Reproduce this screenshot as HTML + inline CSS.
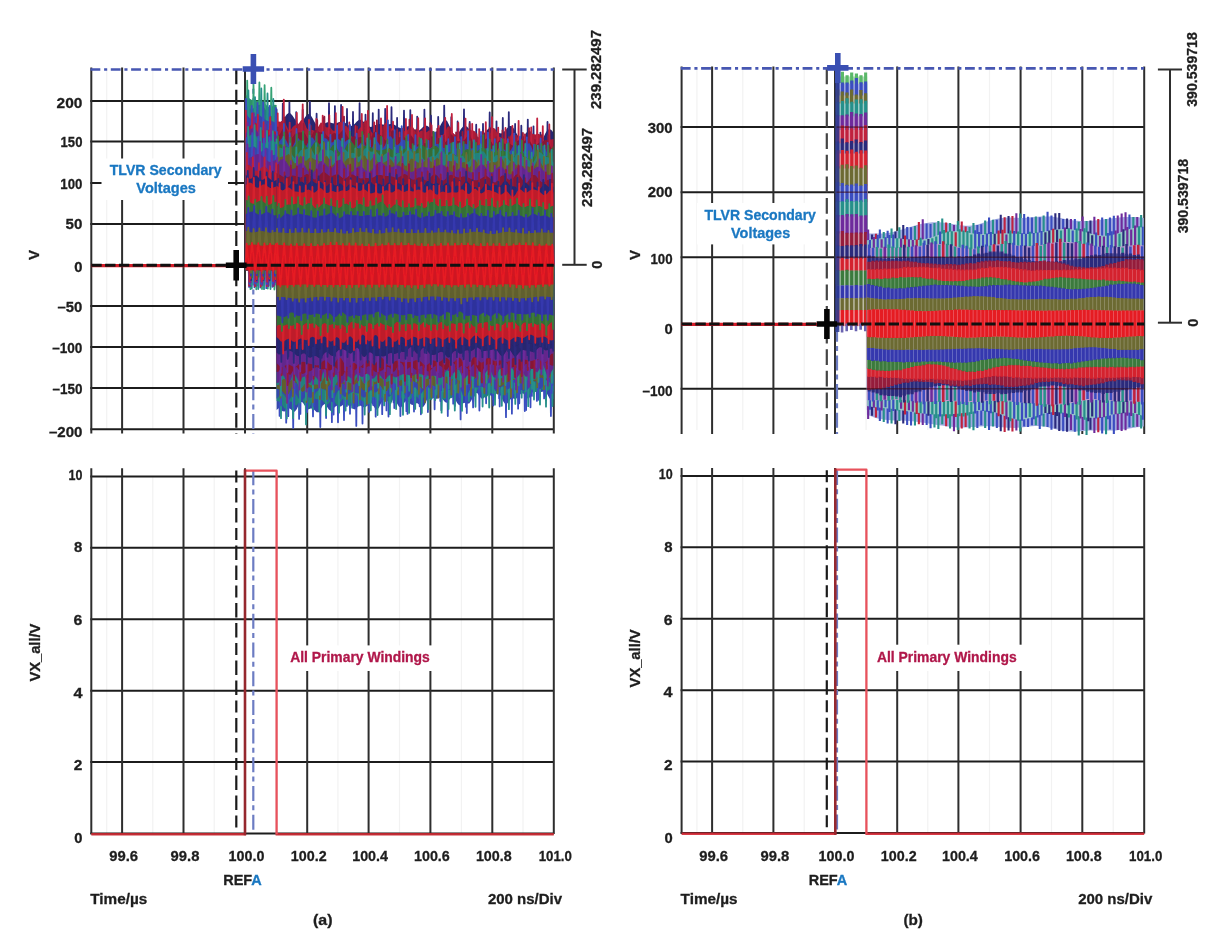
<!DOCTYPE html><html><head><meta charset="utf-8"><title>TLVR</title><style>html,body{margin:0;padding:0;background:#fff;overflow:hidden}svg{display:block;will-change:transform}</style></head><body>
<svg width="1227" height="940" viewBox="0 0 1227 940" font-family="'Liberation Sans', sans-serif">
<defs><filter id="bl" x="-2%" y="-2%" width="104%" height="104%"><feGaussianBlur stdDeviation="0.7"/></filter><clipPath id="cua"><rect x="0" y="0" width="1227" height="265.3"/></clipPath><clipPath id="cda"><rect x="0" y="265.3" width="1227" height="700"/></clipPath></defs>
<rect width="1227" height="940" fill="#fff"/>
<line x1="106.7" y1="69.5" x2="106.7" y2="429.5" stroke="#f2f2f2" stroke-width="1.2" />
<line x1="106.7" y1="476.3" x2="106.7" y2="833.5" stroke="#f2f2f2" stroke-width="1.2" />
<line x1="152.8" y1="69.5" x2="152.8" y2="429.5" stroke="#f2f2f2" stroke-width="1.2" />
<line x1="152.8" y1="476.3" x2="152.8" y2="833.5" stroke="#f2f2f2" stroke-width="1.2" />
<line x1="214.2" y1="69.5" x2="214.2" y2="429.5" stroke="#f2f2f2" stroke-width="1.2" />
<line x1="214.2" y1="476.3" x2="214.2" y2="833.5" stroke="#f2f2f2" stroke-width="1.2" />
<line x1="276.1" y1="69.5" x2="276.1" y2="429.5" stroke="#f2f2f2" stroke-width="1.2" />
<line x1="276.1" y1="476.3" x2="276.1" y2="833.5" stroke="#f2f2f2" stroke-width="1.2" />
<line x1="337.9" y1="69.5" x2="337.9" y2="429.5" stroke="#f2f2f2" stroke-width="1.2" />
<line x1="337.9" y1="476.3" x2="337.9" y2="833.5" stroke="#f2f2f2" stroke-width="1.2" />
<line x1="399.5" y1="69.5" x2="399.5" y2="429.5" stroke="#f2f2f2" stroke-width="1.2" />
<line x1="399.5" y1="476.3" x2="399.5" y2="833.5" stroke="#f2f2f2" stroke-width="1.2" />
<line x1="461.4" y1="69.5" x2="461.4" y2="429.5" stroke="#f2f2f2" stroke-width="1.2" />
<line x1="461.4" y1="476.3" x2="461.4" y2="833.5" stroke="#f2f2f2" stroke-width="1.2" />
<line x1="523" y1="69.5" x2="523" y2="429.5" stroke="#f2f2f2" stroke-width="1.2" />
<line x1="523" y1="476.3" x2="523" y2="833.5" stroke="#f2f2f2" stroke-width="1.2" />
<line x1="90.3" y1="101.1" x2="553.8" y2="101.1" stroke="#1c1c1c" stroke-width="2" />
<line x1="90.3" y1="141.5" x2="553.8" y2="141.5" stroke="#1c1c1c" stroke-width="2" />
<line x1="90.3" y1="183" x2="553.8" y2="183" stroke="#1c1c1c" stroke-width="2" />
<line x1="90.3" y1="224" x2="553.8" y2="224" stroke="#1c1c1c" stroke-width="2" />
<line x1="90.3" y1="306" x2="553.8" y2="306" stroke="#1c1c1c" stroke-width="2" />
<line x1="90.3" y1="347" x2="553.8" y2="347" stroke="#1c1c1c" stroke-width="2" />
<line x1="90.3" y1="388" x2="553.8" y2="388" stroke="#1c1c1c" stroke-width="2" />
<line x1="90.3" y1="429.2" x2="553.8" y2="429.2" stroke="#1c1c1c" stroke-width="2" />
<line x1="91.3" y1="67.5" x2="91.3" y2="433.5" stroke="#2e2e2e" stroke-width="2" />
<line x1="122.1" y1="67.5" x2="122.1" y2="433.5" stroke="#2e2e2e" stroke-width="2" />
<line x1="183.5" y1="67.5" x2="183.5" y2="433.5" stroke="#2e2e2e" stroke-width="2" />
<line x1="245" y1="67.5" x2="245" y2="433.5" stroke="#2e2e2e" stroke-width="2" />
<line x1="307.2" y1="67.5" x2="307.2" y2="433.5" stroke="#2e2e2e" stroke-width="2" />
<line x1="368.6" y1="67.5" x2="368.6" y2="433.5" stroke="#2e2e2e" stroke-width="2" />
<line x1="430.4" y1="67.5" x2="430.4" y2="433.5" stroke="#2e2e2e" stroke-width="2" />
<line x1="492.3" y1="67.5" x2="492.3" y2="433.5" stroke="#2e2e2e" stroke-width="2" />
<line x1="553.8" y1="67.5" x2="553.8" y2="433.5" stroke="#2e2e2e" stroke-width="2" />
<line x1="253.3" y1="69.5" x2="253.3" y2="433.5" stroke="#6c7cc2" stroke-width="2.2" stroke-dasharray="15 4.2 5 4.5"/>
<line x1="90.3" y1="476.4" x2="553.8" y2="476.4" stroke="#1c1c1c" stroke-width="2" />
<line x1="90.3" y1="547.8" x2="553.8" y2="547.8" stroke="#1c1c1c" stroke-width="2" />
<line x1="90.3" y1="619.2" x2="553.8" y2="619.2" stroke="#1c1c1c" stroke-width="2" />
<line x1="90.3" y1="690.7" x2="553.8" y2="690.7" stroke="#1c1c1c" stroke-width="2" />
<line x1="90.3" y1="762.1" x2="553.8" y2="762.1" stroke="#1c1c1c" stroke-width="2" />
<line x1="90.3" y1="833.5" x2="553.8" y2="833.5" stroke="#1c1c1c" stroke-width="2" />
<line x1="91.3" y1="468.3" x2="91.3" y2="834" stroke="#2e2e2e" stroke-width="2" />
<line x1="122.1" y1="468.3" x2="122.1" y2="834" stroke="#2e2e2e" stroke-width="2" />
<line x1="183.5" y1="468.3" x2="183.5" y2="834" stroke="#2e2e2e" stroke-width="2" />
<line x1="245" y1="468.3" x2="245" y2="834" stroke="#2e2e2e" stroke-width="2" />
<line x1="307.2" y1="468.3" x2="307.2" y2="834" stroke="#2e2e2e" stroke-width="2" />
<line x1="368.6" y1="468.3" x2="368.6" y2="834" stroke="#2e2e2e" stroke-width="2" />
<line x1="430.4" y1="468.3" x2="430.4" y2="834" stroke="#2e2e2e" stroke-width="2" />
<line x1="492.3" y1="468.3" x2="492.3" y2="834" stroke="#2e2e2e" stroke-width="2" />
<line x1="553.8" y1="468.3" x2="553.8" y2="834" stroke="#2e2e2e" stroke-width="2" />
<line x1="696.9" y1="68.4" x2="696.9" y2="430" stroke="#f2f2f2" stroke-width="1.2" />
<line x1="696.9" y1="476" x2="696.9" y2="833" stroke="#f2f2f2" stroke-width="1.2" />
<line x1="742.8" y1="68.4" x2="742.8" y2="430" stroke="#f2f2f2" stroke-width="1.2" />
<line x1="742.8" y1="476" x2="742.8" y2="833" stroke="#f2f2f2" stroke-width="1.2" />
<line x1="804.2" y1="68.4" x2="804.2" y2="430" stroke="#f2f2f2" stroke-width="1.2" />
<line x1="804.2" y1="476" x2="804.2" y2="833" stroke="#f2f2f2" stroke-width="1.2" />
<line x1="866.1" y1="68.4" x2="866.1" y2="430" stroke="#f2f2f2" stroke-width="1.2" />
<line x1="866.1" y1="476" x2="866.1" y2="833" stroke="#f2f2f2" stroke-width="1.2" />
<line x1="927.8" y1="68.4" x2="927.8" y2="430" stroke="#f2f2f2" stroke-width="1.2" />
<line x1="927.8" y1="476" x2="927.8" y2="833" stroke="#f2f2f2" stroke-width="1.2" />
<line x1="989.5" y1="68.4" x2="989.5" y2="430" stroke="#f2f2f2" stroke-width="1.2" />
<line x1="989.5" y1="476" x2="989.5" y2="833" stroke="#f2f2f2" stroke-width="1.2" />
<line x1="1051.5" y1="68.4" x2="1051.5" y2="430" stroke="#f2f2f2" stroke-width="1.2" />
<line x1="1051.5" y1="476" x2="1051.5" y2="833" stroke="#f2f2f2" stroke-width="1.2" />
<line x1="1113.2" y1="68.4" x2="1113.2" y2="430" stroke="#f2f2f2" stroke-width="1.2" />
<line x1="1113.2" y1="476" x2="1113.2" y2="833" stroke="#f2f2f2" stroke-width="1.2" />
<line x1="680.6" y1="127.1" x2="1144.2" y2="127.1" stroke="#1c1c1c" stroke-width="2" />
<line x1="680.6" y1="192.2" x2="1144.2" y2="192.2" stroke="#1c1c1c" stroke-width="2" />
<line x1="680.6" y1="257.2" x2="1144.2" y2="257.2" stroke="#1c1c1c" stroke-width="2" />
<line x1="680.6" y1="388.7" x2="1144.2" y2="388.7" stroke="#1c1c1c" stroke-width="2" />
<line x1="681.6" y1="66.4" x2="681.6" y2="434" stroke="#2e2e2e" stroke-width="2" />
<line x1="712.1" y1="66.4" x2="712.1" y2="434" stroke="#2e2e2e" stroke-width="2" />
<line x1="773.4" y1="66.4" x2="773.4" y2="434" stroke="#2e2e2e" stroke-width="2" />
<line x1="835" y1="66.4" x2="835" y2="434" stroke="#2e2e2e" stroke-width="2" />
<line x1="897.2" y1="66.4" x2="897.2" y2="434" stroke="#2e2e2e" stroke-width="2" />
<line x1="958.4" y1="66.4" x2="958.4" y2="434" stroke="#2e2e2e" stroke-width="2" />
<line x1="1020.6" y1="66.4" x2="1020.6" y2="434" stroke="#2e2e2e" stroke-width="2" />
<line x1="1082.3" y1="66.4" x2="1082.3" y2="434" stroke="#2e2e2e" stroke-width="2" />
<line x1="1144.2" y1="66.4" x2="1144.2" y2="434" stroke="#2e2e2e" stroke-width="2" />
<line x1="837" y1="68.4" x2="837" y2="434" stroke="#6c7cc2" stroke-width="2.2" stroke-dasharray="15 4.2 5 4.5"/>
<line x1="680.6" y1="475.9" x2="1144.2" y2="475.9" stroke="#1c1c1c" stroke-width="2" />
<line x1="680.6" y1="547.3" x2="1144.2" y2="547.3" stroke="#1c1c1c" stroke-width="2" />
<line x1="680.6" y1="618.7" x2="1144.2" y2="618.7" stroke="#1c1c1c" stroke-width="2" />
<line x1="680.6" y1="690.2" x2="1144.2" y2="690.2" stroke="#1c1c1c" stroke-width="2" />
<line x1="680.6" y1="761.6" x2="1144.2" y2="761.6" stroke="#1c1c1c" stroke-width="2" />
<line x1="680.6" y1="833" x2="1144.2" y2="833" stroke="#1c1c1c" stroke-width="2" />
<line x1="681.6" y1="468" x2="681.6" y2="833.5" stroke="#2e2e2e" stroke-width="2" />
<line x1="712.1" y1="468" x2="712.1" y2="833.5" stroke="#2e2e2e" stroke-width="2" />
<line x1="773.4" y1="468" x2="773.4" y2="833.5" stroke="#2e2e2e" stroke-width="2" />
<line x1="835" y1="468" x2="835" y2="833.5" stroke="#2e2e2e" stroke-width="2" />
<line x1="897.2" y1="468" x2="897.2" y2="833.5" stroke="#2e2e2e" stroke-width="2" />
<line x1="958.4" y1="468" x2="958.4" y2="833.5" stroke="#2e2e2e" stroke-width="2" />
<line x1="1020.6" y1="468" x2="1020.6" y2="833.5" stroke="#2e2e2e" stroke-width="2" />
<line x1="1082.3" y1="468" x2="1082.3" y2="833.5" stroke="#2e2e2e" stroke-width="2" />
<line x1="1144.2" y1="468" x2="1144.2" y2="833.5" stroke="#2e2e2e" stroke-width="2" />
<g filter="url(#bl)">
<path d="M245.8 94.6L247.9 96.9 249.9 98.8 252 99.9 254 100.3 256.1 100.4 258.1 100.5 260.2 100.6 262.2 101.2 264.3 102.6 266.3 104.9 268.4 106.8 270.4 107.4 272.5 106.3 274.5 104.8 276.6 105.1 276.6 270.3 274.5 270.3 272.5 270.3 270.4 270.3 268.4 270.3 266.3 270.3 264.3 270.3 262.2 270.3 260.2 270.3 258.1 270.3 256.1 270.3 254 270.3 252 270.3 249.9 270.3 247.9 270.3 245.8 270.3Z" fill="#2e9168" stroke="none"/>
<path d="M245.8 265.3L247.2 80.6 250.5 289.2 253.5 84.8 256.3 289.3 259.4 82.5 262 289 264.6 85.1 267.8 288.5 271.3 87.7 274.4 289.5 276.6 265.3" fill="none" stroke="#34a274" stroke-width="1.8" stroke-linejoin="round" stroke-opacity="1.0"/>
<path d="M276.6 123.2L278.6 123.3 280.6 122.4 282.6 120.3 284.6 117.4 286.6 114.6 288.6 113.1 290.6 113.4 292.6 115.7 294.7 119 296.7 122.2 298.7 123.9 300.7 123.5 302.7 121 304.7 117.7 306.7 114.9 308.7 113.9 310.7 115.2 312.7 118.4 314.7 122.3 316.7 125.5 318.7 127.1 320.7 126.9 322.7 125.4 324.7 123.6 326.7 122.4 328.8 122.1 330.8 122.7 332.8 123.3 334.8 123.5 336.8 123 338.8 122.2 340.8 121.5 342.8 121.5 344.8 122.5 346.8 124 348.8 125.5 350.8 126.1 352.8 125.4 354.8 123.7 356.8 121.6 358.8 120.1 360.8 119.8 362.8 121 364.9 123 366.9 125.1 368.9 126.5 370.9 126.9 372.9 126.3 374.9 125.3 376.9 124.4 378.9 124 380.9 124.2 382.9 124.6 384.9 124.8 386.9 124.6 388.9 124.2 390.9 123.9 392.9 124.2 394.9 125.1 396.9 126.4 399 127.6 401 128.2 403 128 405 127.2 407 126.4 409 126.1 411 126.8 413 128.2 415 129.8 417 130.7 419 130.4 421 128.9 423 127.1 425 125.7 427 125.7 429 127.1 431 129.5 433.1 131.7 435.1 132.5 437.1 131.1 439.1 127.9 441.1 123.9 443.1 120.7 445.1 119.6 447.1 121.1 449.1 124.9 451.1 129.4 453.1 133.2 455.1 135 457.1 134.3 459.1 131.9 461.1 128.8 463.1 126.4 465.1 125.7 467.2 126.8 469.2 129.3 471.2 132.4 473.2 135.2 475.2 137 477.2 137.6 479.2 137.1 481.2 135.8 483.2 133.9 485.2 131.8 487.2 129.8 489.2 128.3 491.2 127.6 493.2 128.1 495.2 129.5 497.2 131.4 499.2 132.9 501.2 133.5 503.3 132.6 505.3 130.4 507.3 127.9 509.3 126.1 511.3 126 513.3 127.8 515.3 131.2 517.3 134.8 519.3 137.4 521.3 138 523.3 136.5 525.3 133.9 527.3 131.4 529.3 130.5 531.3 131.9 533.3 135.1 535.3 139 537.4 142 539.4 142.9 541.4 141.2 543.4 137.5 545.4 133.3 547.4 130.1 549.4 128.9 551.4 129.9 553.4 132.5 553.4 265.3 551.4 265.3 549.4 265.3 547.4 265.3 545.4 265.3 543.4 265.3 541.4 265.3 539.4 265.3 537.4 265.3 535.3 265.3 533.3 265.3 531.3 265.3 529.3 265.3 527.3 265.3 525.3 265.3 523.3 265.3 521.3 265.3 519.3 265.3 517.3 265.3 515.3 265.3 513.3 265.3 511.3 265.3 509.3 265.3 507.3 265.3 505.3 265.3 503.3 265.3 501.2 265.3 499.2 265.3 497.2 265.3 495.2 265.3 493.2 265.3 491.2 265.3 489.2 265.3 487.2 265.3 485.2 265.3 483.2 265.3 481.2 265.3 479.2 265.3 477.2 265.3 475.2 265.3 473.2 265.3 471.2 265.3 469.2 265.3 467.2 265.3 465.1 265.3 463.1 265.3 461.1 265.3 459.1 265.3 457.1 265.3 455.1 265.3 453.1 265.3 451.1 265.3 449.1 265.3 447.1 265.3 445.1 265.3 443.1 265.3 441.1 265.3 439.1 265.3 437.1 265.3 435.1 265.3 433.1 265.3 431 265.3 429 265.3 427 265.3 425 265.3 423 265.3 421 265.3 419 265.3 417 265.3 415 265.3 413 265.3 411 265.3 409 265.3 407 265.3 405 265.3 403 265.3 401 265.3 399 265.3 396.9 265.3 394.9 265.3 392.9 265.3 390.9 265.3 388.9 265.3 386.9 265.3 384.9 265.3 382.9 265.3 380.9 265.3 378.9 265.3 376.9 265.3 374.9 265.3 372.9 265.3 370.9 265.3 368.9 265.3 366.9 265.3 364.9 265.3 362.8 265.3 360.8 265.3 358.8 265.3 356.8 265.3 354.8 265.3 352.8 265.3 350.8 265.3 348.8 265.3 346.8 265.3 344.8 265.3 342.8 265.3 340.8 265.3 338.8 265.3 336.8 265.3 334.8 265.3 332.8 265.3 330.8 265.3 328.8 265.3 326.7 265.3 324.7 265.3 322.7 265.3 320.7 265.3 318.7 265.3 316.7 265.3 314.7 265.3 312.7 265.3 310.7 265.3 308.7 265.3 306.7 265.3 304.7 265.3 302.7 265.3 300.7 265.3 298.7 265.3 296.7 265.3 294.7 265.3 292.6 265.3 290.6 265.3 288.6 265.3 286.6 265.3 284.6 265.3 282.6 265.3 280.6 265.3 278.6 265.3 276.6 265.3Z" fill="#27256f" stroke="none"/>
<path d="M276.6 265.3L278.6 265.3 280.6 265.3 282.6 265.3 284.6 265.3 286.6 265.3 288.6 265.3 290.6 265.3 292.6 265.3 294.7 265.3 296.7 265.3 298.7 265.3 300.7 265.3 302.7 265.3 304.7 265.3 306.7 265.3 308.7 265.3 310.7 265.3 312.7 265.3 314.7 265.3 316.7 265.3 318.7 265.3 320.7 265.3 322.7 265.3 324.7 265.3 326.7 265.3 328.8 265.3 330.8 265.3 332.8 265.3 334.8 265.3 336.8 265.3 338.8 265.3 340.8 265.3 342.8 265.3 344.8 265.3 346.8 265.3 348.8 265.3 350.8 265.3 352.8 265.3 354.8 265.3 356.8 265.3 358.8 265.3 360.8 265.3 362.8 265.3 364.9 265.3 366.9 265.3 368.9 265.3 370.9 265.3 372.9 265.3 374.9 265.3 376.9 265.3 378.9 265.3 380.9 265.3 382.9 265.3 384.9 265.3 386.9 265.3 388.9 265.3 390.9 265.3 392.9 265.3 394.9 265.3 396.9 265.3 399 265.3 401 265.3 403 265.3 405 265.3 407 265.3 409 265.3 411 265.3 413 265.3 415 265.3 417 265.3 419 265.3 421 265.3 423 265.3 425 265.3 427 265.3 429 265.3 431 265.3 433.1 265.3 435.1 265.3 437.1 265.3 439.1 265.3 441.1 265.3 443.1 265.3 445.1 265.3 447.1 265.3 449.1 265.3 451.1 265.3 453.1 265.3 455.1 265.3 457.1 265.3 459.1 265.3 461.1 265.3 463.1 265.3 465.1 265.3 467.2 265.3 469.2 265.3 471.2 265.3 473.2 265.3 475.2 265.3 477.2 265.3 479.2 265.3 481.2 265.3 483.2 265.3 485.2 265.3 487.2 265.3 489.2 265.3 491.2 265.3 493.2 265.3 495.2 265.3 497.2 265.3 499.2 265.3 501.2 265.3 503.3 265.3 505.3 265.3 507.3 265.3 509.3 265.3 511.3 265.3 513.3 265.3 515.3 265.3 517.3 265.3 519.3 265.3 521.3 265.3 523.3 265.3 525.3 265.3 527.3 265.3 529.3 265.3 531.3 265.3 533.3 265.3 535.3 265.3 537.4 265.3 539.4 265.3 541.4 265.3 543.4 265.3 545.4 265.3 547.4 265.3 549.4 265.3 551.4 265.3 553.4 265.3 553.4 399.1 551.4 400.4 549.4 398.3 547.4 394.5 545.4 391.8 543.4 391.5 541.4 392.1 539.4 391.8 537.4 390.2 535.3 389.2 533.3 390.8 531.3 394.6 529.3 398 527.3 398.4 525.3 396 523.3 393.5 521.3 393.3 519.3 395.5 517.3 398.1 515.3 398.9 513.3 398.4 511.3 398.6 509.3 400.8 507.3 403.5 505.3 404.2 503.3 401.5 501.2 396.8 499.2 393.5 497.2 393.2 495.2 395.1 493.2 396.4 491.2 395.9 489.2 394.6 487.2 394.6 485.2 396.6 483.2 398.6 481.2 398.4 479.2 395.8 477.2 393 475.2 393.1 473.2 396.5 471.2 400.8 469.2 403.4 467.2 403.4 465.1 402.7 463.1 403.2 461.1 404.8 459.1 405.3 457.1 403.1 455.1 399.2 453.1 396.5 451.1 397 449.1 400 447.1 402.5 445.1 402.2 443.1 399.8 441.1 397.7 439.1 397.7 437.1 398.7 435.1 398.8 433.1 397 431 395.1 429 395.7 427 399.5 425 404.4 423 407.2 421 406.6 419 404.4 417 403.1 415 403.9 413 405.1 411 404.6 409 402.5 407 400.8 405 401.8 403 404.9 401 407.4 399 406.8 396.9 403.2 394.9 399.5 392.9 398.2 390.9 399.5 388.9 401 386.9 401 384.9 400.1 382.9 400.6 380.9 403.6 378.9 407.7 376.9 409.8 374.9 408.3 372.9 404.9 370.9 402.7 368.9 403.4 366.9 406 364.9 407.6 362.8 407.1 360.8 405.8 358.8 405.8 356.8 407.8 354.8 409.5 352.8 408.4 350.8 404.5 348.8 400.5 346.8 399.3 344.8 401.6 342.8 404.9 340.8 406.6 338.8 406.3 336.8 405.7 334.8 407 332.8 409.5 330.8 411 328.8 409.5 326.7 406.2 324.7 404.1 322.7 405.4 320.7 409.2 318.7 412.2 316.7 412.3 314.7 410.2 312.7 408.4 310.7 408.4 308.7 409.3 306.7 408.6 304.7 405.6 302.7 402.4 300.7 401.8 298.7 404.9 296.7 409.2 294.7 411.7 292.6 411 290.6 408.9 288.6 408.2 286.6 409.7 284.6 411.4 282.6 411.3 280.6 409.5 278.6 408.2 276.6 409.9Z" fill="#3446ac" stroke="none"/>
<path d="M276.6 265.3L276.6 109.4 279.6 415.9 282.8 103.6 286.2 422.7 289.4 102.3 293.2 427.9 296.2 112.1 299.1 418.9 302.7 109.7 306.2 415.1 309.9 101.7 313 416.4 316.6 113.6 320.3 427 323.1 117.5 326.1 418 329 103.2 331.9 422.2 334.9 106.1 338 422.3 341.1 105 344 420.1 347 109 350 413.8 353 112 356.3 425.9 359.6 103.1 362.5 423.5 365.5 114.7 369.2 411.9 372.8 113.2 375.7 416.7 378.7 109.6 382.2 414.2 385.2 108.8 388.5 416.6 391.5 107.2 394.3 408 397.1 117.8 400.4 416 404 110.6 407.5 413.9 410.3 110.1 414 411.6 417.2 116.6 420.9 414.3 424.4 109.6 427.9 412.1 431 115.7 434.6 409.3 438.2 116.9 441.3 410.3 444.2 105.6 447.8 416.1 451.3 117.1 454.8 406.1 457.6 121.4 460.6 419.4 464 109.3 466.8 413.1 469.7 121.8 473.1 407.4 476.2 124.7 479.4 410.5 483 123.8 486.1 403.3 489.7 112.5 493.3 405.5 496.5 121.3 499.7 406.4 502.8 118 506 417.2 508.8 112.1 511.9 413.7 515.1 123.9 518.1 408.7 521.3 125.7 524.8 411.1 527.8 119.6 530.5 407.3 533.5 126.3 536.9 400.9 540.4 132.6 544.1 398.4 547.5 122 550.9 416.1 553.4 265.3" fill="none" stroke="#2c2a7c" stroke-width="1.8" stroke-linejoin="round" clip-path="url(#cua)"/>
<path d="M276.6 265.3L276.6 109.4 279.6 415.9 282.8 103.6 286.2 422.7 289.4 102.3 293.2 427.9 296.2 112.1 299.1 418.9 302.7 109.7 306.2 415.1 309.9 101.7 313 416.4 316.6 113.6 320.3 427 323.1 117.5 326.1 418 329 103.2 331.9 422.2 334.9 106.1 338 422.3 341.1 105 344 420.1 347 109 350 413.8 353 112 356.3 425.9 359.6 103.1 362.5 423.5 365.5 114.7 369.2 411.9 372.8 113.2 375.7 416.7 378.7 109.6 382.2 414.2 385.2 108.8 388.5 416.6 391.5 107.2 394.3 408 397.1 117.8 400.4 416 404 110.6 407.5 413.9 410.3 110.1 414 411.6 417.2 116.6 420.9 414.3 424.4 109.6 427.9 412.1 431 115.7 434.6 409.3 438.2 116.9 441.3 410.3 444.2 105.6 447.8 416.1 451.3 117.1 454.8 406.1 457.6 121.4 460.6 419.4 464 109.3 466.8 413.1 469.7 121.8 473.1 407.4 476.2 124.7 479.4 410.5 483 123.8 486.1 403.3 489.7 112.5 493.3 405.5 496.5 121.3 499.7 406.4 502.8 118 506 417.2 508.8 112.1 511.9 413.7 515.1 123.9 518.1 408.7 521.3 125.7 524.8 411.1 527.8 119.6 530.5 407.3 533.5 126.3 536.9 400.9 540.4 132.6 544.1 398.4 547.5 122 550.9 416.1 553.4 265.3" fill="none" stroke="#3a4ec0" stroke-width="1.8" stroke-linejoin="round" clip-path="url(#cda)"/>
<path d="M245.8 104.7L247.9 107.2 249.9 108.7 252 108.9 254 108 256.1 106.4 258.1 105.1 260.2 104.8 262.2 105.7 264.3 107.8 266.3 110.7 268.4 113.6 270.4 115.7 272.5 116.6 274.5 116.2 276.6 114.8 276.6 270.3 274.5 270.3 272.5 270.3 270.4 270.3 268.4 270.3 266.3 270.3 264.3 270.3 262.2 270.3 260.2 270.3 258.1 270.3 256.1 270.3 254 270.3 252 270.3 249.9 270.3 247.9 270.3 245.8 270.3Z" fill="#22817c" stroke="none"/>
<path d="M245.8 265.3L248.4 90.5 251.8 288.4 255 97.1 258.2 289 261.3 88.5 264 289.2 267.5 93.5 270.5 289 273.3 99 276.6 265.3" fill="none" stroke="#26908a" stroke-width="1.8" stroke-linejoin="round" stroke-opacity="1.0"/>
<path d="M276.6 121.2L278.6 121.6 280.6 121.7 282.6 120.5 284.6 121.4 286.6 125.9 288.6 130.1 290.6 130.2 292.6 127.1 294.7 125.2 296.7 125.1 298.7 123.8 300.7 120.6 302.7 119.5 304.7 123 306.7 128.1 308.7 130.3 310.7 129.8 312.7 130 314.7 131.3 316.7 130.3 318.7 126 320.7 122.4 322.7 123 324.7 126 326.7 127.5 328.8 127.1 330.8 128.1 332.8 130.6 334.8 130.9 336.8 127.1 338.8 122.6 340.8 121.8 342.8 123.9 344.8 125.4 346.8 126.2 348.8 129.2 350.8 134.7 352.8 138.4 354.8 136.8 356.8 132.3 358.8 129.1 360.8 127.3 362.8 124.3 364.9 120.6 366.9 120.4 368.9 125.1 370.9 131 372.9 133.7 374.9 134.1 376.9 135 378.9 135.8 380.9 133.2 382.9 127.4 384.9 123.1 386.9 123.5 388.9 126.3 390.9 128 392.9 129.3 394.9 132.8 396.9 137.6 399 139.2 401 136.1 403 132.2 405 130.8 407 130.5 409 128.6 411 126.3 413 127.1 415 130.9 417 133.4 419 132.4 421 130.5 423 131 425 132.5 427 132 429 130.2 431 131.2 433.1 135.3 435.1 138.5 437.1 137.9 439.1 135.7 441.1 135 443.1 134.7 445.1 131.9 447.1 127.5 449.1 126 451.1 129 453.1 133.1 455.1 135 457.1 135.9 459.1 138.2 461.1 140.4 463.1 138.9 465.1 133.7 467.2 129.5 469.2 129 471.2 130.2 473.2 130.5 475.2 131.4 477.2 135.5 479.2 141.3 481.2 143.9 483.2 142 485.2 138.7 487.2 137.1 489.2 135.4 491.2 131.7 493.2 128.1 495.2 128.7 497.2 133 499.2 136.7 501.2 137.5 503.3 137.7 505.3 139.4 507.3 140.4 509.3 138.1 511.3 134 513.3 132.7 515.3 135.1 517.3 137.6 519.3 138.1 521.3 138.6 523.3 141.1 525.3 143.3 527.3 141.7 529.3 137.1 531.3 134 533.3 134 535.3 134.5 537.4 133.7 539.4 133.9 541.4 137.3 543.4 142 545.4 143.5 547.4 141.5 549.4 139.6 551.4 139.5 553.4 139 553.4 265.3 551.4 265.3 549.4 265.3 547.4 265.3 545.4 265.3 543.4 265.3 541.4 265.3 539.4 265.3 537.4 265.3 535.3 265.3 533.3 265.3 531.3 265.3 529.3 265.3 527.3 265.3 525.3 265.3 523.3 265.3 521.3 265.3 519.3 265.3 517.3 265.3 515.3 265.3 513.3 265.3 511.3 265.3 509.3 265.3 507.3 265.3 505.3 265.3 503.3 265.3 501.2 265.3 499.2 265.3 497.2 265.3 495.2 265.3 493.2 265.3 491.2 265.3 489.2 265.3 487.2 265.3 485.2 265.3 483.2 265.3 481.2 265.3 479.2 265.3 477.2 265.3 475.2 265.3 473.2 265.3 471.2 265.3 469.2 265.3 467.2 265.3 465.1 265.3 463.1 265.3 461.1 265.3 459.1 265.3 457.1 265.3 455.1 265.3 453.1 265.3 451.1 265.3 449.1 265.3 447.1 265.3 445.1 265.3 443.1 265.3 441.1 265.3 439.1 265.3 437.1 265.3 435.1 265.3 433.1 265.3 431 265.3 429 265.3 427 265.3 425 265.3 423 265.3 421 265.3 419 265.3 417 265.3 415 265.3 413 265.3 411 265.3 409 265.3 407 265.3 405 265.3 403 265.3 401 265.3 399 265.3 396.9 265.3 394.9 265.3 392.9 265.3 390.9 265.3 388.9 265.3 386.9 265.3 384.9 265.3 382.9 265.3 380.9 265.3 378.9 265.3 376.9 265.3 374.9 265.3 372.9 265.3 370.9 265.3 368.9 265.3 366.9 265.3 364.9 265.3 362.8 265.3 360.8 265.3 358.8 265.3 356.8 265.3 354.8 265.3 352.8 265.3 350.8 265.3 348.8 265.3 346.8 265.3 344.8 265.3 342.8 265.3 340.8 265.3 338.8 265.3 336.8 265.3 334.8 265.3 332.8 265.3 330.8 265.3 328.8 265.3 326.7 265.3 324.7 265.3 322.7 265.3 320.7 265.3 318.7 265.3 316.7 265.3 314.7 265.3 312.7 265.3 310.7 265.3 308.7 265.3 306.7 265.3 304.7 265.3 302.7 265.3 300.7 265.3 298.7 265.3 296.7 265.3 294.7 265.3 292.6 265.3 290.6 265.3 288.6 265.3 286.6 265.3 284.6 265.3 282.6 265.3 280.6 265.3 278.6 265.3 276.6 265.3Z" fill="#ac1c37" stroke="none"/>
<path d="M276.6 265.3L278.6 265.3 280.6 265.3 282.6 265.3 284.6 265.3 286.6 265.3 288.6 265.3 290.6 265.3 292.6 265.3 294.7 265.3 296.7 265.3 298.7 265.3 300.7 265.3 302.7 265.3 304.7 265.3 306.7 265.3 308.7 265.3 310.7 265.3 312.7 265.3 314.7 265.3 316.7 265.3 318.7 265.3 320.7 265.3 322.7 265.3 324.7 265.3 326.7 265.3 328.8 265.3 330.8 265.3 332.8 265.3 334.8 265.3 336.8 265.3 338.8 265.3 340.8 265.3 342.8 265.3 344.8 265.3 346.8 265.3 348.8 265.3 350.8 265.3 352.8 265.3 354.8 265.3 356.8 265.3 358.8 265.3 360.8 265.3 362.8 265.3 364.9 265.3 366.9 265.3 368.9 265.3 370.9 265.3 372.9 265.3 374.9 265.3 376.9 265.3 378.9 265.3 380.9 265.3 382.9 265.3 384.9 265.3 386.9 265.3 388.9 265.3 390.9 265.3 392.9 265.3 394.9 265.3 396.9 265.3 399 265.3 401 265.3 403 265.3 405 265.3 407 265.3 409 265.3 411 265.3 413 265.3 415 265.3 417 265.3 419 265.3 421 265.3 423 265.3 425 265.3 427 265.3 429 265.3 431 265.3 433.1 265.3 435.1 265.3 437.1 265.3 439.1 265.3 441.1 265.3 443.1 265.3 445.1 265.3 447.1 265.3 449.1 265.3 451.1 265.3 453.1 265.3 455.1 265.3 457.1 265.3 459.1 265.3 461.1 265.3 463.1 265.3 465.1 265.3 467.2 265.3 469.2 265.3 471.2 265.3 473.2 265.3 475.2 265.3 477.2 265.3 479.2 265.3 481.2 265.3 483.2 265.3 485.2 265.3 487.2 265.3 489.2 265.3 491.2 265.3 493.2 265.3 495.2 265.3 497.2 265.3 499.2 265.3 501.2 265.3 503.3 265.3 505.3 265.3 507.3 265.3 509.3 265.3 511.3 265.3 513.3 265.3 515.3 265.3 517.3 265.3 519.3 265.3 521.3 265.3 523.3 265.3 525.3 265.3 527.3 265.3 529.3 265.3 531.3 265.3 533.3 265.3 535.3 265.3 537.4 265.3 539.4 265.3 541.4 265.3 543.4 265.3 545.4 265.3 547.4 265.3 549.4 265.3 551.4 265.3 553.4 265.3 553.4 391.5 551.4 389.7 549.4 389.6 547.4 390.9 545.4 391.1 543.4 389.9 541.4 388.9 539.4 389.7 537.4 391.4 535.3 392.1 533.3 391.8 531.3 392.4 529.3 395.1 527.3 397.8 525.3 396.7 523.3 391.5 521.3 386 519.3 384.9 517.3 388.6 515.3 393.1 513.3 394.4 511.3 392.9 509.3 391.9 507.3 393.1 505.3 395.2 503.3 395.3 501.2 393.6 499.2 392 497.2 392.3 495.2 393.3 493.2 393.5 491.2 393 489.2 393.9 487.2 396.4 485.2 397.9 483.2 395.9 481.2 391.2 479.2 388.2 477.2 390.2 475.2 395.3 473.2 398.8 471.2 397.8 469.2 394.4 467.2 392.7 465.1 393.9 463.1 395.6 461.1 395.3 459.1 393.6 457.1 393.1 455.1 394.8 453.1 397.2 451.1 398.3 449.1 398.3 447.1 398.9 445.1 399.8 443.1 398.9 441.1 394.8 439.1 389.9 437.1 388.6 435.1 392.4 433.1 398 431 400.5 429 398.5 427 395.8 425 395.8 423 398.5 421 400.4 419 399.3 417 396.7 415 395.9 413 397.3 411 399.1 409 399.3 407 398.6 405 398.6 403 399 401 397.9 399 394.9 396.9 392.7 394.9 394.5 392.9 399.8 390.9 404.3 388.9 404 386.9 399.7 384.9 396.2 382.9 396.7 380.9 399.4 378.9 400.7 376.9 399.1 374.9 397.2 372.9 398.1 370.9 401.3 368.9 403.9 366.9 403.9 364.9 402.4 362.8 401.2 360.8 400.1 358.8 397.9 356.8 394.9 354.8 394 352.8 397.2 350.8 402.7 348.8 405.9 346.8 404.1 344.8 400.2 342.8 398.8 340.8 401.4 338.8 404.8 336.8 405.1 334.8 402.2 332.8 399.9 330.8 400.8 328.8 403.5 326.7 404.7 324.7 403.2 322.7 400.8 320.7 399.7 318.7 399.6 316.7 399.1 314.7 398.7 312.7 400.4 310.7 404.8 308.7 409.2 306.7 409.4 304.7 405.1 302.7 400.4 300.7 399.6 298.7 402.7 296.7 405.5 294.7 404.8 292.6 402.1 290.6 401.5 288.6 404.4 286.6 408.1 284.6 408.8 282.6 406.1 280.6 402.8 278.6 401.3 276.6 401.1Z" fill="#22817c" stroke="none"/>
<path d="M276.6 265.3L277.7 113.3 281 418.2 283.8 99.6 286.8 418.5 289.7 122.6 293.1 418.2 296.8 113 299.7 409.9 302.7 104.3 306 424.4 309 119.8 312.7 409.2 316.4 118.8 319.3 411.6 322.7 115.6 326 415.4 329.3 115.2 332.1 411.9 335.8 113.1 339 412.7 342.6 107 345.6 410.5 349.3 122.5 352.1 407.7 355.5 125.8 358.9 405.5 361.8 114 364.7 414.5 367.9 110.8 370.8 410.3 374.2 122.3 377.5 415.1 381 118.3 384.1 405.4 387.1 106 389.9 414.2 393 121.7 396.1 409 399.6 132.3 403 414.8 405.9 119 409.1 412.9 412 114.9 415.2 408.9 418.2 118.2 421.8 413.1 425.1 118.3 428.3 409 431.6 125.5 435.2 400 438.7 125.8 441.6 412.7 445.2 118 448.5 409 451.8 113.9 454.8 410.6 458.3 122.8 462 410.8 465.5 118.6 468.9 401.1 472.2 123.8 475.5 406.8 479.2 129.1 482.6 406.6 485.8 122.2 489.2 407.6 492 117.1 495 404.7 498.2 127.6 501.8 405.8 505.5 128 508.9 409.2 512.4 125.8 515.3 403.9 518.6 120.8 521.7 397.7 524.8 134.4 528.2 406.2 531.2 127.5 534 399.6 537.2 118.4 540 404.6 542.8 126.1 546 406.7 549.3 124.5 552.5 406.1 553.4 265.3" fill="none" stroke="#c0203e" stroke-width="1.8" stroke-linejoin="round" clip-path="url(#cua)"/>
<path d="M276.6 265.3L277.7 113.3 281 418.2 283.8 99.6 286.8 418.5 289.7 122.6 293.1 418.2 296.8 113 299.7 409.9 302.7 104.3 306 424.4 309 119.8 312.7 409.2 316.4 118.8 319.3 411.6 322.7 115.6 326 415.4 329.3 115.2 332.1 411.9 335.8 113.1 339 412.7 342.6 107 345.6 410.5 349.3 122.5 352.1 407.7 355.5 125.8 358.9 405.5 361.8 114 364.7 414.5 367.9 110.8 370.8 410.3 374.2 122.3 377.5 415.1 381 118.3 384.1 405.4 387.1 106 389.9 414.2 393 121.7 396.1 409 399.6 132.3 403 414.8 405.9 119 409.1 412.9 412 114.9 415.2 408.9 418.2 118.2 421.8 413.1 425.1 118.3 428.3 409 431.6 125.5 435.2 400 438.7 125.8 441.6 412.7 445.2 118 448.5 409 451.8 113.9 454.8 410.6 458.3 122.8 462 410.8 465.5 118.6 468.9 401.1 472.2 123.8 475.5 406.8 479.2 129.1 482.6 406.6 485.8 122.2 489.2 407.6 492 117.1 495 404.7 498.2 127.6 501.8 405.8 505.5 128 508.9 409.2 512.4 125.8 515.3 403.9 518.6 120.8 521.7 397.7 524.8 134.4 528.2 406.2 531.2 127.5 534 399.6 537.2 118.4 540 404.6 542.8 126.1 546 406.7 549.3 124.5 552.5 406.1 553.4 265.3" fill="none" stroke="#26908a" stroke-width="1.8" stroke-linejoin="round" clip-path="url(#cda)"/>
<path d="M245.8 112.8L247.9 116.3 249.9 118.5 252 118.8 254 117.6 256.1 116.1 258.1 115.2 260.2 115.8 262.2 117.3 264.3 119.2 266.3 120.4 268.4 120.9 270.4 120.9 272.5 121.2 274.5 122.3 276.6 124 276.6 270.3 274.5 270.3 272.5 270.3 270.4 270.3 268.4 270.3 266.3 270.3 264.3 270.3 262.2 270.3 260.2 270.3 258.1 270.3 256.1 270.3 254 270.3 252 270.3 249.9 270.3 247.9 270.3 245.8 270.3Z" fill="#3446ac" stroke="none"/>
<path d="M245.8 265.3L246.1 98.8 249.1 286.9 251.7 105.9 254.4 287.3 257.5 102.8 260.3 287.5 263.2 102.3 266.3 288.2 269.7 105.8 272.4 286.8 275.8 107.8 276.6 265.3" fill="none" stroke="#3a4ec0" stroke-width="1.8" stroke-linejoin="round" stroke-opacity="1.0"/>
<path d="M276.6 136.8L278.6 135.9 280.6 133.1 282.6 128.7 284.6 126.4 286.6 129 288.6 134.6 290.6 138.1 292.6 137.2 294.7 134.2 296.7 132.6 298.7 132.6 300.7 132.4 302.7 131.9 304.7 133.2 306.7 136.8 308.7 139.6 310.7 138.2 312.7 133.6 314.7 130 316.7 130 318.7 131.8 320.7 132.4 322.7 132 324.7 132.8 326.7 135.4 328.8 137.2 330.8 136 332.8 133.6 334.8 133 336.8 134.2 338.8 134.4 340.8 132.2 342.8 130.1 344.8 131.3 346.8 135.2 348.8 138.2 350.8 138 352.8 136.4 354.8 136.2 356.8 137.2 358.8 137.4 360.8 136.8 362.8 137.8 364.9 141.5 366.9 144.8 368.9 143.7 370.9 138.4 372.9 133.1 374.9 131.4 376.9 132.7 378.9 134.2 380.9 135.4 382.9 137.5 384.9 140.2 386.9 140.4 388.9 136.7 390.9 131.7 392.9 129.9 394.9 132.5 396.9 136.1 399 137.4 401 136.8 403 136.8 405 137.7 407 137.6 409 135.9 411 135.2 413 137.8 415 142.2 417 144.7 419 143.8 421 142.1 423 142.3 425 143.4 427 142.6 429 139.4 431 136.6 433.1 136.6 435.1 138.1 437.1 138.6 439.1 138 441.1 138.8 443.1 141.2 445.1 142.6 447.1 140.3 449.1 136.1 451.1 134.1 453.1 136 455.1 139.5 457.1 141.1 459.1 140.9 461.1 140.7 463.1 140.7 465.1 139.3 467.2 136.3 469.2 134.8 471.2 137.7 473.2 143.6 475.2 148 477.2 147.8 479.2 144.9 481.2 142.4 483.2 141.1 485.2 139.6 487.2 137.9 489.2 138.3 491.2 141.6 493.2 145.2 495.2 145.6 497.2 142.7 499.2 140.3 501.2 140.9 503.3 143.1 505.3 143.9 507.3 143.2 509.3 143.1 511.3 144.7 513.3 145.7 515.3 144 517.3 141.1 519.3 139.9 521.3 141 523.3 141.8 525.3 140.4 527.3 138.7 529.3 139.8 531.3 143.6 533.3 146.6 535.3 146.3 537.4 144 539.4 142.6 541.4 142.2 543.4 141.3 545.4 139.8 547.4 140.3 549.4 144.1 551.4 148.7 553.4 150.1 553.4 265.3 551.4 265.3 549.4 265.3 547.4 265.3 545.4 265.3 543.4 265.3 541.4 265.3 539.4 265.3 537.4 265.3 535.3 265.3 533.3 265.3 531.3 265.3 529.3 265.3 527.3 265.3 525.3 265.3 523.3 265.3 521.3 265.3 519.3 265.3 517.3 265.3 515.3 265.3 513.3 265.3 511.3 265.3 509.3 265.3 507.3 265.3 505.3 265.3 503.3 265.3 501.2 265.3 499.2 265.3 497.2 265.3 495.2 265.3 493.2 265.3 491.2 265.3 489.2 265.3 487.2 265.3 485.2 265.3 483.2 265.3 481.2 265.3 479.2 265.3 477.2 265.3 475.2 265.3 473.2 265.3 471.2 265.3 469.2 265.3 467.2 265.3 465.1 265.3 463.1 265.3 461.1 265.3 459.1 265.3 457.1 265.3 455.1 265.3 453.1 265.3 451.1 265.3 449.1 265.3 447.1 265.3 445.1 265.3 443.1 265.3 441.1 265.3 439.1 265.3 437.1 265.3 435.1 265.3 433.1 265.3 431 265.3 429 265.3 427 265.3 425 265.3 423 265.3 421 265.3 419 265.3 417 265.3 415 265.3 413 265.3 411 265.3 409 265.3 407 265.3 405 265.3 403 265.3 401 265.3 399 265.3 396.9 265.3 394.9 265.3 392.9 265.3 390.9 265.3 388.9 265.3 386.9 265.3 384.9 265.3 382.9 265.3 380.9 265.3 378.9 265.3 376.9 265.3 374.9 265.3 372.9 265.3 370.9 265.3 368.9 265.3 366.9 265.3 364.9 265.3 362.8 265.3 360.8 265.3 358.8 265.3 356.8 265.3 354.8 265.3 352.8 265.3 350.8 265.3 348.8 265.3 346.8 265.3 344.8 265.3 342.8 265.3 340.8 265.3 338.8 265.3 336.8 265.3 334.8 265.3 332.8 265.3 330.8 265.3 328.8 265.3 326.7 265.3 324.7 265.3 322.7 265.3 320.7 265.3 318.7 265.3 316.7 265.3 314.7 265.3 312.7 265.3 310.7 265.3 308.7 265.3 306.7 265.3 304.7 265.3 302.7 265.3 300.7 265.3 298.7 265.3 296.7 265.3 294.7 265.3 292.6 265.3 290.6 265.3 288.6 265.3 286.6 265.3 284.6 265.3 282.6 265.3 280.6 265.3 278.6 265.3 276.6 265.3Z" fill="#861734" stroke="none"/>
<path d="M276.6 265.3L278.6 265.3 280.6 265.3 282.6 265.3 284.6 265.3 286.6 265.3 288.6 265.3 290.6 265.3 292.6 265.3 294.7 265.3 296.7 265.3 298.7 265.3 300.7 265.3 302.7 265.3 304.7 265.3 306.7 265.3 308.7 265.3 310.7 265.3 312.7 265.3 314.7 265.3 316.7 265.3 318.7 265.3 320.7 265.3 322.7 265.3 324.7 265.3 326.7 265.3 328.8 265.3 330.8 265.3 332.8 265.3 334.8 265.3 336.8 265.3 338.8 265.3 340.8 265.3 342.8 265.3 344.8 265.3 346.8 265.3 348.8 265.3 350.8 265.3 352.8 265.3 354.8 265.3 356.8 265.3 358.8 265.3 360.8 265.3 362.8 265.3 364.9 265.3 366.9 265.3 368.9 265.3 370.9 265.3 372.9 265.3 374.9 265.3 376.9 265.3 378.9 265.3 380.9 265.3 382.9 265.3 384.9 265.3 386.9 265.3 388.9 265.3 390.9 265.3 392.9 265.3 394.9 265.3 396.9 265.3 399 265.3 401 265.3 403 265.3 405 265.3 407 265.3 409 265.3 411 265.3 413 265.3 415 265.3 417 265.3 419 265.3 421 265.3 423 265.3 425 265.3 427 265.3 429 265.3 431 265.3 433.1 265.3 435.1 265.3 437.1 265.3 439.1 265.3 441.1 265.3 443.1 265.3 445.1 265.3 447.1 265.3 449.1 265.3 451.1 265.3 453.1 265.3 455.1 265.3 457.1 265.3 459.1 265.3 461.1 265.3 463.1 265.3 465.1 265.3 467.2 265.3 469.2 265.3 471.2 265.3 473.2 265.3 475.2 265.3 477.2 265.3 479.2 265.3 481.2 265.3 483.2 265.3 485.2 265.3 487.2 265.3 489.2 265.3 491.2 265.3 493.2 265.3 495.2 265.3 497.2 265.3 499.2 265.3 501.2 265.3 503.3 265.3 505.3 265.3 507.3 265.3 509.3 265.3 511.3 265.3 513.3 265.3 515.3 265.3 517.3 265.3 519.3 265.3 521.3 265.3 523.3 265.3 525.3 265.3 527.3 265.3 529.3 265.3 531.3 265.3 533.3 265.3 535.3 265.3 537.4 265.3 539.4 265.3 541.4 265.3 543.4 265.3 545.4 265.3 547.4 265.3 549.4 265.3 551.4 265.3 553.4 265.3 553.4 385.9 551.4 384.7 549.4 381.9 547.4 379.9 545.4 381.1 543.4 385.2 541.4 388.8 539.4 388.9 537.4 385.4 535.3 381.7 533.3 381 531.3 383.8 529.3 387.6 527.3 390.1 525.3 390.9 523.3 390.8 521.3 390.1 519.3 388.4 517.3 385.4 515.3 382.7 513.3 382.5 511.3 385.1 509.3 388.4 507.3 389.5 505.3 388 503.3 386.2 501.2 386.9 499.2 389.7 497.2 391.8 495.2 390.7 493.2 386.9 491.2 383.4 489.2 382.6 487.2 384.3 485.2 386.3 483.2 387 481.2 386.8 479.2 386.8 477.2 387.4 475.2 387.6 473.2 387.3 471.2 387.9 469.2 390.9 467.2 395.3 465.1 397.9 463.1 396.1 461.1 390.4 459.1 384.8 457.1 383 455.1 385.2 453.1 388.7 451.1 390.4 449.1 390 447.1 389.5 445.1 390 443.1 391 441.1 391.1 439.1 390.1 437.1 389.2 435.1 389.4 433.1 390 431 389.5 429 387.7 427 386.5 425 387.9 423 391.3 421 393.7 419 392.7 417 389.3 415 387 413 388.5 411 393 409 396.9 407 397.6 405 395.2 403 392.3 401 390.5 399 389.8 396.9 389.6 394.9 390.1 392.9 392.2 390.9 395.2 388.9 397 386.9 395.3 384.9 390.9 382.9 386.8 380.9 386.3 378.9 389.1 376.9 392.1 374.9 392.6 372.9 391 370.9 390 368.9 391.8 366.9 395.2 364.9 397.6 362.8 397.2 360.8 395.2 358.8 393.5 356.8 393.1 354.8 393 352.8 392.6 350.8 392.5 348.8 393.9 346.8 396.1 344.8 397.1 342.8 395.2 340.8 391.7 338.8 390.1 336.8 392.7 334.8 398.2 332.8 402.2 330.8 401.5 328.8 396.9 326.7 391.9 324.7 389.2 322.7 389 320.7 389.6 318.7 390.2 316.7 391.6 314.7 394.1 312.7 396.8 310.7 398 308.7 397.3 306.7 396.5 304.7 397.4 302.7 399.7 300.7 400.8 298.7 398.8 296.7 395 294.7 392.7 292.6 394.1 290.6 397.8 288.6 400.1 286.6 398.9 284.6 395.5 282.6 393.2 280.6 393.8 278.6 396.4 276.6 398.7Z" fill="#3446ac" stroke="none"/>
<path d="M276.6 265.3L277.8 127.5 281.1 405.5 284.6 117.6 288.3 416.2 291.1 131.4 294.3 407.9 297.1 125.2 300.4 413.9 303.6 123.6 307.1 412 310.7 126 313.6 406.2 317.2 120.1 320.9 398.7 324.4 116.7 327.5 400.9 330.4 129.3 333.6 414.6 337.1 127.2 340.5 398.3 344 116.6 346.9 406 350 131 353.3 407.8 357 126.7 360.1 403.8 363.7 124.5 366.8 405.2 370 131.3 373.3 405.2 376.9 120.5 380.4 400.9 383.2 126.6 386.5 410.4 390 126.7 393.6 402.4 397.2 129.3 400.1 403.3 403.1 128.4 406.4 411.2 409.5 119.6 412.7 400.1 416.2 129.7 419.7 406.3 423.3 128.6 427 398.3 430.4 123.1 433.6 397.4 437.3 128.7 440.3 401 444 135.6 446.9 401.7 449.8 127.9 453.2 403.7 456.1 132.4 459.6 397.2 462.5 132 466 406.8 469.6 123.8 473.2 401.8 476.5 134.1 479.5 393.2 483 131.5 486.3 393.7 489.7 127.8 492.8 399.3 496.2 137.2 499.2 398.2 502.5 130.3 505.5 399.2 509 137.1 512.6 397.6 516.1 136 519.3 403.3 522.9 132.9 526.1 410.1 529 128.1 531.9 395.9 535 140 538.2 399.8 541.7 135.1 544.9 396.2 548.3 135.5 551.7 393.1 553.4 265.3" fill="none" stroke="#951a3a" stroke-width="1.8" stroke-linejoin="round" clip-path="url(#cua)"/>
<path d="M276.6 265.3L277.8 127.5 281.1 405.5 284.6 117.6 288.3 416.2 291.1 131.4 294.3 407.9 297.1 125.2 300.4 413.9 303.6 123.6 307.1 412 310.7 126 313.6 406.2 317.2 120.1 320.9 398.7 324.4 116.7 327.5 400.9 330.4 129.3 333.6 414.6 337.1 127.2 340.5 398.3 344 116.6 346.9 406 350 131 353.3 407.8 357 126.7 360.1 403.8 363.7 124.5 366.8 405.2 370 131.3 373.3 405.2 376.9 120.5 380.4 400.9 383.2 126.6 386.5 410.4 390 126.7 393.6 402.4 397.2 129.3 400.1 403.3 403.1 128.4 406.4 411.2 409.5 119.6 412.7 400.1 416.2 129.7 419.7 406.3 423.3 128.6 427 398.3 430.4 123.1 433.6 397.4 437.3 128.7 440.3 401 444 135.6 446.9 401.7 449.8 127.9 453.2 403.7 456.1 132.4 459.6 397.2 462.5 132 466 406.8 469.6 123.8 473.2 401.8 476.5 134.1 479.5 393.2 483 131.5 486.3 393.7 489.7 127.8 492.8 399.3 496.2 137.2 499.2 398.2 502.5 130.3 505.5 399.2 509 137.1 512.6 397.6 516.1 136 519.3 403.3 522.9 132.9 526.1 410.1 529 128.1 531.9 395.9 535 140 538.2 399.8 541.7 135.1 544.9 396.2 548.3 135.5 551.7 393.1 553.4 265.3" fill="none" stroke="#3a4ec0" stroke-width="1.8" stroke-linejoin="round" clip-path="url(#cda)"/>
<path d="M245.8 127.7L247.9 127.7 249.9 126 252 123.7 254 122.4 256.1 123.1 258.1 125.3 260.2 128.1 262.2 130.2 264.3 130.9 266.3 130.4 268.4 129.8 270.4 129.6 272.5 130.3 274.5 131.3 276.6 132.1 276.6 270.3 274.5 270.3 272.5 270.3 270.4 270.3 268.4 270.3 266.3 270.3 264.3 270.3 262.2 270.3 260.2 270.3 258.1 270.3 256.1 270.3 254 270.3 252 270.3 249.9 270.3 247.9 270.3 245.8 270.3Z" fill="#ac1c37" stroke="none"/>
<path d="M245.8 265.3L245.8 110.6 249.1 285.8 252.2 113.4 255.1 286.3 257.9 114.6 260.8 286.5 263.6 122.1 266.8 286 270.2 117.2 273.4 286 276.6 265.3" fill="none" stroke="#c0203e" stroke-width="1.8" stroke-linejoin="round" stroke-opacity="1.0"/>
<path d="M276.6 142.6L278.6 142.3 280.6 139.8 282.6 137.5 284.6 137.7 286.6 141.1 288.6 145.6 290.6 148.1 292.6 146.7 294.7 142.5 296.7 138.7 298.7 138.2 300.7 141.3 302.7 145.5 304.7 147.4 306.7 145.3 308.7 140.9 310.7 137.4 312.7 137.5 314.7 140.6 316.7 144.2 318.7 145.3 320.7 143.2 322.7 139.9 324.7 138 326.7 138.8 328.8 141.2 330.8 142.8 332.8 142.3 334.8 140.3 336.8 138.7 338.8 139 340.8 140.7 342.8 142.2 344.8 141.9 346.8 140.3 348.8 139.4 350.8 140.6 352.8 143.7 354.8 146.7 356.8 147.4 358.8 145.4 360.8 142.9 362.8 142.6 364.9 145.4 366.9 149.6 368.9 152 370.9 150.6 372.9 146.1 374.9 141.8 376.9 140.8 378.9 143.4 380.9 147 382.9 148.3 384.9 145.6 386.9 140.5 388.9 136.5 390.9 136.2 392.9 139.3 394.9 143.3 396.9 145.3 399 144.1 401 141.3 403 139.5 405 140.3 407 143.4 409 146.9 411 148.9 413 148.9 415 147.7 417 146.6 419 146.4 421 146.9 423 147.7 425 148.4 427 148.7 429 148.5 431 147.7 433.1 146.2 435.1 144.6 437.1 143.8 439.1 144.4 441.1 146.1 443.1 147.8 445.1 148.1 447.1 146.5 449.1 144.2 451.1 143.1 453.1 144.1 455.1 146.8 457.1 149.1 459.1 149.5 461.1 147.6 463.1 144.9 465.1 143.6 467.2 144.5 469.2 146.7 471.2 148.4 473.2 148.3 475.2 146.8 477.2 145.3 479.2 145.1 481.2 146.3 483.2 147.8 485.2 148.6 487.2 148.4 489.2 148.2 491.2 148.8 493.2 150.1 495.2 151 497.2 150.7 499.2 149.2 501.2 148 503.3 148.5 505.3 150.5 507.3 152.4 509.3 152.1 511.3 149.2 513.3 145.5 515.3 143.8 517.3 145.4 519.3 149.3 521.3 152.3 523.3 151.8 525.3 148.1 527.3 144 529.3 143 531.3 146.4 533.3 151.8 535.3 155.5 537.4 154.7 539.4 150.4 541.4 146.2 543.4 145.4 545.4 148.7 547.4 153.4 549.4 155.8 551.4 154.1 553.4 149.6 553.4 265.3 551.4 265.3 549.4 265.3 547.4 265.3 545.4 265.3 543.4 265.3 541.4 265.3 539.4 265.3 537.4 265.3 535.3 265.3 533.3 265.3 531.3 265.3 529.3 265.3 527.3 265.3 525.3 265.3 523.3 265.3 521.3 265.3 519.3 265.3 517.3 265.3 515.3 265.3 513.3 265.3 511.3 265.3 509.3 265.3 507.3 265.3 505.3 265.3 503.3 265.3 501.2 265.3 499.2 265.3 497.2 265.3 495.2 265.3 493.2 265.3 491.2 265.3 489.2 265.3 487.2 265.3 485.2 265.3 483.2 265.3 481.2 265.3 479.2 265.3 477.2 265.3 475.2 265.3 473.2 265.3 471.2 265.3 469.2 265.3 467.2 265.3 465.1 265.3 463.1 265.3 461.1 265.3 459.1 265.3 457.1 265.3 455.1 265.3 453.1 265.3 451.1 265.3 449.1 265.3 447.1 265.3 445.1 265.3 443.1 265.3 441.1 265.3 439.1 265.3 437.1 265.3 435.1 265.3 433.1 265.3 431 265.3 429 265.3 427 265.3 425 265.3 423 265.3 421 265.3 419 265.3 417 265.3 415 265.3 413 265.3 411 265.3 409 265.3 407 265.3 405 265.3 403 265.3 401 265.3 399 265.3 396.9 265.3 394.9 265.3 392.9 265.3 390.9 265.3 388.9 265.3 386.9 265.3 384.9 265.3 382.9 265.3 380.9 265.3 378.9 265.3 376.9 265.3 374.9 265.3 372.9 265.3 370.9 265.3 368.9 265.3 366.9 265.3 364.9 265.3 362.8 265.3 360.8 265.3 358.8 265.3 356.8 265.3 354.8 265.3 352.8 265.3 350.8 265.3 348.8 265.3 346.8 265.3 344.8 265.3 342.8 265.3 340.8 265.3 338.8 265.3 336.8 265.3 334.8 265.3 332.8 265.3 330.8 265.3 328.8 265.3 326.7 265.3 324.7 265.3 322.7 265.3 320.7 265.3 318.7 265.3 316.7 265.3 314.7 265.3 312.7 265.3 310.7 265.3 308.7 265.3 306.7 265.3 304.7 265.3 302.7 265.3 300.7 265.3 298.7 265.3 296.7 265.3 294.7 265.3 292.6 265.3 290.6 265.3 288.6 265.3 286.6 265.3 284.6 265.3 282.6 265.3 280.6 265.3 278.6 265.3 276.6 265.3Z" fill="#3446ac" stroke="none"/>
<path d="M276.6 265.3L278.6 265.3 280.6 265.3 282.6 265.3 284.6 265.3 286.6 265.3 288.6 265.3 290.6 265.3 292.6 265.3 294.7 265.3 296.7 265.3 298.7 265.3 300.7 265.3 302.7 265.3 304.7 265.3 306.7 265.3 308.7 265.3 310.7 265.3 312.7 265.3 314.7 265.3 316.7 265.3 318.7 265.3 320.7 265.3 322.7 265.3 324.7 265.3 326.7 265.3 328.8 265.3 330.8 265.3 332.8 265.3 334.8 265.3 336.8 265.3 338.8 265.3 340.8 265.3 342.8 265.3 344.8 265.3 346.8 265.3 348.8 265.3 350.8 265.3 352.8 265.3 354.8 265.3 356.8 265.3 358.8 265.3 360.8 265.3 362.8 265.3 364.9 265.3 366.9 265.3 368.9 265.3 370.9 265.3 372.9 265.3 374.9 265.3 376.9 265.3 378.9 265.3 380.9 265.3 382.9 265.3 384.9 265.3 386.9 265.3 388.9 265.3 390.9 265.3 392.9 265.3 394.9 265.3 396.9 265.3 399 265.3 401 265.3 403 265.3 405 265.3 407 265.3 409 265.3 411 265.3 413 265.3 415 265.3 417 265.3 419 265.3 421 265.3 423 265.3 425 265.3 427 265.3 429 265.3 431 265.3 433.1 265.3 435.1 265.3 437.1 265.3 439.1 265.3 441.1 265.3 443.1 265.3 445.1 265.3 447.1 265.3 449.1 265.3 451.1 265.3 453.1 265.3 455.1 265.3 457.1 265.3 459.1 265.3 461.1 265.3 463.1 265.3 465.1 265.3 467.2 265.3 469.2 265.3 471.2 265.3 473.2 265.3 475.2 265.3 477.2 265.3 479.2 265.3 481.2 265.3 483.2 265.3 485.2 265.3 487.2 265.3 489.2 265.3 491.2 265.3 493.2 265.3 495.2 265.3 497.2 265.3 499.2 265.3 501.2 265.3 503.3 265.3 505.3 265.3 507.3 265.3 509.3 265.3 511.3 265.3 513.3 265.3 515.3 265.3 517.3 265.3 519.3 265.3 521.3 265.3 523.3 265.3 525.3 265.3 527.3 265.3 529.3 265.3 531.3 265.3 533.3 265.3 535.3 265.3 537.4 265.3 539.4 265.3 541.4 265.3 543.4 265.3 545.4 265.3 547.4 265.3 549.4 265.3 551.4 265.3 553.4 265.3 553.4 374.6 551.4 375.4 549.4 377.7 547.4 379.6 545.4 379.9 543.4 378.6 541.4 377.6 539.4 378 537.4 379.9 535.3 381.4 533.3 380.9 531.3 378.6 529.3 376.3 527.3 376.1 525.3 378.3 523.3 381.5 521.3 383.5 519.3 383.3 517.3 381.6 515.3 380.1 513.3 379.9 511.3 380.7 509.3 381.6 507.3 382.3 505.3 383.2 503.3 384.8 501.2 386.6 499.2 387 497.2 384.8 495.2 380.5 493.2 376.3 491.2 374.9 489.2 377.1 487.2 381.1 485.2 384.1 483.2 384.1 481.2 381.5 479.2 378.6 477.2 377.4 475.2 378.3 473.2 380.2 471.2 381.8 469.2 382.9 467.2 384 465.1 385.4 463.1 386.3 461.1 385.6 459.1 383.1 457.1 380.1 455.1 378.5 453.1 379.4 451.1 381.9 449.1 383.9 447.1 383.8 445.1 382.2 443.1 380.7 441.1 381.2 439.1 383.6 437.1 385.9 435.1 386.6 433.1 385.6 431 384.3 429 384.5 427 386.5 425 388.8 423 389.5 421 388.1 419 385.4 417 383.1 415 381.9 413 381.3 411 380.5 409 379.7 407 379.8 405 381.6 403 384.3 401 386.1 399 385.3 396.9 382.3 394.9 379.3 392.9 379.1 390.9 382.4 388.9 387.4 386.9 391.1 384.9 391.6 382.9 389.3 380.9 386.2 378.9 384.2 376.9 383.8 374.9 384.3 372.9 384.9 370.9 385.6 368.9 387.1 366.9 389.1 364.9 390.5 362.8 389.9 360.8 387.3 358.8 384.2 356.8 383 354.8 384.7 352.8 388.1 350.8 390.4 348.8 390.1 346.8 387.5 344.8 384.7 342.8 383.5 340.8 384.3 338.8 385.4 336.8 385.3 334.8 384 332.8 382.9 330.8 383.5 328.8 385.8 326.7 388.3 324.7 389.5 322.7 389.1 320.7 388.1 318.7 387.9 316.7 388.6 314.7 389.2 312.7 388.7 310.7 387.6 308.7 387.1 306.7 388.3 304.7 390.6 302.7 392 300.7 390.7 298.7 386.9 296.7 383.3 294.7 382.4 292.6 385.3 290.6 390.1 288.6 394.1 286.6 395.2 284.6 393.8 282.6 391.5 280.6 389.8 278.6 389.2 276.6 388.8Z" fill="#615f2d" stroke="none"/>
<path d="M276.6 265.3L276.9 131.8 280.4 397.5 283.9 124 286.8 402.8 289.7 133.2 292.9 396.4 296.5 129 299.7 395.2 303.1 131.5 306.5 402 309.6 124.5 312.9 402.3 316.2 136.1 319.9 399 323.1 131.8 326.9 399.1 330.4 134.9 333.8 392.1 337.1 125.7 340.8 393.4 343.7 122.3 347 399 350 125 353.6 402.7 356.6 133.6 359.9 399.3 363.2 135.3 366.9 403.9 370 140.3 373.1 396 375.9 132.8 378.8 393.4 381.7 137.6 385.1 401.1 387.9 120.3 391.2 391.6 394.6 130.2 398.1 394.4 401.7 126.2 404.8 392.5 408.1 134.8 411.8 393 415.4 135.1 418.9 393.9 421.7 140.3 425 402.3 428.3 140.8 431.4 397.1 435.1 132.5 438.3 397.7 441.8 135.9 444.6 397.2 448.3 139.2 451.4 394.6 454.9 137.1 458.3 392.5 461.3 137.1 465 395.6 468.1 131.2 471 395 474.3 140.3 478 384.9 481 131.8 484.4 393.1 488 132.6 491.7 385.1 494.8 139.1 497.7 393.6 501.2 138.9 504.9 394.5 507.9 139.1 511 397 514.2 133.6 517 392.3 520 136.6 523.5 389.1 526.8 137.3 530.5 383.3 534 144.6 537.2 387.2 540.6 138.5 544.1 389.2 547.7 142.9 551.4 382.2 553.4 265.3" fill="none" stroke="#3a4ec0" stroke-width="1.8" stroke-linejoin="round" clip-path="url(#cua)"/>
<path d="M276.6 265.3L276.9 131.8 280.4 397.5 283.9 124 286.8 402.8 289.7 133.2 292.9 396.4 296.5 129 299.7 395.2 303.1 131.5 306.5 402 309.6 124.5 312.9 402.3 316.2 136.1 319.9 399 323.1 131.8 326.9 399.1 330.4 134.9 333.8 392.1 337.1 125.7 340.8 393.4 343.7 122.3 347 399 350 125 353.6 402.7 356.6 133.6 359.9 399.3 363.2 135.3 366.9 403.9 370 140.3 373.1 396 375.9 132.8 378.8 393.4 381.7 137.6 385.1 401.1 387.9 120.3 391.2 391.6 394.6 130.2 398.1 394.4 401.7 126.2 404.8 392.5 408.1 134.8 411.8 393 415.4 135.1 418.9 393.9 421.7 140.3 425 402.3 428.3 140.8 431.4 397.1 435.1 132.5 438.3 397.7 441.8 135.9 444.6 397.2 448.3 139.2 451.4 394.6 454.9 137.1 458.3 392.5 461.3 137.1 465 395.6 468.1 131.2 471 395 474.3 140.3 478 384.9 481 131.8 484.4 393.1 488 132.6 491.7 385.1 494.8 139.1 497.7 393.6 501.2 138.9 504.9 394.5 507.9 139.1 511 397 514.2 133.6 517 392.3 520 136.6 523.5 389.1 526.8 137.3 530.5 383.3 534 144.6 537.2 387.2 540.6 138.5 544.1 389.2 547.7 142.9 551.4 382.2 553.4 265.3" fill="none" stroke="#6c6a33" stroke-width="1.8" stroke-linejoin="round" clip-path="url(#cda)"/>
<path d="M245.8 133L247.9 131.5 249.9 129.6 252 128.2 254 128.2 256.1 129.8 258.1 132.6 260.2 135.6 262.2 137.8 264.3 138.5 266.3 137.8 268.4 136 270.4 134.1 272.5 133.2 274.5 133.8 276.6 135.8 276.6 270.3 274.5 270.3 272.5 270.3 270.4 270.3 268.4 270.3 266.3 270.3 264.3 270.3 262.2 270.3 260.2 270.3 258.1 270.3 256.1 270.3 254 270.3 252 270.3 249.9 270.3 247.9 270.3 245.8 270.3Z" fill="#63278c" stroke="none"/>
<path d="M245.8 265.3L247.6 122.8 250.6 285.9 253.8 113.2 256.6 285.5 259.3 122.2 262.3 284.9 265.4 125.2 268.5 286.1 271.2 125.7 273.8 285.5 276.6 265.3" fill="none" stroke="#6e2c9c" stroke-width="1.8" stroke-linejoin="round" stroke-opacity="1.0"/>
<path d="M276.6 145.4L278.6 144.5 280.6 144.3 282.6 144.7 284.6 145.6 286.6 146.7 288.6 147.6 290.6 148 292.6 147.3 294.7 145.4 296.7 142.8 298.7 140.6 300.7 139.9 302.7 141.2 304.7 144.1 306.7 147.1 308.7 148.5 310.7 147.6 312.7 144.9 314.7 142.1 316.7 141.2 318.7 143.2 320.7 147.7 322.7 152.7 324.7 155.6 326.7 155.2 328.8 152 330.8 147.8 332.8 145.1 334.8 145.3 336.8 148 338.8 151.4 340.8 153.3 342.8 152.4 344.8 149 346.8 144.9 348.8 141.9 350.8 141.3 352.8 143 354.8 145.7 356.8 147.8 358.8 148.5 360.8 147.7 362.8 146.4 364.9 145.4 366.9 145.4 368.9 146.2 370.9 147.3 372.9 148.5 374.9 149.4 376.9 150 378.9 150.4 380.9 150.5 382.9 150 384.9 149.2 386.9 148.2 388.9 147.9 390.9 148.7 392.9 150.4 394.9 152.3 396.9 153.5 399 153.2 401 151.6 403 149.6 405 148.4 407 148.8 409 150.5 411 152.3 413 153 415 151.8 417 149.1 419 146.4 421 144.9 423 145.2 425 147 427 148.7 429 149.3 431 148.3 433.1 146.7 435.1 145.8 437.1 146.5 439.1 148.9 441.1 151.8 443.1 154 445.1 154.4 447.1 153.4 449.1 152 451.1 151.7 453.1 152.8 455.1 155 457.1 156.7 459.1 157 461.1 155.3 463.1 152.5 465.1 150 467.2 149 469.2 149.7 471.2 151.3 473.2 152.6 475.2 152.6 477.2 151.3 479.2 149.4 481.2 147.9 483.2 147.7 485.2 148.8 487.2 150.4 489.2 151.8 491.2 152.5 493.2 152.5 495.2 152.1 497.2 151.6 499.2 151.2 501.2 151 503.3 151 505.3 151.3 507.3 152.1 509.3 153.5 511.3 155.1 513.3 156.1 515.3 156 517.3 154.7 519.3 153 521.3 152 523.3 152.8 525.3 155.3 527.3 158.4 529.3 160.4 531.3 159.9 533.3 156.9 535.3 152.7 537.4 149.4 539.4 148.7 541.4 150.7 543.4 153.9 545.4 156.3 547.4 156.1 549.4 153.2 551.4 149.1 553.4 145.9 553.4 265.3 551.4 265.3 549.4 265.3 547.4 265.3 545.4 265.3 543.4 265.3 541.4 265.3 539.4 265.3 537.4 265.3 535.3 265.3 533.3 265.3 531.3 265.3 529.3 265.3 527.3 265.3 525.3 265.3 523.3 265.3 521.3 265.3 519.3 265.3 517.3 265.3 515.3 265.3 513.3 265.3 511.3 265.3 509.3 265.3 507.3 265.3 505.3 265.3 503.3 265.3 501.2 265.3 499.2 265.3 497.2 265.3 495.2 265.3 493.2 265.3 491.2 265.3 489.2 265.3 487.2 265.3 485.2 265.3 483.2 265.3 481.2 265.3 479.2 265.3 477.2 265.3 475.2 265.3 473.2 265.3 471.2 265.3 469.2 265.3 467.2 265.3 465.1 265.3 463.1 265.3 461.1 265.3 459.1 265.3 457.1 265.3 455.1 265.3 453.1 265.3 451.1 265.3 449.1 265.3 447.1 265.3 445.1 265.3 443.1 265.3 441.1 265.3 439.1 265.3 437.1 265.3 435.1 265.3 433.1 265.3 431 265.3 429 265.3 427 265.3 425 265.3 423 265.3 421 265.3 419 265.3 417 265.3 415 265.3 413 265.3 411 265.3 409 265.3 407 265.3 405 265.3 403 265.3 401 265.3 399 265.3 396.9 265.3 394.9 265.3 392.9 265.3 390.9 265.3 388.9 265.3 386.9 265.3 384.9 265.3 382.9 265.3 380.9 265.3 378.9 265.3 376.9 265.3 374.9 265.3 372.9 265.3 370.9 265.3 368.9 265.3 366.9 265.3 364.9 265.3 362.8 265.3 360.8 265.3 358.8 265.3 356.8 265.3 354.8 265.3 352.8 265.3 350.8 265.3 348.8 265.3 346.8 265.3 344.8 265.3 342.8 265.3 340.8 265.3 338.8 265.3 336.8 265.3 334.8 265.3 332.8 265.3 330.8 265.3 328.8 265.3 326.7 265.3 324.7 265.3 322.7 265.3 320.7 265.3 318.7 265.3 316.7 265.3 314.7 265.3 312.7 265.3 310.7 265.3 308.7 265.3 306.7 265.3 304.7 265.3 302.7 265.3 300.7 265.3 298.7 265.3 296.7 265.3 294.7 265.3 292.6 265.3 290.6 265.3 288.6 265.3 286.6 265.3 284.6 265.3 282.6 265.3 280.6 265.3 278.6 265.3 276.6 265.3Z" fill="#356d36" stroke="none"/>
<path d="M276.6 265.3L278.6 265.3 280.6 265.3 282.6 265.3 284.6 265.3 286.6 265.3 288.6 265.3 290.6 265.3 292.6 265.3 294.7 265.3 296.7 265.3 298.7 265.3 300.7 265.3 302.7 265.3 304.7 265.3 306.7 265.3 308.7 265.3 310.7 265.3 312.7 265.3 314.7 265.3 316.7 265.3 318.7 265.3 320.7 265.3 322.7 265.3 324.7 265.3 326.7 265.3 328.8 265.3 330.8 265.3 332.8 265.3 334.8 265.3 336.8 265.3 338.8 265.3 340.8 265.3 342.8 265.3 344.8 265.3 346.8 265.3 348.8 265.3 350.8 265.3 352.8 265.3 354.8 265.3 356.8 265.3 358.8 265.3 360.8 265.3 362.8 265.3 364.9 265.3 366.9 265.3 368.9 265.3 370.9 265.3 372.9 265.3 374.9 265.3 376.9 265.3 378.9 265.3 380.9 265.3 382.9 265.3 384.9 265.3 386.9 265.3 388.9 265.3 390.9 265.3 392.9 265.3 394.9 265.3 396.9 265.3 399 265.3 401 265.3 403 265.3 405 265.3 407 265.3 409 265.3 411 265.3 413 265.3 415 265.3 417 265.3 419 265.3 421 265.3 423 265.3 425 265.3 427 265.3 429 265.3 431 265.3 433.1 265.3 435.1 265.3 437.1 265.3 439.1 265.3 441.1 265.3 443.1 265.3 445.1 265.3 447.1 265.3 449.1 265.3 451.1 265.3 453.1 265.3 455.1 265.3 457.1 265.3 459.1 265.3 461.1 265.3 463.1 265.3 465.1 265.3 467.2 265.3 469.2 265.3 471.2 265.3 473.2 265.3 475.2 265.3 477.2 265.3 479.2 265.3 481.2 265.3 483.2 265.3 485.2 265.3 487.2 265.3 489.2 265.3 491.2 265.3 493.2 265.3 495.2 265.3 497.2 265.3 499.2 265.3 501.2 265.3 503.3 265.3 505.3 265.3 507.3 265.3 509.3 265.3 511.3 265.3 513.3 265.3 515.3 265.3 517.3 265.3 519.3 265.3 521.3 265.3 523.3 265.3 525.3 265.3 527.3 265.3 529.3 265.3 531.3 265.3 533.3 265.3 535.3 265.3 537.4 265.3 539.4 265.3 541.4 265.3 543.4 265.3 545.4 265.3 547.4 265.3 549.4 265.3 551.4 265.3 553.4 265.3 553.4 369.2 551.4 370.4 549.4 374.6 547.4 378.4 545.4 378.6 543.4 375.9 541.4 373.5 539.4 374.1 537.4 377.1 535.3 379.7 533.3 380.6 531.3 380.6 529.3 380.7 527.3 380.5 525.3 378.2 523.3 374.1 521.3 370.9 519.3 371.5 517.3 375.5 515.3 379.2 513.3 379.2 511.3 375.9 509.3 372.9 507.3 372.9 505.3 375.4 503.3 377.7 501.2 378.2 499.2 378 497.2 378.7 495.2 379.8 493.2 379.4 491.2 376.8 489.2 373.9 487.2 373.5 485.2 375.9 483.2 378.3 481.2 378.1 479.2 376 477.2 374.8 475.2 376.6 473.2 379.6 471.2 380.9 469.2 379.1 467.2 376.5 465.1 376.1 463.1 378.1 461.1 380.4 459.1 380.6 457.1 379.3 455.1 378.5 453.1 379 451.1 379.3 449.1 378.1 447.1 376.4 445.1 376.9 443.1 380.7 441.1 385 439.1 386 437.1 382.5 435.1 377.4 433.1 374.8 431 375.8 429 378.3 427 379.2 425 378.3 423 377.3 421 377.1 419 376.7 417 375.1 415 373.3 413 374.1 411 378.4 409 383.8 407 386.3 405 384.6 403 381.2 401 379.8 399 381.5 396.9 383.7 394.9 383.8 392.9 382 390.9 380.6 388.9 381 386.9 382 384.9 381.5 382.9 379.4 380.9 378 378.9 379 376.9 381.3 374.9 382.3 372.9 381 370.9 379.3 368.9 379.9 366.9 382.6 364.9 384.2 362.8 382.4 360.8 378.3 358.8 375.7 356.8 377 354.8 380.7 352.8 383.4 350.8 383.5 348.8 382.3 346.8 381.9 344.8 382.3 342.8 382 340.8 380.8 338.8 380.2 336.8 382.4 334.8 386.3 332.8 388.2 330.8 385.6 328.8 380.1 326.7 376.1 324.7 376.7 322.7 380.6 320.7 384.1 318.7 385 316.7 384.4 314.7 384.4 312.7 385.2 310.7 385.3 308.7 384 306.7 382.9 304.7 384 302.7 387 300.7 388.8 298.7 386.9 296.7 382.3 294.7 378.8 292.6 378.9 290.6 381.1 288.6 382.1 286.6 380.7 284.6 378.8 282.6 379.4 280.6 382.4 278.6 385.1 276.6 385.3Z" fill="#22817c" stroke="none"/>
<path d="M276.6 265.3L278 136.3 280.9 395.7 284.2 132.3 287.1 391.1 290.4 137.6 293.8 384.7 296.7 134.4 300.1 402.5 303 131.6 305.9 400 309.4 131.7 312.9 391.3 316.6 133.7 319.6 394.8 323.3 141.9 326.3 383.4 329.3 141.1 332.4 397.2 335.8 140.3 339.2 386.3 342.6 139.6 346.3 391.8 349.8 131.6 352.8 392.3 356.1 139.9 359.1 385.2 362.3 132 365.9 391.3 368.7 134 371.8 385.7 374.8 140.2 378.2 387.7 381.1 136.6 384.7 393.3 387.4 139.5 390.3 393.9 393.8 139.2 396.8 390 400.1 146.5 403.3 395.8 406.3 136.3 409.2 390.8 412.7 144.1 416.3 381.6 419.4 138 422.8 387.5 426.5 139.9 430.1 384.2 433.6 131.9 436.5 394.6 439.7 143.6 442.8 391.5 445.7 145.4 448.6 388.8 451.5 143.3 454.4 389.2 457.7 144.1 460.8 386.8 463.6 142 466.8 384.4 469.6 141.3 472.9 387.8 475.9 142.7 479.6 384.9 483.3 135.1 486.6 382.7 489.7 139.3 492.8 393.1 496 143.7 499.8 384.8 502.7 139.4 505.5 385 508.5 143.2 511.8 387.7 515.4 142.5 518.5 385.4 521.9 140.6 525.6 391.4 529 151.1 532.1 388.8 535.4 145 538.5 382.1 541.4 144 544.8 384.6 548.3 145.6 552 382.9 553.4 265.3" fill="none" stroke="#3b7a3c" stroke-width="1.8" stroke-linejoin="round" clip-path="url(#cua)"/>
<path d="M276.6 265.3L278 136.3 280.9 395.7 284.2 132.3 287.1 391.1 290.4 137.6 293.8 384.7 296.7 134.4 300.1 402.5 303 131.6 305.9 400 309.4 131.7 312.9 391.3 316.6 133.7 319.6 394.8 323.3 141.9 326.3 383.4 329.3 141.1 332.4 397.2 335.8 140.3 339.2 386.3 342.6 139.6 346.3 391.8 349.8 131.6 352.8 392.3 356.1 139.9 359.1 385.2 362.3 132 365.9 391.3 368.7 134 371.8 385.7 374.8 140.2 378.2 387.7 381.1 136.6 384.7 393.3 387.4 139.5 390.3 393.9 393.8 139.2 396.8 390 400.1 146.5 403.3 395.8 406.3 136.3 409.2 390.8 412.7 144.1 416.3 381.6 419.4 138 422.8 387.5 426.5 139.9 430.1 384.2 433.6 131.9 436.5 394.6 439.7 143.6 442.8 391.5 445.7 145.4 448.6 388.8 451.5 143.3 454.4 389.2 457.7 144.1 460.8 386.8 463.6 142 466.8 384.4 469.6 141.3 472.9 387.8 475.9 142.7 479.6 384.9 483.3 135.1 486.6 382.7 489.7 139.3 492.8 393.1 496 143.7 499.8 384.8 502.7 139.4 505.5 385 508.5 143.2 511.8 387.7 515.4 142.5 518.5 385.4 521.9 140.6 525.6 391.4 529 151.1 532.1 388.8 535.4 145 538.5 382.1 541.4 144 544.8 384.6 548.3 145.6 552 382.9 553.4 265.3" fill="none" stroke="#26908a" stroke-width="1.8" stroke-linejoin="round" clip-path="url(#cda)"/>
<path d="M245.8 138.9L247.9 137.2 249.9 135.4 252 134.3 254 134.5 256.1 136.1 258.1 138.6 260.2 141.1 262.2 142.9 264.3 143.4 266.3 142.9 268.4 141.9 270.4 141 272.5 140.8 274.5 141.4 276.6 142.6 276.6 270.3 274.5 270.3 272.5 270.3 270.4 270.3 268.4 270.3 266.3 270.3 264.3 270.3 262.2 270.3 260.2 270.3 258.1 270.3 256.1 270.3 254 270.3 252 270.3 249.9 270.3 247.9 270.3 245.8 270.3Z" fill="#22817c" stroke="none"/>
<path d="M245.8 265.3L248.2 126.8 251.4 284.5 254.6 125.2 257.4 285.2 260.7 127.9 263.8 284.7 267 130.8 270.3 285.2 272.9 131.2 276.1 284.4 276.6 265.3" fill="none" stroke="#26908a" stroke-width="1.8" stroke-linejoin="round" stroke-opacity="1.0"/>
<path d="M276.6 150.4L278.6 148.1 280.6 147.8 282.6 148.4 284.6 148 286.6 146.9 288.6 147.4 290.6 150.7 292.6 155.4 294.7 158 296.7 156.7 298.7 153.1 300.7 150.3 302.7 149.6 304.7 149.7 306.7 148.9 308.7 147.7 310.7 148.3 312.7 151.4 314.7 155.1 316.7 156.1 318.7 153.7 320.7 150 322.7 148.2 324.7 148.9 326.7 150.2 328.8 150.4 330.8 150 332.8 151.1 334.8 154 336.8 156.6 338.8 156.2 340.8 153 342.8 149.7 344.8 149.1 346.8 150.9 348.8 152.8 350.8 153.2 352.8 152.8 354.8 153.6 356.8 155.7 358.8 156.9 360.8 155.2 362.8 151.3 364.9 148.3 366.9 148.3 368.9 150.3 370.9 151.8 372.9 151.5 374.9 150.9 376.9 152 378.9 154.6 380.9 156.5 382.9 156 384.9 153.9 386.9 153.1 388.9 154.7 390.9 157 392.9 157.5 394.9 155.5 396.9 153.2 399 152.7 401 153.7 403 153.9 405 152 407 149.4 409 148.8 411 150.8 413 153.3 415 154 417 153.2 419 153 421 155.2 423 158.6 425 160.5 427 159.5 429 157.4 431 156.3 433.1 156.6 435.1 156.3 437.1 154 439.1 150.8 441.1 149.3 443.1 150.9 445.1 153.8 447.1 155.3 449.1 154.5 451.1 153.2 453.1 153.6 455.1 155.5 457.1 156.8 459.1 156.3 461.1 155.2 463.1 156 465.1 159 467.2 161.7 469.2 161.6 471.2 158.5 473.2 154.9 475.2 153.2 477.2 153.1 479.2 152.8 481.2 151.6 483.2 151.2 485.2 153.3 487.2 157.4 489.2 160.8 491.2 160.9 493.2 158.2 495.2 155.6 497.2 155.1 499.2 156 501.2 156.4 503.3 155.7 505.3 155.5 507.3 157.3 509.3 160.2 511.3 161.4 513.3 159.3 515.3 155.5 517.3 152.9 519.3 153.3 521.3 155.4 523.3 156.9 525.3 157.3 527.3 158.1 529.3 160.3 531.3 162.6 533.3 162.4 535.3 158.9 537.4 154.4 539.4 152.1 541.4 153 543.4 155.2 545.4 156.6 547.4 157 549.4 157.9 551.4 160.3 553.4 162.5 553.4 265.3 551.4 265.3 549.4 265.3 547.4 265.3 545.4 265.3 543.4 265.3 541.4 265.3 539.4 265.3 537.4 265.3 535.3 265.3 533.3 265.3 531.3 265.3 529.3 265.3 527.3 265.3 525.3 265.3 523.3 265.3 521.3 265.3 519.3 265.3 517.3 265.3 515.3 265.3 513.3 265.3 511.3 265.3 509.3 265.3 507.3 265.3 505.3 265.3 503.3 265.3 501.2 265.3 499.2 265.3 497.2 265.3 495.2 265.3 493.2 265.3 491.2 265.3 489.2 265.3 487.2 265.3 485.2 265.3 483.2 265.3 481.2 265.3 479.2 265.3 477.2 265.3 475.2 265.3 473.2 265.3 471.2 265.3 469.2 265.3 467.2 265.3 465.1 265.3 463.1 265.3 461.1 265.3 459.1 265.3 457.1 265.3 455.1 265.3 453.1 265.3 451.1 265.3 449.1 265.3 447.1 265.3 445.1 265.3 443.1 265.3 441.1 265.3 439.1 265.3 437.1 265.3 435.1 265.3 433.1 265.3 431 265.3 429 265.3 427 265.3 425 265.3 423 265.3 421 265.3 419 265.3 417 265.3 415 265.3 413 265.3 411 265.3 409 265.3 407 265.3 405 265.3 403 265.3 401 265.3 399 265.3 396.9 265.3 394.9 265.3 392.9 265.3 390.9 265.3 388.9 265.3 386.9 265.3 384.9 265.3 382.9 265.3 380.9 265.3 378.9 265.3 376.9 265.3 374.9 265.3 372.9 265.3 370.9 265.3 368.9 265.3 366.9 265.3 364.9 265.3 362.8 265.3 360.8 265.3 358.8 265.3 356.8 265.3 354.8 265.3 352.8 265.3 350.8 265.3 348.8 265.3 346.8 265.3 344.8 265.3 342.8 265.3 340.8 265.3 338.8 265.3 336.8 265.3 334.8 265.3 332.8 265.3 330.8 265.3 328.8 265.3 326.7 265.3 324.7 265.3 322.7 265.3 320.7 265.3 318.7 265.3 316.7 265.3 314.7 265.3 312.7 265.3 310.7 265.3 308.7 265.3 306.7 265.3 304.7 265.3 302.7 265.3 300.7 265.3 298.7 265.3 296.7 265.3 294.7 265.3 292.6 265.3 290.6 265.3 288.6 265.3 286.6 265.3 284.6 265.3 282.6 265.3 280.6 265.3 278.6 265.3 276.6 265.3Z" fill="#22817c" stroke="none"/>
<path d="M276.6 265.3L278.6 265.3 280.6 265.3 282.6 265.3 284.6 265.3 286.6 265.3 288.6 265.3 290.6 265.3 292.6 265.3 294.7 265.3 296.7 265.3 298.7 265.3 300.7 265.3 302.7 265.3 304.7 265.3 306.7 265.3 308.7 265.3 310.7 265.3 312.7 265.3 314.7 265.3 316.7 265.3 318.7 265.3 320.7 265.3 322.7 265.3 324.7 265.3 326.7 265.3 328.8 265.3 330.8 265.3 332.8 265.3 334.8 265.3 336.8 265.3 338.8 265.3 340.8 265.3 342.8 265.3 344.8 265.3 346.8 265.3 348.8 265.3 350.8 265.3 352.8 265.3 354.8 265.3 356.8 265.3 358.8 265.3 360.8 265.3 362.8 265.3 364.9 265.3 366.9 265.3 368.9 265.3 370.9 265.3 372.9 265.3 374.9 265.3 376.9 265.3 378.9 265.3 380.9 265.3 382.9 265.3 384.9 265.3 386.9 265.3 388.9 265.3 390.9 265.3 392.9 265.3 394.9 265.3 396.9 265.3 399 265.3 401 265.3 403 265.3 405 265.3 407 265.3 409 265.3 411 265.3 413 265.3 415 265.3 417 265.3 419 265.3 421 265.3 423 265.3 425 265.3 427 265.3 429 265.3 431 265.3 433.1 265.3 435.1 265.3 437.1 265.3 439.1 265.3 441.1 265.3 443.1 265.3 445.1 265.3 447.1 265.3 449.1 265.3 451.1 265.3 453.1 265.3 455.1 265.3 457.1 265.3 459.1 265.3 461.1 265.3 463.1 265.3 465.1 265.3 467.2 265.3 469.2 265.3 471.2 265.3 473.2 265.3 475.2 265.3 477.2 265.3 479.2 265.3 481.2 265.3 483.2 265.3 485.2 265.3 487.2 265.3 489.2 265.3 491.2 265.3 493.2 265.3 495.2 265.3 497.2 265.3 499.2 265.3 501.2 265.3 503.3 265.3 505.3 265.3 507.3 265.3 509.3 265.3 511.3 265.3 513.3 265.3 515.3 265.3 517.3 265.3 519.3 265.3 521.3 265.3 523.3 265.3 525.3 265.3 527.3 265.3 529.3 265.3 531.3 265.3 533.3 265.3 535.3 265.3 537.4 265.3 539.4 265.3 541.4 265.3 543.4 265.3 545.4 265.3 547.4 265.3 549.4 265.3 551.4 265.3 553.4 265.3 553.4 368.6 551.4 371.7 549.4 376.5 547.4 376.6 545.4 371.1 543.4 365.3 541.4 365 539.4 369.3 537.4 372.6 535.3 371.3 533.3 368.2 531.3 368.4 529.3 372.8 527.3 376.8 525.3 376.6 523.3 373.6 521.3 372.4 519.3 374.8 517.3 377.2 515.3 375.3 513.3 370 511.3 366.8 509.3 369.1 507.3 374.1 505.3 375.8 503.3 372.6 501.2 368.7 499.2 369.4 497.2 374.3 495.2 378.1 493.2 376.8 491.2 372.1 489.2 369.2 487.2 370.6 485.2 373.4 483.2 373.9 481.2 371.9 479.2 370.8 477.2 372.7 475.2 375.8 473.2 377.1 471.2 375.7 469.2 374.6 467.2 375.8 465.1 378 463.1 377.7 461.1 374.2 459.1 370.1 457.1 369.1 455.1 371.4 453.1 373.8 451.1 373.6 449.1 371.3 447.1 370.3 445.1 372.3 443.1 375.8 441.1 378.1 439.1 378.1 437.1 376.7 435.1 375.8 433.1 375.8 431 376 429 375.8 427 375.5 425 375.2 423 374.8 421 374.2 419 373.7 417 373.8 415 374.6 413 375.4 411 375.7 409 375.2 407 374.5 405 374.1 403 374.2 401 374.9 399 376.1 396.9 377.2 394.9 377.3 392.9 376.2 390.9 375 388.9 375.4 386.9 377.6 384.9 379.6 382.9 379.1 380.9 376.2 378.9 373.8 376.9 374.4 374.9 377.2 372.9 378.9 370.9 377.6 368.9 374.7 366.9 373.5 364.9 375 362.8 377 360.8 376.7 358.8 374.8 356.8 374.1 354.8 376 352.8 378.3 350.8 378.3 348.8 376.5 346.8 376.1 344.8 379.3 342.8 383.2 340.8 383.4 338.8 379.1 336.8 374.7 334.8 374.9 332.8 378.7 330.8 380.8 328.8 377.5 326.7 371.9 324.7 370 322.7 373.8 320.7 379.3 318.7 380.7 316.7 378 314.7 376.1 312.7 378.3 310.7 382.4 308.7 383.3 306.7 379.9 304.7 376.4 302.7 377 300.7 380.2 298.7 381.1 296.7 377.5 294.7 373.5 292.6 374.5 290.6 380.4 288.6 384.9 286.6 383 284.6 377.2 282.6 374.4 280.6 377.8 278.6 382.8 276.6 382.9Z" fill="#63278c" stroke="none"/>
<path d="M276.6 265.3L276.6 139.5 280.4 385.2 283.5 137 287.2 402.6 290.1 143.5 293.6 388.2 296.3 147.4 299.5 389.7 303 141.5 306.4 391.6 309.6 135.6 313.1 384.3 316 143.1 319.2 387.6 322 134.7 325 376.8 328.1 142.3 331.8 389.5 335 140.5 338.6 388.4 342.2 138.7 345.6 388.6 349.2 140.2 352.4 391.3 355.4 148.4 358.2 380.3 361.7 145.5 364.5 382.6 367.3 138.3 370.8 389.3 374.4 138.1 378.1 379.8 381.2 145.5 384.9 385.4 387.9 144.8 391.3 387.3 394.7 147.6 398.3 386.2 401.8 146.8 405.1 385 408 141.8 411.1 381.1 414.3 145.9 418 380.6 421.1 138.9 424.2 388.5 427.4 148.3 430.4 387.1 433.5 149.8 437.2 383.6 440.4 138.1 443.7 387.4 447.1 145.7 450 384.4 453.2 142.6 456.3 376.7 459.6 143.3 462.8 387.9 466.5 154.8 470.2 386.5 473.7 140.4 477.3 378.7 480.6 144.5 484 387.2 487.5 148.7 490.3 382.4 493.3 146.2 496.6 388.6 499.7 142.9 503.2 381.7 506.7 144.2 510 379.6 512.9 151.7 516 389.4 518.9 146 522.5 382.9 525.3 143.9 528.7 386.9 531.7 152.6 534.5 377.6 537.8 145.7 541.3 374.4 544.5 145.3 547.8 385.7 551.6 149.9 553.4 265.3" fill="none" stroke="#26908a" stroke-width="1.8" stroke-linejoin="round" clip-path="url(#cua)"/>
<path d="M276.6 265.3L276.6 139.5 280.4 385.2 283.5 137 287.2 402.6 290.1 143.5 293.6 388.2 296.3 147.4 299.5 389.7 303 141.5 306.4 391.6 309.6 135.6 313.1 384.3 316 143.1 319.2 387.6 322 134.7 325 376.8 328.1 142.3 331.8 389.5 335 140.5 338.6 388.4 342.2 138.7 345.6 388.6 349.2 140.2 352.4 391.3 355.4 148.4 358.2 380.3 361.7 145.5 364.5 382.6 367.3 138.3 370.8 389.3 374.4 138.1 378.1 379.8 381.2 145.5 384.9 385.4 387.9 144.8 391.3 387.3 394.7 147.6 398.3 386.2 401.8 146.8 405.1 385 408 141.8 411.1 381.1 414.3 145.9 418 380.6 421.1 138.9 424.2 388.5 427.4 148.3 430.4 387.1 433.5 149.8 437.2 383.6 440.4 138.1 443.7 387.4 447.1 145.7 450 384.4 453.2 142.6 456.3 376.7 459.6 143.3 462.8 387.9 466.5 154.8 470.2 386.5 473.7 140.4 477.3 378.7 480.6 144.5 484 387.2 487.5 148.7 490.3 382.4 493.3 146.2 496.6 388.6 499.7 142.9 503.2 381.7 506.7 144.2 510 379.6 512.9 151.7 516 389.4 518.9 146 522.5 382.9 525.3 143.9 528.7 386.9 531.7 152.6 534.5 377.6 537.8 145.7 541.3 374.4 544.5 145.3 547.8 385.7 551.6 149.9 553.4 265.3" fill="none" stroke="#6e2c9c" stroke-width="1.8" stroke-linejoin="round" clip-path="url(#cda)"/>
<path d="M245.8 147.1L247.9 147.6 249.9 147.3 252 146.5 254 146.4 256.1 147.8 258.1 150.3 260.2 151.9 262.2 151.3 264.3 149 266.3 147.6 268.4 148.7 270.4 152.1 272.5 154.9 274.5 155.1 276.6 152.7 276.6 270.3 274.5 270.3 272.5 270.3 270.4 270.3 268.4 270.3 266.3 270.3 264.3 270.3 262.2 270.3 260.2 270.3 258.1 270.3 256.1 270.3 254 270.3 252 270.3 249.9 270.3 247.9 270.3 245.8 270.3Z" fill="#3446ac" stroke="none"/>
<path d="M245.8 265.3L246.7 138 249.4 283.8 252.3 133.1 255.3 283.6 258.3 136.6 261.1 283.9 263.9 138.7 266.7 284.1 269.5 137.3 272.7 283.6 276.1 144.7 276.6 265.3" fill="none" stroke="#3a4ec0" stroke-width="1.8" stroke-linejoin="round" stroke-opacity="1.0"/>
<path d="M276.6 157.9L278.6 157.9 280.6 156.9 282.6 156.4 284.6 156.2 286.6 155.3 288.6 154.1 290.6 155.4 292.6 159.9 294.7 163.5 296.7 162.4 298.7 158.1 300.7 155.8 302.7 157.8 304.7 160.7 306.7 160.6 308.7 158.3 310.7 157.3 312.7 158.3 314.7 159.6 316.7 160.2 318.7 160.9 320.7 161.6 322.7 160.4 324.7 157.3 326.7 155.6 328.8 158.4 330.8 163.3 332.8 165.2 334.8 162.7 336.8 160.1 338.8 160.9 340.8 163.6 342.8 164.2 344.8 161.7 346.8 159 348.8 158 350.8 157.8 352.8 157.9 354.8 159.1 356.8 161.5 358.8 162.4 360.8 159.8 362.8 156 364.9 155.6 366.9 159 368.9 161.6 370.9 160.3 372.9 157.4 374.9 157.4 376.9 160.8 378.9 163.8 380.9 164.2 382.9 163 384.9 162 386.9 160.8 388.9 159.2 390.9 159.2 392.9 161.8 394.9 164.9 396.9 164.8 399 161.8 401 160.4 403 162.9 405 166.1 407 165.6 409 161.6 411 158.5 413 159 415 161.1 417 162.3 419 162.7 421 163.1 423 162.6 425 160.4 427 158.3 429 159.1 431 161.8 433.1 162.6 435.1 159.9 437.1 157.4 439.1 159.2 441.1 164 443.1 166.8 445.1 165.3 447.1 162.3 449.1 160.9 451.1 161.3 453.1 161.6 455.1 161.9 457.1 163.2 459.1 164.4 461.1 163.6 463.1 161.9 465.1 162.3 467.2 165.5 469.2 167.8 471.2 165.7 473.2 161.3 475.2 159.8 477.2 162.7 479.2 166.3 481.2 167.2 483.2 165.7 485.2 164.5 487.2 164.1 489.2 163.2 491.2 162.1 493.2 162 495.2 162.4 497.2 161.3 499.2 158.4 501.2 157.2 503.3 160.4 505.3 165.2 507.3 166.5 509.3 163.5 511.3 160.6 513.3 161.3 515.3 164.2 517.3 165.9 519.3 165.7 521.3 165.5 523.3 166.2 525.3 166.4 527.3 166.2 529.3 166.8 531.3 168.3 533.3 167.9 535.3 164.1 537.4 159.9 539.4 159.8 541.4 163.8 543.4 167 545.4 166.2 547.4 163.7 549.4 163.4 551.4 165.4 553.4 166.9 553.4 265.3 551.4 265.3 549.4 265.3 547.4 265.3 545.4 265.3 543.4 265.3 541.4 265.3 539.4 265.3 537.4 265.3 535.3 265.3 533.3 265.3 531.3 265.3 529.3 265.3 527.3 265.3 525.3 265.3 523.3 265.3 521.3 265.3 519.3 265.3 517.3 265.3 515.3 265.3 513.3 265.3 511.3 265.3 509.3 265.3 507.3 265.3 505.3 265.3 503.3 265.3 501.2 265.3 499.2 265.3 497.2 265.3 495.2 265.3 493.2 265.3 491.2 265.3 489.2 265.3 487.2 265.3 485.2 265.3 483.2 265.3 481.2 265.3 479.2 265.3 477.2 265.3 475.2 265.3 473.2 265.3 471.2 265.3 469.2 265.3 467.2 265.3 465.1 265.3 463.1 265.3 461.1 265.3 459.1 265.3 457.1 265.3 455.1 265.3 453.1 265.3 451.1 265.3 449.1 265.3 447.1 265.3 445.1 265.3 443.1 265.3 441.1 265.3 439.1 265.3 437.1 265.3 435.1 265.3 433.1 265.3 431 265.3 429 265.3 427 265.3 425 265.3 423 265.3 421 265.3 419 265.3 417 265.3 415 265.3 413 265.3 411 265.3 409 265.3 407 265.3 405 265.3 403 265.3 401 265.3 399 265.3 396.9 265.3 394.9 265.3 392.9 265.3 390.9 265.3 388.9 265.3 386.9 265.3 384.9 265.3 382.9 265.3 380.9 265.3 378.9 265.3 376.9 265.3 374.9 265.3 372.9 265.3 370.9 265.3 368.9 265.3 366.9 265.3 364.9 265.3 362.8 265.3 360.8 265.3 358.8 265.3 356.8 265.3 354.8 265.3 352.8 265.3 350.8 265.3 348.8 265.3 346.8 265.3 344.8 265.3 342.8 265.3 340.8 265.3 338.8 265.3 336.8 265.3 334.8 265.3 332.8 265.3 330.8 265.3 328.8 265.3 326.7 265.3 324.7 265.3 322.7 265.3 320.7 265.3 318.7 265.3 316.7 265.3 314.7 265.3 312.7 265.3 310.7 265.3 308.7 265.3 306.7 265.3 304.7 265.3 302.7 265.3 300.7 265.3 298.7 265.3 296.7 265.3 294.7 265.3 292.6 265.3 290.6 265.3 288.6 265.3 286.6 265.3 284.6 265.3 282.6 265.3 280.6 265.3 278.6 265.3 276.6 265.3Z" fill="#615f2d" stroke="none"/>
<path d="M276.6 265.3L278.6 265.3 280.6 265.3 282.6 265.3 284.6 265.3 286.6 265.3 288.6 265.3 290.6 265.3 292.6 265.3 294.7 265.3 296.7 265.3 298.7 265.3 300.7 265.3 302.7 265.3 304.7 265.3 306.7 265.3 308.7 265.3 310.7 265.3 312.7 265.3 314.7 265.3 316.7 265.3 318.7 265.3 320.7 265.3 322.7 265.3 324.7 265.3 326.7 265.3 328.8 265.3 330.8 265.3 332.8 265.3 334.8 265.3 336.8 265.3 338.8 265.3 340.8 265.3 342.8 265.3 344.8 265.3 346.8 265.3 348.8 265.3 350.8 265.3 352.8 265.3 354.8 265.3 356.8 265.3 358.8 265.3 360.8 265.3 362.8 265.3 364.9 265.3 366.9 265.3 368.9 265.3 370.9 265.3 372.9 265.3 374.9 265.3 376.9 265.3 378.9 265.3 380.9 265.3 382.9 265.3 384.9 265.3 386.9 265.3 388.9 265.3 390.9 265.3 392.9 265.3 394.9 265.3 396.9 265.3 399 265.3 401 265.3 403 265.3 405 265.3 407 265.3 409 265.3 411 265.3 413 265.3 415 265.3 417 265.3 419 265.3 421 265.3 423 265.3 425 265.3 427 265.3 429 265.3 431 265.3 433.1 265.3 435.1 265.3 437.1 265.3 439.1 265.3 441.1 265.3 443.1 265.3 445.1 265.3 447.1 265.3 449.1 265.3 451.1 265.3 453.1 265.3 455.1 265.3 457.1 265.3 459.1 265.3 461.1 265.3 463.1 265.3 465.1 265.3 467.2 265.3 469.2 265.3 471.2 265.3 473.2 265.3 475.2 265.3 477.2 265.3 479.2 265.3 481.2 265.3 483.2 265.3 485.2 265.3 487.2 265.3 489.2 265.3 491.2 265.3 493.2 265.3 495.2 265.3 497.2 265.3 499.2 265.3 501.2 265.3 503.3 265.3 505.3 265.3 507.3 265.3 509.3 265.3 511.3 265.3 513.3 265.3 515.3 265.3 517.3 265.3 519.3 265.3 521.3 265.3 523.3 265.3 525.3 265.3 527.3 265.3 529.3 265.3 531.3 265.3 533.3 265.3 535.3 265.3 537.4 265.3 539.4 265.3 541.4 265.3 543.4 265.3 545.4 265.3 547.4 265.3 549.4 265.3 551.4 265.3 553.4 265.3 553.4 365.8 551.4 365.4 549.4 364.4 547.4 363.6 545.4 362.9 543.4 361.6 541.4 359.6 539.4 358.5 537.4 360.3 535.3 364.8 533.3 368.7 531.3 369.1 529.3 366.2 527.3 363.6 525.3 364.2 523.3 367.7 521.3 370.6 519.3 370.6 517.3 368.5 515.3 367 513.3 367.1 511.3 367.6 509.3 366.2 507.3 363.4 505.3 361.2 503.3 361.5 501.2 363.6 499.2 365.4 497.2 365.8 495.2 365.3 493.2 364.8 491.2 364.4 489.2 364 487.2 364.2 485.2 366.1 483.2 369.5 481.2 372.2 479.2 371.6 477.2 368.1 475.2 364.7 473.2 364.4 471.2 366.9 469.2 369.1 467.2 368.6 465.1 366.2 463.1 365 461.1 366.1 459.1 367.8 457.1 367.4 455.1 364.8 453.1 362.6 451.1 363.3 449.1 366.7 447.1 369.6 445.1 370 443.1 368.3 441.1 366.3 439.1 365.3 437.1 365.4 435.1 366.1 433.1 367.5 431 369.7 429 371.4 427 371 425 368.5 423 365.9 421 365.7 419 367.9 417 370 415 369.6 413 367.6 411 366.5 409 367.7 407 369.3 405 368.6 403 365.3 401 362.5 399 363.3 396.9 367.4 394.9 371.3 392.9 372 390.9 369.6 388.9 367.1 386.9 366.7 384.9 368.1 382.9 369.9 380.9 371 378.9 371.8 376.9 372.3 374.9 371.8 372.9 369.7 370.9 367.2 368.9 366.1 366.9 366.9 364.9 368.1 362.8 368.1 360.8 366.9 358.8 366.6 356.8 368.2 354.8 370.2 352.8 370.1 350.8 367.6 348.8 365.5 346.8 366.9 344.8 371.6 342.8 375.8 340.8 376 338.8 372.3 336.8 368.4 334.8 367.3 332.8 368.7 330.8 370.3 328.8 370.4 326.7 369.6 324.7 369.2 322.7 369.3 320.7 369 318.7 367.9 316.7 367.1 314.7 367.7 312.7 369.4 310.7 370.9 308.7 371.4 306.7 371.8 304.7 372.9 302.7 373.9 300.7 372.9 298.7 369.8 296.7 367.1 294.7 367.7 292.6 371.4 290.6 374.8 288.6 374.2 286.6 370 284.6 366 282.6 365.6 280.6 368.5 278.6 371.4 276.6 372.1Z" fill="#861734" stroke="none"/>
<path d="M276.6 265.3L278.6 147.1 281.6 375.2 284.6 145.1 287.6 385.1 290.6 146.5 294.2 380 297.5 154.8 300.4 380.7 303.8 149.1 307.5 387.4 310.7 149 313.7 378.8 317.5 147.5 320.6 380.6 324.1 142.9 327.2 380.1 330.9 157 333.8 375.9 336.7 153.7 340 386.5 343.6 152.8 346.5 380 350.2 143.6 353.5 383.5 356.5 149.5 359.4 372.1 362.4 144.9 365.6 373.2 368.8 152.1 372.4 375 375.3 144.8 378.5 382.1 382.2 154.6 385.7 378.1 388.7 149.4 391.7 383.6 395.3 159.9 398.1 375.6 401.2 151.5 404.8 380.9 408.1 151.5 411.2 377.2 414.3 151.8 417.4 378.3 420.2 149.1 423.5 374.4 426.4 150.6 429.6 378.1 432.8 157.6 436.5 370.5 440.2 154 443.4 376 446.7 155.3 450 376.1 453 154.4 456.1 377.8 459.2 149.9 462.8 372.4 466.3 153 469.1 383 472.4 150.6 475.2 376.7 478.5 160.4 481.7 382.4 485.4 158.9 488.6 374.4 491.8 152 495.2 374.4 498.7 149.1 501.7 374.9 505.4 158.9 508.7 380.5 511.9 155 515 377.1 518.3 155.8 521.8 376.1 524.7 157.2 527.8 370 531.2 159.6 534.5 378.3 537.8 150.3 540.9 368.7 543.9 156.9 546.9 368.7 550 153.4 553.4 265.3" fill="none" stroke="#6c6a33" stroke-width="1.8" stroke-linejoin="round" clip-path="url(#cua)"/>
<path d="M276.6 265.3L278.6 147.1 281.6 375.2 284.6 145.1 287.6 385.1 290.6 146.5 294.2 380 297.5 154.8 300.4 380.7 303.8 149.1 307.5 387.4 310.7 149 313.7 378.8 317.5 147.5 320.6 380.6 324.1 142.9 327.2 380.1 330.9 157 333.8 375.9 336.7 153.7 340 386.5 343.6 152.8 346.5 380 350.2 143.6 353.5 383.5 356.5 149.5 359.4 372.1 362.4 144.9 365.6 373.2 368.8 152.1 372.4 375 375.3 144.8 378.5 382.1 382.2 154.6 385.7 378.1 388.7 149.4 391.7 383.6 395.3 159.9 398.1 375.6 401.2 151.5 404.8 380.9 408.1 151.5 411.2 377.2 414.3 151.8 417.4 378.3 420.2 149.1 423.5 374.4 426.4 150.6 429.6 378.1 432.8 157.6 436.5 370.5 440.2 154 443.4 376 446.7 155.3 450 376.1 453 154.4 456.1 377.8 459.2 149.9 462.8 372.4 466.3 153 469.1 383 472.4 150.6 475.2 376.7 478.5 160.4 481.7 382.4 485.4 158.9 488.6 374.4 491.8 152 495.2 374.4 498.7 149.1 501.7 374.9 505.4 158.9 508.7 380.5 511.9 155 515 377.1 518.3 155.8 521.8 376.1 524.7 157.2 527.8 370 531.2 159.6 534.5 378.3 537.8 150.3 540.9 368.7 543.9 156.9 546.9 368.7 550 153.4 553.4 265.3" fill="none" stroke="#951a3a" stroke-width="1.8" stroke-linejoin="round" clip-path="url(#cda)"/>
<path d="M245.8 156.8L247.9 157.7 249.9 157.7 252 156.8 254 155.6 256.1 154.5 258.1 154 260.2 154.4 262.2 155.8 264.3 157.8 266.3 159.9 268.4 161.5 270.4 162.1 272.5 161.7 274.5 160.5 276.6 159 276.6 270.3 274.5 270.3 272.5 270.3 270.4 270.3 268.4 270.3 266.3 270.3 264.3 270.3 262.2 270.3 260.2 270.3 258.1 270.3 256.1 270.3 254 270.3 252 270.3 249.9 270.3 247.9 270.3 245.8 270.3Z" fill="#63278c" stroke="none"/>
<path d="M245.8 265.3L247.5 144.3 250.8 282.6 253.8 148.4 257.1 282.2 259.9 141.7 262.5 282.9 265.5 149.5 268.4 282.2 271.8 150.9 275.1 282.2 276.6 265.3" fill="none" stroke="#6e2c9c" stroke-width="1.8" stroke-linejoin="round" stroke-opacity="1.0"/>
<path d="M276.6 164.8L278.6 161.9 280.6 159.7 282.6 158.9 284.6 159.8 286.6 162.3 288.6 165.4 290.6 167.9 292.6 169 294.7 168.4 296.7 166.5 298.7 164.4 300.7 163.1 302.7 163.5 304.7 165.6 306.7 168.7 308.7 171.7 310.7 173.3 312.7 172.9 314.7 170.5 316.7 167 318.7 163.6 320.7 161.5 322.7 161.4 324.7 163 326.7 165.5 328.8 167.5 330.8 168.2 332.8 167 334.8 164.5 336.8 161.8 338.8 159.9 340.8 159.8 342.8 161.8 344.8 165.1 346.8 168.7 348.8 171.3 350.8 172.3 352.8 171.5 354.8 169.5 356.8 167.4 358.8 166.2 360.8 166.3 362.8 167.7 364.9 169.7 366.9 171.4 368.9 171.9 370.9 170.9 372.9 168.6 374.9 165.8 376.9 163.4 378.9 162 380.9 162 382.9 163.2 384.9 164.9 386.9 166.4 388.9 167.3 390.9 167.3 392.9 166.7 394.9 165.9 396.9 165.5 399 165.7 401 166.7 403 168.3 405 169.9 407 171.3 409 172.1 411 172.1 413 171.4 415 170.3 417 169.1 419 168 421 167.2 423 167 425 167.1 427 167.5 429 167.9 431 168 433.1 167.8 435.1 167 437.1 166 439.1 165.1 441.1 164.6 443.1 165 445.1 166.2 447.1 168.1 449.1 170 451.1 171.5 453.1 172 455.1 171.5 457.1 170.2 459.1 168.7 461.1 167.6 463.1 167.6 465.1 168.6 467.2 170.2 469.2 171.7 471.2 172.4 473.2 171.8 475.2 170 477.2 167.5 479.2 165.4 481.2 164.3 483.2 164.8 485.2 166.7 487.2 169.2 489.2 171.4 491.2 172.4 493.2 171.9 495.2 170.2 497.2 168.1 499.2 166.6 501.2 166.6 503.3 168 505.3 170.4 507.3 172.9 509.3 174.4 511.3 174.2 513.3 172.5 515.3 169.7 517.3 167.1 519.3 165.6 521.3 165.7 523.3 167.2 525.3 169.5 527.3 171.5 529.3 172.4 531.3 171.8 533.3 170.1 535.3 168.1 537.4 166.7 539.4 166.7 541.4 168.1 543.4 170.5 545.4 173 547.4 174.7 549.4 175.1 551.4 174.1 553.4 172.2 553.4 353.5 551.4 353.7 549.4 356.5 547.4 360.3 545.4 362.8 543.4 363 541.4 361.4 539.4 359.6 537.4 358.9 535.3 359.4 533.3 360.5 531.3 361 529.3 360.8 527.3 360.1 525.3 359.7 523.3 359.7 521.3 359.7 519.3 359.2 517.3 358.4 515.3 357.8 513.3 358 511.3 359.3 509.3 360.9 507.3 361.9 505.3 361.9 503.3 361.1 501.2 360.5 499.2 360.6 497.2 361.2 495.2 361.3 493.2 360.4 491.2 358.7 489.2 357.5 487.2 357.9 485.2 359.8 483.2 362 481.2 362.7 479.2 361.3 477.2 358.5 475.2 356.7 473.2 357.4 471.2 360.8 469.2 364.9 467.2 367.2 465.1 366.2 463.1 362.7 461.1 359.1 459.1 357.6 457.1 358.8 455.1 361.2 453.1 362.8 451.1 362.3 449.1 360.1 447.1 358 445.1 357.5 443.1 358.9 441.1 360.9 439.1 362 437.1 361.8 435.1 360.8 433.1 360.4 431 361.4 429 363.4 427 365.1 425 365.3 423 363.8 421 361.7 419 360.2 417 359.9 415 360.6 413 361.5 411 362 409 362.1 407 362.1 405 362.2 403 362.2 401 361.8 399 361 396.9 360.5 394.9 361.2 392.9 363.1 390.9 365.2 388.9 366 386.9 364.6 384.9 361.5 382.9 358.4 380.9 357.2 378.9 358.7 376.9 361.6 374.9 363.9 372.9 364.1 370.9 362.3 368.9 360.3 366.9 360 364.9 361.9 362.8 364.8 360.8 366.8 358.8 366.6 356.8 364.7 354.8 362.9 352.8 362.9 350.8 364.7 348.8 366.7 346.8 367.1 344.8 364.8 342.8 361.1 340.8 358.1 338.8 357.7 336.8 360 334.8 363.3 332.8 365.3 330.8 365 328.8 362.9 326.7 360.8 324.7 360.2 322.7 361.3 320.7 363.3 318.7 364.9 316.7 365.4 314.7 365.1 312.7 364.5 310.7 364.1 308.7 363.6 306.7 362.8 304.7 362 302.7 361.7 300.7 362.5 298.7 364.2 296.7 366 294.7 366.9 292.6 366.4 290.6 365.2 288.6 364.4 286.6 364.8 284.6 366.1 282.6 367.2 280.6 366.9 278.6 365.1 276.6 363.2Z" fill="#63278c" stroke="none"/>
<path d="M276.6 265.3L277.3 157.3 280.7 372.8 284 146.9 287.4 372.1 290.9 161.2 294.4 373.9 297.1 157 300.2 371.5 303.2 156.8 306.5 374 310.1 162.5 313.4 375.1 316.8 155.2 319.8 369.4 322.9 150.2 326.1 367.8 329.8 159.6 332.9 371.9 335.8 150.8 338.6 371 341.5 147.3 345.1 370.6 347.9 165.5 351.6 373.7 355.2 158.4 358.1 375 361.4 160.3 364.5 372.7 367.8 160.3 370.7 369.1 374.2 154.9 377.9 371.4 381.5 157.1 384.9 371.2 388.2 153.1 391.9 373 395.6 157 399.1 369.5 402.6 156.9 406.1 374.1 409.3 165.2 412 372.2 415.4 161.6 418.8 368 422.4 159.8 425.7 376.3 428.6 158.2 431.9 367.3 434.9 160.6 437.9 372.1 441.5 152.2 444.5 363.8 448.2 161.8 451.9 374.8 454.8 161.5 457.8 368.2 460.9 158.5 464.1 377.8 467.2 165.2 470.2 369.3 473.8 160.1 477.5 364.6 481.2 154.9 484.8 370.1 488 161.7 491.7 364.2 494.8 165.6 497.8 366.6 501 157.4 504.3 374.1 507.2 166.1 510.8 367.9 513.9 163.1 517.4 369.9 520.8 154.2 523.7 371 526.5 160.7 529.3 366.6 532.8 163.5 536.4 367.2 539.6 159.3 542.4 369 545.5 165.3 548.6 365.1 551.9 166.3 553.4 265.3" fill="none" stroke="#6e2c9c" stroke-width="1.8" stroke-linejoin="round" stroke-opacity="1.0"/>
<path d="M245.8 165.2L247.9 164.7 249.9 165.5 252 167.6 254 169.8 256.1 171 258.1 170.6 260.2 168.8 262.2 167.1 264.3 166.6 266.3 167.7 268.4 169.9 270.4 171.9 272.5 172.7 274.5 172.2 276.6 171.2 276.6 270.3 274.5 270.3 272.5 270.3 270.4 270.3 268.4 270.3 266.3 270.3 264.3 270.3 262.2 270.3 260.2 270.3 258.1 270.3 256.1 270.3 254 270.3 252 270.3 249.9 270.3 247.9 270.3 245.8 270.3Z" fill="#ac1c37" stroke="none"/>
<path d="M245.8 265.3L246.8 152.9 249.6 281.7 252.9 157.4 255.6 281.2 259 163.1 261.7 281.5 264.5 157.4 267.2 281.7 270 166.2 273.1 281 276.2 163.2 276.6 265.3" fill="none" stroke="#c0203e" stroke-width="1.8" stroke-linejoin="round" stroke-opacity="1.0"/>
<path d="M276.6 173L278.6 174 280.6 175.3 282.6 176.5 284.6 177.3 286.6 177.4 288.6 176.8 290.6 176 292.6 175.4 294.7 175.7 296.7 176.6 298.7 177.5 300.7 177.5 302.7 176.5 304.7 175 306.7 174 308.7 174.4 310.7 176.2 312.7 178.4 314.7 179.6 316.7 178.9 318.7 176.6 320.7 173.9 322.7 172.2 324.7 172.3 326.7 173.8 328.8 175.5 330.8 176.3 332.8 175.8 334.8 174.8 336.8 174.2 338.8 174.8 340.8 176.4 342.8 177.9 344.8 178.5 346.8 177.7 348.8 176.1 350.8 174.8 352.8 174.6 354.8 175.4 356.8 176.9 358.8 178 360.8 178.5 362.8 178.3 364.9 178.1 366.9 178.1 368.9 178.2 370.9 178.2 372.9 177.6 374.9 176.6 376.9 175.6 378.9 175 380.9 175 382.9 175.5 384.9 175.9 386.9 176.1 388.9 176.1 390.9 176.2 392.9 176.8 394.9 177.5 396.9 177.8 399 177.3 401 175.9 403 174.5 405 174 407 174.9 409 176.8 411 178.8 413 179.7 415 179.3 417 178.1 419 177.2 421 177.4 423 178.8 425 180.2 427 180.5 429 179.2 431 176.8 433.1 174.7 435.1 174.2 437.1 175.6 439.1 178.1 441.1 180.2 443.1 180.7 445.1 179.5 447.1 177.3 449.1 175.4 451.1 174.8 453.1 175.4 455.1 176.5 457.1 177.3 459.1 177.4 461.1 176.9 463.1 176.4 465.1 176.5 467.2 177.1 469.2 178.1 471.2 179.1 473.2 179.9 475.2 180.2 477.2 180.2 479.2 179.6 481.2 178.5 483.2 177.2 485.2 176.2 487.2 176.3 489.2 177.7 491.2 179.9 493.2 181.9 495.2 182.4 497.2 181.1 499.2 178.5 501.2 176.1 503.3 175.2 505.3 176.3 507.3 178.4 509.3 180 511.3 179.8 513.3 177.9 515.3 175.3 517.3 174 519.3 174.9 521.3 177.8 523.3 181.1 525.3 183 527.3 182.4 529.3 179.7 531.3 176.7 533.3 174.9 535.3 175.2 537.4 177.4 539.4 180.1 541.4 181.9 543.4 182.3 545.4 181.4 547.4 180.1 549.4 179.2 551.4 178.9 553.4 179.4 553.4 265.3 551.4 265.3 549.4 265.3 547.4 265.3 545.4 265.3 543.4 265.3 541.4 265.3 539.4 265.3 537.4 265.3 535.3 265.3 533.3 265.3 531.3 265.3 529.3 265.3 527.3 265.3 525.3 265.3 523.3 265.3 521.3 265.3 519.3 265.3 517.3 265.3 515.3 265.3 513.3 265.3 511.3 265.3 509.3 265.3 507.3 265.3 505.3 265.3 503.3 265.3 501.2 265.3 499.2 265.3 497.2 265.3 495.2 265.3 493.2 265.3 491.2 265.3 489.2 265.3 487.2 265.3 485.2 265.3 483.2 265.3 481.2 265.3 479.2 265.3 477.2 265.3 475.2 265.3 473.2 265.3 471.2 265.3 469.2 265.3 467.2 265.3 465.1 265.3 463.1 265.3 461.1 265.3 459.1 265.3 457.1 265.3 455.1 265.3 453.1 265.3 451.1 265.3 449.1 265.3 447.1 265.3 445.1 265.3 443.1 265.3 441.1 265.3 439.1 265.3 437.1 265.3 435.1 265.3 433.1 265.3 431 265.3 429 265.3 427 265.3 425 265.3 423 265.3 421 265.3 419 265.3 417 265.3 415 265.3 413 265.3 411 265.3 409 265.3 407 265.3 405 265.3 403 265.3 401 265.3 399 265.3 396.9 265.3 394.9 265.3 392.9 265.3 390.9 265.3 388.9 265.3 386.9 265.3 384.9 265.3 382.9 265.3 380.9 265.3 378.9 265.3 376.9 265.3 374.9 265.3 372.9 265.3 370.9 265.3 368.9 265.3 366.9 265.3 364.9 265.3 362.8 265.3 360.8 265.3 358.8 265.3 356.8 265.3 354.8 265.3 352.8 265.3 350.8 265.3 348.8 265.3 346.8 265.3 344.8 265.3 342.8 265.3 340.8 265.3 338.8 265.3 336.8 265.3 334.8 265.3 332.8 265.3 330.8 265.3 328.8 265.3 326.7 265.3 324.7 265.3 322.7 265.3 320.7 265.3 318.7 265.3 316.7 265.3 314.7 265.3 312.7 265.3 310.7 265.3 308.7 265.3 306.7 265.3 304.7 265.3 302.7 265.3 300.7 265.3 298.7 265.3 296.7 265.3 294.7 265.3 292.6 265.3 290.6 265.3 288.6 265.3 286.6 265.3 284.6 265.3 282.6 265.3 280.6 265.3 278.6 265.3 276.6 265.3Z" fill="#861734" stroke="none"/>
<path d="M276.6 265.3L278.6 265.3 280.6 265.3 282.6 265.3 284.6 265.3 286.6 265.3 288.6 265.3 290.6 265.3 292.6 265.3 294.7 265.3 296.7 265.3 298.7 265.3 300.7 265.3 302.7 265.3 304.7 265.3 306.7 265.3 308.7 265.3 310.7 265.3 312.7 265.3 314.7 265.3 316.7 265.3 318.7 265.3 320.7 265.3 322.7 265.3 324.7 265.3 326.7 265.3 328.8 265.3 330.8 265.3 332.8 265.3 334.8 265.3 336.8 265.3 338.8 265.3 340.8 265.3 342.8 265.3 344.8 265.3 346.8 265.3 348.8 265.3 350.8 265.3 352.8 265.3 354.8 265.3 356.8 265.3 358.8 265.3 360.8 265.3 362.8 265.3 364.9 265.3 366.9 265.3 368.9 265.3 370.9 265.3 372.9 265.3 374.9 265.3 376.9 265.3 378.9 265.3 380.9 265.3 382.9 265.3 384.9 265.3 386.9 265.3 388.9 265.3 390.9 265.3 392.9 265.3 394.9 265.3 396.9 265.3 399 265.3 401 265.3 403 265.3 405 265.3 407 265.3 409 265.3 411 265.3 413 265.3 415 265.3 417 265.3 419 265.3 421 265.3 423 265.3 425 265.3 427 265.3 429 265.3 431 265.3 433.1 265.3 435.1 265.3 437.1 265.3 439.1 265.3 441.1 265.3 443.1 265.3 445.1 265.3 447.1 265.3 449.1 265.3 451.1 265.3 453.1 265.3 455.1 265.3 457.1 265.3 459.1 265.3 461.1 265.3 463.1 265.3 465.1 265.3 467.2 265.3 469.2 265.3 471.2 265.3 473.2 265.3 475.2 265.3 477.2 265.3 479.2 265.3 481.2 265.3 483.2 265.3 485.2 265.3 487.2 265.3 489.2 265.3 491.2 265.3 493.2 265.3 495.2 265.3 497.2 265.3 499.2 265.3 501.2 265.3 503.3 265.3 505.3 265.3 507.3 265.3 509.3 265.3 511.3 265.3 513.3 265.3 515.3 265.3 517.3 265.3 519.3 265.3 521.3 265.3 523.3 265.3 525.3 265.3 527.3 265.3 529.3 265.3 531.3 265.3 533.3 265.3 535.3 265.3 537.4 265.3 539.4 265.3 541.4 265.3 543.4 265.3 545.4 265.3 547.4 265.3 549.4 265.3 551.4 265.3 553.4 265.3 553.4 349.6 551.4 348.5 549.4 349.1 547.4 350.3 545.4 350.5 543.4 349 541.4 347.3 539.4 347.2 537.4 348.9 535.3 350.9 533.3 351.9 531.3 351.7 529.3 351.1 527.3 350.7 525.3 350.4 523.3 350.1 521.3 350.5 519.3 352.4 517.3 355.1 515.3 356.7 513.3 355.3 511.3 351.9 509.3 349.2 507.3 349.6 505.3 352.7 503.3 355.7 501.2 356 499.2 353.6 497.2 350.8 495.2 349.5 493.2 349.6 491.2 350 489.2 350.2 487.2 350.4 485.2 350.9 483.2 351.1 481.2 350.3 479.2 348.6 477.2 347.6 475.2 348.3 473.2 350 471.2 351.2 469.2 351 467.2 350.3 465.1 350.7 463.1 352.5 461.1 353.9 459.1 353.4 457.1 351.6 455.1 350.7 453.1 352.3 451.1 355.5 449.1 357.7 447.1 357.2 445.1 354.7 443.1 352.4 441.1 351.8 439.1 352.6 437.1 353.8 435.1 354.7 433.1 355.1 431 354.8 429 353.3 427 350.6 425 348 423 347.7 421 350 419 353 417 353.9 415 351.7 413 348.5 411 347 409 348.2 407 350.7 405 352.1 403 352 401 351.7 399 352.2 396.9 353.3 394.9 353.9 392.9 353.5 390.9 353 388.9 353.6 386.9 355.1 384.9 356.3 382.9 356.5 380.9 356.1 378.9 356.1 376.9 356.3 374.9 355.8 372.9 354 370.9 352.4 368.9 352.6 366.9 354.8 364.9 357 362.8 356.4 360.8 352.9 358.8 348.9 356.8 347.5 354.8 349.2 352.8 352.1 350.8 353.7 348.8 353 346.8 351.3 344.8 350 342.8 349.3 340.8 349.3 338.8 350 336.8 351.8 334.8 354.3 332.8 356 330.8 355.6 328.8 353.5 326.7 352.1 324.7 353 322.7 355.7 320.7 357.9 318.7 357.9 316.7 356.5 314.7 355.8 312.7 356.5 310.7 357.7 308.7 357.4 306.7 355.5 304.7 353.6 302.7 353.6 300.7 355 298.7 356.3 296.7 355.8 294.7 354 292.6 352.1 290.6 351 288.6 350.6 286.6 350.4 284.6 351 282.6 352.5 280.6 354.3 278.6 354.5 276.6 352.4Z" fill="#27256f" stroke="none"/>
<path d="M276.6 265.3L278.3 164.8 281.3 361.9 284.5 172.4 287.7 358.8 290.8 165.4 293.8 362.9 296.8 166.3 300 363.8 303.2 168.5 306.8 363.5 309.7 169.3 313.3 367.4 316.7 169.4 320.3 368.3 323.8 165.4 327.5 356.8 330.6 166.6 334.2 365.7 337.1 161.3 340.7 355.4 344.1 169.2 347.5 357 350.3 164.7 353.8 360.6 357.5 168.7 360.6 359.6 364.2 172.4 367.7 362.7 370.8 172.1 374.2 364.3 377.2 164.7 380.3 367.1 384 166.1 387 362.9 389.8 165.9 393 362.8 396 169.6 399.1 358.2 402.4 164 405.5 358.8 408.8 164.1 412.2 356.3 415.6 168.6 418.6 361.4 421.9 172.4 424.7 352.7 427.7 171.4 430.8 364.3 434.2 166.5 437.1 361.3 440.7 174.4 444.2 362.3 447.5 167.5 450.9 365 453.7 166.2 456.9 357.2 460.1 172.2 463.7 359.3 466.8 164.9 469.8 361.1 472.9 173 475.9 356.8 479.1 173 482.4 357.2 485.5 169.7 488.7 357.4 491.9 174.2 495.6 358.8 499.1 169.6 502.5 367.2 505.9 169.7 508.9 358 512.6 172.1 515.4 364 518.4 165.5 521.6 360.9 525.2 178.5 528.8 360.6 532.1 166.5 535.6 358.6 539.1 171.9 542.8 353.4 545.9 172.3 548.9 357.1 552.2 173.7 553.4 265.3" fill="none" stroke="#951a3a" stroke-width="1.8" stroke-linejoin="round" clip-path="url(#cua)"/>
<path d="M276.6 265.3L278.3 164.8 281.3 361.9 284.5 172.4 287.7 358.8 290.8 165.4 293.8 362.9 296.8 166.3 300 363.8 303.2 168.5 306.8 363.5 309.7 169.3 313.3 367.4 316.7 169.4 320.3 368.3 323.8 165.4 327.5 356.8 330.6 166.6 334.2 365.7 337.1 161.3 340.7 355.4 344.1 169.2 347.5 357 350.3 164.7 353.8 360.6 357.5 168.7 360.6 359.6 364.2 172.4 367.7 362.7 370.8 172.1 374.2 364.3 377.2 164.7 380.3 367.1 384 166.1 387 362.9 389.8 165.9 393 362.8 396 169.6 399.1 358.2 402.4 164 405.5 358.8 408.8 164.1 412.2 356.3 415.6 168.6 418.6 361.4 421.9 172.4 424.7 352.7 427.7 171.4 430.8 364.3 434.2 166.5 437.1 361.3 440.7 174.4 444.2 362.3 447.5 167.5 450.9 365 453.7 166.2 456.9 357.2 460.1 172.2 463.7 359.3 466.8 164.9 469.8 361.1 472.9 173 475.9 356.8 479.1 173 482.4 357.2 485.5 169.7 488.7 357.4 491.9 174.2 495.6 358.8 499.1 169.6 502.5 367.2 505.9 169.7 508.9 358 512.6 172.1 515.4 364 518.4 165.5 521.6 360.9 525.2 178.5 528.8 360.6 532.1 166.5 535.6 358.6 539.1 171.9 542.8 353.4 545.9 172.3 548.9 357.1 552.2 173.7 553.4 265.3" fill="none" stroke="#2c2a7c" stroke-width="1.8" stroke-linejoin="round" clip-path="url(#cda)"/>
<path d="M245.8 174.6L247.9 177.3 249.9 179 252 178.2 254 176.2 256.1 175.4 258.1 177 260.2 179.3 262.2 180.1 264.3 178.9 266.3 177.3 268.4 177.4 270.4 179.2 272.5 180.9 274.5 181 276.6 179.7 276.6 270.3 274.5 270.3 272.5 270.3 270.4 270.3 268.4 270.3 266.3 270.3 264.3 270.3 262.2 270.3 260.2 270.3 258.1 270.3 256.1 270.3 254 270.3 252 270.3 249.9 270.3 247.9 270.3 245.8 270.3Z" fill="#27256f" stroke="none"/>
<path d="M245.8 265.3L247.8 170.9 251.1 280 253.7 168 256.7 280.1 260.2 171.3 263.6 279.9 266.8 172.3 269.6 280.3 272.8 171.6 275.7 279.8 276.6 265.3" fill="none" stroke="#2c2a7c" stroke-width="1.8" stroke-linejoin="round" stroke-opacity="1.0"/>
<path d="M276.6 183.2L278.6 183 280.6 181.8 282.6 182.3 284.6 184.9 286.6 187.2 288.6 186.5 290.6 184.1 292.6 182.9 294.7 183.7 296.7 184.4 298.7 183.1 300.7 181.4 302.7 181.9 304.7 184.1 306.7 185 308.7 183.3 310.7 181.1 312.7 181.1 314.7 182.8 316.7 183.5 318.7 182.3 320.7 181.7 322.7 183.4 324.7 185.9 326.7 186.2 328.8 184.2 330.8 182.8 332.8 183.8 334.8 185.4 336.8 185.3 338.8 183.8 340.8 183.6 342.8 185.6 344.8 187.4 346.8 186.7 348.8 184.5 350.8 183.8 352.8 185.2 354.8 186.1 356.8 184.9 358.8 182.8 360.8 182.7 362.8 184.2 364.9 184.7 366.9 182.9 368.9 181.1 370.9 181.7 372.9 184 374.9 185.2 376.9 184.3 378.9 183.4 380.9 184.5 382.9 186.2 384.9 186 386.9 183.7 388.9 182.2 390.9 183.3 392.9 185.2 394.9 185.2 396.9 183.7 399 183.2 401 184.7 403 186.2 405 185.5 407 183.8 409 184 411 186.6 413 188.8 415 188.6 417 187 419 186.6 421 187.4 423 186.8 425 183.9 427 181 429 181 431 183 433.1 184.3 435.1 183.6 437.1 183 439.1 184.2 441.1 186 443.1 185.8 445.1 183.7 447.1 182.7 449.1 184.4 451.1 187 453.1 187.7 455.1 186.4 457.1 185.6 459.1 186.3 461.1 186.6 463.1 184.6 465.1 181.7 467.2 181.2 469.2 183.6 471.2 186.5 473.2 187.3 475.2 187.1 477.2 188 479.2 189.8 481.2 189.8 483.2 187.1 485.2 184.2 487.2 183.9 489.2 185.7 491.2 186.8 493.2 185.9 495.2 184.8 497.2 185.4 499.2 186.3 501.2 185.2 503.3 182.2 505.3 180.4 507.3 181.9 509.3 184.8 511.3 186.4 513.3 186.3 515.3 186.8 517.3 188.5 519.3 189.2 521.3 187.2 523.3 183.8 525.3 182.4 527.3 184 529.3 186.1 531.3 186.6 533.3 186.4 535.3 187.5 537.4 189.5 539.4 189.8 541.4 187.3 543.4 184.4 545.4 184.1 547.4 186 549.4 187.4 551.4 187.1 553.4 186.8 553.4 344.6 551.4 344.3 549.4 344.1 547.4 343 545.4 341 543.4 339.4 541.4 340 539.4 342.6 537.4 345.2 535.3 345.9 533.3 344.9 531.3 343.8 529.3 343.7 527.3 344.2 525.3 344 523.3 343 521.3 342.4 519.3 343.5 517.3 345.6 515.3 346.9 513.3 346.2 511.3 344.5 509.3 343.6 507.3 344.2 505.3 344.9 503.3 344.5 501.2 342.9 499.2 341.8 497.2 342.3 495.2 343.9 493.2 345 491.2 344.8 489.2 344.3 487.2 344.7 485.2 345.9 483.2 346.3 481.2 344.7 479.2 342.1 477.2 340.4 475.2 341 473.2 342.9 471.2 344.4 469.2 344.8 467.2 344.8 465.1 345.6 463.1 346.5 461.1 346.3 459.1 344.5 457.1 342.6 455.1 342.6 453.1 344.8 451.1 347.6 449.1 348.8 447.1 348 445.1 346.5 443.1 345.5 441.1 344.8 439.1 343.3 437.1 341.1 435.1 339.7 433.1 340.6 431 343.4 429 346 427 346.7 425 345.9 423 345.1 421 345.4 419 346.2 417 346 415 344.7 413 343.6 411 344.1 409 345.5 407 346.2 405 345.2 403 343.7 401 343.4 399 344.7 396.9 346 394.9 346.1 392.9 344.9 390.9 344.2 388.9 345.1 386.9 347 384.9 348.1 382.9 347.9 380.9 347.1 378.9 347.1 376.9 347.5 374.9 346.8 372.9 344.3 370.9 341 368.9 339.3 366.9 340.3 364.9 342.8 362.8 344.9 360.8 345.8 358.8 346.3 356.8 347.3 354.8 348.3 352.8 348 350.8 346.1 348.8 344.2 346.8 344.2 344.8 346.2 342.8 348.5 340.8 349 338.8 347.6 336.8 345.9 334.8 345 332.8 344.8 330.8 344 328.8 342.7 326.7 342.2 324.7 343.9 322.7 347 320.7 349.4 318.7 349.7 316.7 348.3 314.7 347.1 312.7 347 310.7 347.2 308.7 346.2 306.7 344.2 304.7 342.6 302.7 342.8 300.7 344.1 298.7 345 296.7 344.6 294.7 344.1 292.6 344.9 290.6 347 288.6 348.8 286.6 348.8 284.6 347.4 282.6 346.3 280.6 346.9 278.6 348.4 276.6 349.2Z" fill="#27256f" stroke="none"/>
<path d="M276.6 265.3L278.3 178.9 281.7 351.2 285.4 176.5 288.3 356.7 291.8 177.4 295.2 348.2 298.8 177.6 302.3 348.8 305.2 177.7 308.4 355 311.8 170.3 314.8 355 318.5 176.3 321.7 357.8 325.1 181.2 328.5 347.6 332.1 177.8 335.1 355.8 338 175.3 341.3 355.1 345 180.1 347.8 350.7 350.8 178.1 354.2 354.5 357.3 177 360.4 351.4 363.4 180.5 366.7 348.4 369.9 173.7 373.6 353.8 377 176 380.1 353.4 383.4 179.4 386.9 356.5 389.7 173.5 393 350.6 396.7 174.8 400.1 352.1 403.2 179.1 407 355.8 409.8 179.5 413.1 350.6 416.7 180.3 419.5 356.6 422.7 177.5 426.4 353.2 429.7 173.7 432.9 349.6 435.9 176.4 439 350.4 441.8 181 444.7 350.7 447.8 173 450.7 356.1 454.2 178.9 457 346.6 459.9 181 463.2 356.4 466.2 171.6 469.6 352.4 472.4 180.1 475.9 345.6 478.9 183 481.9 351.1 485.3 179.8 488.3 350 491.7 177 495.1 350.2 498.4 181.8 501.5 350.2 505.2 173.9 508.1 351.2 511.1 179.4 514.6 354.3 517.5 177.8 520.3 347.6 523.9 175.2 527.4 355.2 530.3 181.6 533.9 351.7 537.5 182.4 540.3 345.6 543.3 179.8 546.6 347.1 549.9 179.6 553.2 350.8 553.4 265.3" fill="none" stroke="#2c2a7c" stroke-width="1.8" stroke-linejoin="round" stroke-opacity="1.0"/>
<path d="M245.8 185.1L247.9 183.3 249.9 182.4 252 183.3 254 185.5 256.1 187.4 258.1 187.7 260.2 186.4 262.2 184.7 264.3 184.2 266.3 185.3 268.4 187 270.4 188.1 272.5 188 274.5 187.1 276.6 186.6 276.6 270.3 274.5 270.3 272.5 270.3 270.4 270.3 268.4 270.3 266.3 270.3 264.3 270.3 262.2 270.3 260.2 270.3 258.1 270.3 256.1 270.3 254 270.3 252 270.3 249.9 270.3 247.9 270.3 245.8 270.3Z" fill="#be1c29" stroke="none"/>
<path d="M245.8 265.3L247.6 178.3 250.5 278.6 253.8 177.8 256.7 279.1 260.1 181.8 263 279.3 265.9 176.7 269.3 278.6 272.1 182.6 275.3 279.3 276.6 265.3" fill="none" stroke="#d4202e" stroke-width="1.8" stroke-linejoin="round" stroke-opacity="1.0"/>
<path d="M276.6 185.7L278.6 187.1 280.6 189.6 282.6 190.6 284.6 189.5 286.6 187.7 288.6 187.2 290.6 188.5 292.6 190.3 294.7 191.4 296.7 191.6 298.7 191.9 300.7 192.4 302.7 192.6 304.7 191.7 306.7 190.1 308.7 189.5 310.7 190.5 312.7 192.2 314.7 192.6 316.7 191 318.7 188.7 320.7 187.9 322.7 189.4 324.7 191.8 326.7 193 328.8 192.4 330.8 191.2 332.8 191 334.8 191.8 336.8 192.3 338.8 191.8 340.8 190.8 342.8 190.3 344.8 190.8 346.8 191.1 348.8 190.1 350.8 188.2 352.8 187 354.8 187.8 356.8 189.8 358.8 191.1 360.8 190.8 362.8 189.6 364.9 189.5 366.9 190.9 368.9 192.7 370.9 193.5 372.9 192.9 374.9 192.2 376.9 192.6 378.9 193.5 380.9 193.6 382.9 192.3 384.9 190.6 386.9 190.2 388.9 191.3 390.9 192.5 392.9 192.3 394.9 190.7 396.9 189.2 399 189.3 401 190.7 403 191.9 405 191.7 407 190.8 409 190.4 411 190.9 413 191.4 415 190.9 417 189.8 419 189.5 421 190.6 423 192.3 425 192.7 427 191.4 429 189.6 431 189.5 433.1 191.4 435.1 193.8 437.1 194.7 439.1 193.6 441.1 192 443.1 191.5 445.1 192.2 447.1 192.9 449.1 192.8 451.1 192.3 453.1 192.2 455.1 192.5 457.1 192.4 459.1 191.1 461.1 189.5 463.1 189.4 465.1 191.2 467.2 193.5 469.2 194 471.2 192.2 473.2 189.6 475.2 188.6 477.2 190.1 479.2 192.5 481.2 193.5 483.2 192.6 485.2 190.9 487.2 189.9 489.2 190.1 491.2 190.7 493.2 191.2 495.2 191.9 497.2 193.1 499.2 194.4 501.2 194.5 503.3 193.2 505.3 191.5 507.3 191.6 509.3 193.8 511.3 196.5 513.3 197.1 515.3 194.7 517.3 191.2 519.3 189.2 521.3 189.8 523.3 191.8 525.3 192.9 527.3 192.2 529.3 190.7 531.3 189.7 533.3 189.5 535.3 189.8 537.4 190.4 539.4 191.5 541.4 193.3 543.4 195 545.4 195.1 547.4 193.2 549.4 190.8 551.4 190.3 553.4 192.4 553.4 339.9 551.4 340.6 549.4 340 547.4 338.6 545.4 337.1 543.4 336.5 541.4 336.9 539.4 337.6 537.4 337.7 535.3 337 533.3 335.7 531.3 334.7 529.3 334.7 527.3 335.6 525.3 337 523.3 337.9 521.3 337.9 519.3 337.3 517.3 336.7 515.3 336.9 513.3 338.1 511.3 339.6 509.3 340.5 507.3 340.2 505.3 338.9 503.3 337.5 501.2 337.2 499.2 338.1 497.2 339.5 495.2 340 493.2 338.9 491.2 336.8 489.2 335.3 487.2 335.5 485.2 337.1 483.2 338.8 481.2 339.1 479.2 337.7 477.2 335.8 475.2 335.2 473.2 336.4 471.2 338.7 469.2 340.1 467.2 339.7 465.1 338 463.1 336.5 461.1 336.8 459.1 338.5 457.1 340.2 455.1 340.5 453.1 339.1 451.1 337.5 449.1 336.9 447.1 337.8 445.1 339.3 443.1 339.8 441.1 339.1 439.1 337.7 437.1 337.1 435.1 337.7 433.1 338.7 431 339.1 429 338.4 427 337.4 425 337.1 423 337.8 421 338.8 419 339 417 338 415 336.9 413 336.8 411 338.1 409 339.7 407 340.1 405 338.9 403 337.2 401 336.7 399 338.3 396.9 340.7 394.9 341.9 392.9 340.7 390.9 338.1 388.9 336.4 386.9 337.2 384.9 339.9 382.9 342.1 380.9 341.6 378.9 338.6 376.9 335.5 374.9 335 372.9 337.4 370.9 340.5 368.9 341.5 366.9 339.4 364.9 336 362.8 334.4 360.8 336 358.8 339.5 356.8 342.1 354.8 341.6 352.8 338.8 350.8 336.4 348.8 336.7 346.8 339.5 344.8 342.5 342.8 343.1 340.8 341 338.8 338.2 336.8 337.1 334.8 338.5 332.8 340.8 330.8 341.8 328.8 340.5 326.7 338 324.7 336.4 322.7 336.9 320.7 338.6 318.7 339.7 316.7 339.3 314.7 337.8 312.7 336.8 310.7 337.4 308.7 339 306.7 340.2 304.7 340 302.7 339 300.7 338.5 298.7 339.4 296.7 341.1 294.7 342 292.6 341.4 290.6 339.8 288.6 338.8 286.6 339.5 284.6 341.1 282.6 342.1 280.6 341.2 278.6 338.8 276.6 336.9Z" fill="#be1c29" stroke="none"/>
<path d="M276.6 265.3L279.6 183.5 283.2 353.5 286.7 178.8 290 348.4 293.4 182.1 296.9 348.3 299.8 186.4 302.7 349 305.8 185.4 308.7 345.1 312.4 187 315.9 343.3 318.8 181.6 321.6 342.4 324.6 182.6 327.5 346.5 330.7 183.6 334.4 344.9 337.5 187 340.7 348.6 344.3 181.5 347.6 344 350.6 180.4 354 350.1 356.8 183.4 360.2 343.5 363.3 185.1 366.1 343.5 368.9 184.4 372.5 345.6 376 183.8 379.3 347.8 383 187 386.4 345.4 389.4 184.7 392.7 346.4 396.1 180.3 399.2 344.1 402.7 186 405.9 345.6 409.1 179.7 411.9 344.6 414.8 185 418.3 344.8 421.4 182.3 424.2 345.7 427.1 186.9 430.6 343 433.6 186 436.4 345.8 439.3 185.5 442.7 346.1 446.2 186 449.4 342 452.4 182.1 456.1 347.8 459.5 181.9 462.3 344.3 466 183.9 469.3 345.5 472.8 181.9 476 342.3 479.2 187.7 482.8 345.4 485.9 184.6 489.6 344.3 493 184.1 496.3 348.5 499.5 187.5 502.6 342.8 505.7 185.7 509.3 348.1 512.4 190.5 515.5 340.9 519.2 183.7 522 342.3 525.7 188.9 529.2 339.3 532.3 183.1 535.3 342.8 538.8 187.3 542.3 341.9 545.2 191.4 548.6 343.2 551.9 183.7 553.4 265.3" fill="none" stroke="#d4202e" stroke-width="1.8" stroke-linejoin="round" stroke-opacity="1.0"/>
<path d="M245.8 199.7L247.9 200.6 249.9 202.2 252 203.5 254 203.8 256.1 202.8 258.1 201.4 260.2 200.6 262.2 200.9 264.3 202.4 266.3 204 268.4 204.8 270.4 204.4 272.5 203.1 274.5 201.9 276.6 201.7 276.6 270.3 274.5 270.3 272.5 270.3 270.4 270.3 268.4 270.3 266.3 270.3 264.3 270.3 262.2 270.3 260.2 270.3 258.1 270.3 256.1 270.3 254 270.3 252 270.3 249.9 270.3 247.9 270.3 245.8 270.3Z" fill="#356d36" stroke="none"/>
<path d="M245.8 265.3L248.7 196.3 252.1 277.2 255.2 199.7 258.4 276.6 261.5 197 264.1 276.8 266.8 196.7 269.9 277.2 273.3 195.9 276.4 276.9 276.6 265.3" fill="none" stroke="#3b7a3c" stroke-width="1.8" stroke-linejoin="round" stroke-opacity="1.0"/>
<path d="M276.6 205.3L278.6 207.2 280.6 208.1 282.6 207.4 284.6 205.9 286.6 204.8 288.6 204.5 290.6 204.7 292.6 204.6 294.7 204.1 296.7 203.6 298.7 204 300.7 205 302.7 205.7 304.7 205.4 306.7 204.1 308.7 203.1 310.7 203.5 312.7 205.5 314.7 207.7 316.7 208.5 318.7 207.5 320.7 205.4 322.7 203.7 324.7 203.4 326.7 204.2 328.8 205.2 330.8 205.7 332.8 206.1 334.8 206.7 336.8 207.5 338.8 207.9 340.8 207.1 342.8 205.3 344.8 203.8 346.8 203.7 348.8 205.3 350.8 207.5 352.8 208.5 354.8 207.6 356.8 205.6 358.8 204.1 360.8 204 362.8 205.2 364.9 206.4 366.9 206.8 368.9 206.5 370.9 205.9 372.9 205.6 374.9 205.2 376.9 204.2 378.9 202.7 380.9 201.7 382.9 202.3 384.9 204.5 386.9 207.2 388.9 208.6 390.9 208 392.9 206.1 394.9 204.4 396.9 204.3 399 205.5 401 207 403 207.7 405 207.5 407 207.1 409 207.2 411 207.4 413 207.2 415 206.3 417 205.4 419 205.4 421 206.4 423 207.8 425 208 427 206.5 429 203.9 431 202 433.1 202 435.1 203.6 437.1 205.5 439.1 206.6 441.1 206.5 443.1 206 445.1 205.9 447.1 206.2 449.1 206.3 451.1 205.8 453.1 204.9 455.1 204.7 457.1 205.7 459.1 207.2 461.1 208 463.1 207.5 465.1 206 467.2 205 469.2 205.3 471.2 206.9 473.2 208.3 475.2 208.4 477.2 207.2 479.2 205.7 481.2 205 483.2 205.4 485.2 206.1 487.2 206.3 489.2 205.9 491.2 205.7 493.2 206.4 495.2 207.5 497.2 208.2 499.2 207.6 501.2 206 503.3 204.7 505.3 204.6 507.3 205.5 509.3 206.4 511.3 206.2 513.3 205 515.3 203.8 517.3 203.8 519.3 205.1 521.3 206.8 523.3 207.5 525.3 207 527.3 206.1 529.3 205.8 531.3 206.2 533.3 206.9 535.3 206.9 537.4 206.4 539.4 206.1 541.4 206.8 543.4 208.2 545.4 209.4 547.4 209.2 549.4 207.8 551.4 206.3 553.4 205.8 553.4 322.4 551.4 322.3 549.4 324.1 547.4 326.2 545.4 325.9 543.4 323.9 541.4 322.9 539.4 324 537.4 324.9 535.3 324.1 533.3 322.9 531.3 323 529.3 323.7 527.3 323.3 525.3 322.3 523.3 322.9 521.3 325.3 519.3 326.6 517.3 325.1 515.3 322.6 513.3 321.7 511.3 322.3 509.3 322.5 507.3 322.1 505.3 322.6 503.3 324.5 501.2 325.6 499.2 324.6 497.2 323.4 495.2 324.1 493.2 325.9 491.2 326 489.2 323.9 487.2 322.1 485.2 322.3 483.2 323.1 481.2 323.1 479.2 323.2 477.2 324.8 475.2 326.7 473.2 326.3 471.2 323.8 469.2 322.1 467.2 322.7 465.1 324.1 463.1 323.9 461.1 322.8 459.1 322.8 457.1 323.9 455.1 324.2 453.1 323.3 451.1 323.4 449.1 325.2 447.1 326.4 445.1 325.2 443.1 322.8 441.1 322.1 439.1 323.6 437.1 324.9 435.1 324.7 433.1 324.3 431 325 429 325.3 427 323.9 425 322.1 423 322.4 421 324.6 419 325.7 417 324.6 415 323.2 413 323.5 411 324.6 409 324.6 407 323.6 405 323.7 403 324.7 401 324.5 399 322.7 396.9 321.7 394.9 323.5 392.9 326.3 390.9 327.1 388.9 325.9 386.9 324.8 384.9 324.8 382.9 324.5 380.9 323 378.9 322.2 376.9 323.4 374.9 325.2 372.9 325 370.9 323.4 368.9 323.1 366.9 324.9 364.9 326.4 362.8 325.8 360.8 324.1 358.8 323.5 356.8 323.5 354.8 322.6 352.8 321.5 350.8 322.3 348.8 325.1 346.8 327.1 344.8 326.4 342.8 324.7 340.8 324.4 338.8 325.4 336.8 325.5 334.8 324.4 332.8 323.9 330.8 324.7 328.8 325.1 326.7 323.9 324.7 322.9 322.7 324.1 320.7 326.5 318.7 327 316.7 325 314.7 323.2 312.7 323.2 310.7 323.7 308.7 323.4 306.7 323 304.7 324.1 302.7 325.8 300.7 325.6 298.7 323.6 296.7 322.5 294.7 323.9 292.6 325.8 290.6 325.8 288.6 324.7 286.6 324.5 284.6 325.5 282.6 325.8 280.6 324.9 278.6 324.8 276.6 326.2Z" fill="#356d36" stroke="none"/>
<path d="M276.6 265.3L278.8 203.8 281.9 330.9 285.4 199.9 288.9 328.3 291.9 197.4 295.1 328.3 298.1 197.1 301.7 334.1 304.5 197.8 308 328.6 311.2 198.5 314.4 327 317.3 205 320.6 335 324.1 198.5 327.7 331.9 331.2 199.2 334.2 327.5 337.2 200.9 340.4 328 343.4 198.8 346.9 332.2 350.1 202.3 353.6 327.6 356.9 201 360 327.8 363.7 198.2 366.8 330.9 370.4 201.4 373.2 328.2 376.2 198.3 379.1 325.8 382.6 195.4 385.8 329.3 389.3 204.8 393 332 396.7 200.4 399.6 330.5 402.8 201.2 405.8 330.3 409 204.1 412.1 328.8 415.4 198.9 418.9 330.2 421.7 203.9 425 326.6 428.1 202.2 431.1 330.1 434.2 199.4 437.2 329.5 440 199.8 443.2 328.3 446.7 200.8 449.8 330.7 453.4 198.1 456.8 329.9 460.1 202.4 463.7 332.7 467 199.3 469.8 327.3 473.5 204.9 476.4 332 479.9 201 482.7 327 486.3 199.9 489.1 329.8 492 198.7 494.8 329.6 497.6 201.5 500.5 330.4 503.9 201 507.1 326.9 510.4 199.3 514.1 328.1 517.1 198.6 520.4 330.8 523.5 204 527 330.2 530 199.4 533 326.1 536.7 200.5 540.2 329.6 543.2 203 546.3 334.9 549.3 204.1 553 329 553.4 265.3" fill="none" stroke="#3b7a3c" stroke-width="1.8" stroke-linejoin="round" stroke-opacity="1.0"/>
<path d="M245.8 214L247.9 213.1 249.9 211.9 252 211.4 254 211.9 256.1 213.2 258.1 214.5 260.2 214.8 262.2 214.2 264.3 213 266.3 212.2 268.4 212.3 270.4 213.4 272.5 214.6 274.5 215.4 276.6 215.1 276.6 270.3 274.5 270.3 272.5 270.3 270.4 270.3 268.4 270.3 266.3 270.3 264.3 270.3 262.2 270.3 260.2 270.3 258.1 270.3 256.1 270.3 254 270.3 252 270.3 249.9 270.3 247.9 270.3 245.8 270.3Z" fill="#2e329c" stroke="none"/>
<path d="M245.8 265.3L248.3 208 250.9 275.6 254.2 206 256.8 275.2 260 210.5 263.3 275.8 266.3 206.9 269.4 275.6 272.3 209.6 274.9 275.8 276.6 265.3" fill="none" stroke="#3438ae" stroke-width="1.8" stroke-linejoin="round" stroke-opacity="1.0"/>
<path d="M276.6 217.8L278.6 218.7 280.6 218.1 282.6 216.1 284.6 214.1 286.6 213.4 288.6 214 290.6 215.2 292.6 215.7 294.7 215.2 296.7 214.2 298.7 213.7 300.7 214 302.7 214.6 304.7 215 306.7 215.1 308.7 215.4 310.7 216.3 312.7 217.3 314.7 217.8 316.7 217.4 318.7 216.4 320.7 215.6 322.7 215.4 324.7 215.4 326.7 215 328.8 213.8 330.8 212.8 332.8 213 334.8 214.7 336.8 216.8 338.8 218.2 340.8 217.8 342.8 216.2 344.8 214.7 346.8 214.2 348.8 214.6 350.8 215.2 352.8 215.3 354.8 215.2 356.8 215.3 358.8 215.7 360.8 216.1 362.8 216 364.9 215.4 366.9 214.9 368.9 215.1 370.9 216 372.9 216.7 374.9 216.6 376.9 215.8 378.9 215.2 380.9 215.4 382.9 216.3 384.9 216.8 386.9 216.1 388.9 214.5 390.9 213.2 392.9 213.2 394.9 214.6 396.9 216.4 399 217.4 401 217.2 403 216.3 405 215.5 407 215.1 409 214.9 411 214.5 413 214.3 415 214.8 417 216 419 217.3 421 217.9 423 217.4 425 216.4 427 215.8 429 216 431 216.4 433.1 216 435.1 214.8 437.1 213.4 439.1 213 441.1 214 443.1 215.6 445.1 216.6 447.1 216.4 449.1 215.4 451.1 214.8 453.1 215 455.1 216.1 457.1 217.1 459.1 217.6 461.1 217.7 463.1 217.6 465.1 217.4 467.2 216.8 469.2 215.5 471.2 213.8 473.2 212.9 475.2 213.2 477.2 214.6 479.2 216 481.2 216.5 483.2 216.1 485.2 215.8 487.2 216.2 489.2 217.2 491.2 217.7 493.2 217.1 495.2 215.5 497.2 214.1 499.2 213.8 501.2 214.8 503.3 216.2 505.3 216.9 507.3 216.8 509.3 216.3 511.3 216 513.3 216 515.3 215.8 517.3 215.5 519.3 215.3 521.3 215.8 523.3 216.8 525.3 217.7 527.3 217.5 529.3 216.2 531.3 214.5 533.3 213.8 535.3 214.3 537.4 215.5 539.4 216.2 541.4 216 543.4 215.4 545.4 215.4 547.4 216.3 549.4 217.4 551.4 217.8 553.4 217.1 553.4 315.8 551.4 315 549.4 314.4 547.4 314.2 545.4 314.4 543.4 314.7 541.4 314.9 539.4 314.5 537.4 313.7 535.3 312.9 533.3 312.5 531.3 312.9 529.3 313.6 527.3 314.3 525.3 314.4 523.3 314.1 521.3 313.9 519.3 313.9 517.3 313.9 515.3 313.6 513.3 312.9 511.3 312.5 509.3 312.9 507.3 314.4 505.3 316 503.3 316.4 501.2 315.4 499.2 313.6 497.2 312.6 495.2 313.2 493.2 314.9 491.2 316.2 489.2 316.1 487.2 314.6 485.2 313.1 483.2 312.8 481.2 313.9 479.2 315.3 477.2 316 475.2 315.6 473.2 315 471.2 315 469.2 315.7 467.2 316 465.1 315.2 463.1 313.4 461.1 311.7 459.1 311.4 457.1 312.7 455.1 314.4 453.1 315.1 451.1 314.2 449.1 312.6 447.1 311.9 445.1 312.6 443.1 314.4 441.1 316 439.1 316.3 437.1 315.5 435.1 314.4 433.1 313.8 431 313.9 429 314.2 427 314.4 425 314.5 423 314.7 421 315.3 419 315.8 417 315.9 415 315.4 413 314.6 411 314 409 313.9 407 314.3 405 314.9 403 315.2 401 315.1 399 314.7 396.9 314.1 394.9 313.6 392.9 313.5 390.9 314.1 388.9 315.1 386.9 315.9 384.9 315.8 382.9 314.5 380.9 312.8 378.9 311.7 376.9 311.8 374.9 312.9 372.9 314.1 370.9 314.6 368.9 314.4 366.9 314.1 364.9 314.4 362.8 315.3 360.8 316.1 358.8 316.1 356.8 315.4 354.8 314.9 352.8 315.2 350.8 316.2 348.8 316.6 346.8 315.8 344.8 313.9 342.8 312.3 340.8 312.5 338.8 314.3 336.8 316.5 334.8 317.3 332.8 316.2 330.8 314.2 328.8 312.9 326.7 313.1 324.7 314.3 322.7 315.3 320.7 315 318.7 314.1 316.7 313.4 314.7 313.7 312.7 314.5 310.7 315 308.7 314.5 306.7 313.7 304.7 313.4 302.7 314.1 300.7 315.4 298.7 316.1 296.7 315.4 294.7 313.8 292.6 312.5 290.6 312.6 288.6 314 286.6 315.9 284.6 317.1 282.6 317.1 280.6 316.5 278.6 315.8 276.6 315.4Z" fill="#2e329c" stroke="none"/>
<path d="M276.6 265.3L279.2 214.8 282.4 322.3 285.3 211.2 288.3 317.6 291.4 210.5 294.9 316.4 298.2 208.4 301.3 320.2 304.1 209.8 307.6 318.7 311.3 211.2 314.5 316.2 317.9 211.3 321 317.6 324.3 209.3 327.9 317.9 331.2 206.6 333.9 320.9 337.7 213.8 341.1 315 344.2 212.2 347.4 321.8 351.1 212 354.1 317.4 357.7 211.9 361 319.6 363.8 212 367.4 319.4 370.7 210.2 373.6 316.6 377.1 209.5 380.1 316.5 383.4 213.6 386.7 319.5 389.8 211 392.8 316.7 396.2 212.1 399.8 321.1 403.5 212.7 406.3 319.3 410 211.8 413.3 317.2 416.1 209.6 419.4 321.5 422.2 213.5 425.6 317.3 429 212.3 432.4 317.7 435.4 210.9 438.5 321.6 441.5 211.8 444.9 318.6 447.8 211.8 451.1 320.2 454.1 212.2 457.4 316.3 461.1 214.2 464.3 318.7 468 213.8 470.9 320.1 474.4 209.4 478.1 321.8 481.4 213.9 485.1 315.6 487.9 210.8 490.7 320.2 493.9 212 496.8 317.7 500.3 210.7 503.3 320.5 506.1 212.6 509.5 318.6 512.5 212.8 515.5 319.5 518.7 210.7 522.3 319.6 526 214.8 529.7 316.9 532.6 208.3 535.8 315.8 538.7 213.2 542.1 320.3 545 210.6 547.8 319.8 551.3 213.8 553.4 265.3" fill="none" stroke="#3438ae" stroke-width="1.8" stroke-linejoin="round" stroke-opacity="1.0"/>
<path d="M245.8 230.7L247.9 231.3 249.9 232 252 232.5 254 232.5 256.1 232 258.1 231.4 260.2 231 262.2 231 264.3 231.5 266.3 232.1 268.4 232.5 270.4 232.7 272.5 232.4 274.5 232 276.6 231.6 276.6 270.3 274.5 270.3 272.5 270.3 270.4 270.3 268.4 270.3 266.3 270.3 264.3 270.3 262.2 270.3 260.2 270.3 258.1 270.3 256.1 270.3 254 270.3 252 270.3 249.9 270.3 247.9 270.3 245.8 270.3Z" fill="#615f2d" stroke="none"/>
<path d="M245.8 265.3L248.3 227.7 251 272.9 253.6 229 256.6 273.3 259.4 228.3 262.7 273.2 266 228.1 269.4 272.9 272.5 230.7 275.6 273.2 276.6 265.3" fill="none" stroke="#6c6a33" stroke-width="1.8" stroke-linejoin="round" stroke-opacity="1.0"/>
<path d="M276.6 232.3L278.6 232.4 280.6 232.5 282.6 232.7 284.6 232.8 286.6 232.9 288.6 232.9 290.6 232.9 292.6 232.8 294.7 232.7 296.7 232.5 298.7 232.4 300.7 232.3 302.7 232.4 304.7 232.4 306.7 232.6 308.7 232.7 310.7 232.9 312.7 233.1 314.7 233.1 316.7 233.1 318.7 233 320.7 232.8 322.7 232.6 324.7 232.4 326.7 232.2 328.8 232 330.8 232 332.8 232.1 334.8 232.3 336.8 232.6 338.8 232.9 340.8 233.2 342.8 233.4 344.8 233.5 346.8 233.5 348.8 233.4 350.8 233.1 352.8 232.8 354.8 232.5 356.8 232.1 358.8 231.9 360.8 231.8 362.8 231.8 364.9 231.9 366.9 232.2 368.9 232.5 370.9 232.9 372.9 233.2 374.9 233.4 376.9 233.6 378.9 233.6 380.9 233.4 382.9 233.2 384.9 232.9 386.9 232.6 388.9 232.4 390.9 232.2 392.9 232.1 394.9 232.1 396.9 232.2 399 232.3 401 232.5 403 232.7 405 232.9 407 233 409 233 411 233 413 233 415 232.9 417 232.9 419 232.9 421 232.8 423 232.8 425 232.8 427 232.9 429 232.8 431 232.8 433.1 232.7 435.1 232.6 437.1 232.5 439.1 232.3 441.1 232.2 443.1 232.2 445.1 232.3 447.1 232.4 449.1 232.6 451.1 232.9 453.1 233.1 455.1 233.4 457.1 233.6 459.1 233.6 461.1 233.6 463.1 233.4 465.1 233.1 467.2 232.7 469.2 232.4 471.2 232 473.2 231.8 475.2 231.7 477.2 231.7 479.2 231.9 481.2 232.3 483.2 232.7 485.2 233.1 487.2 233.5 489.2 233.8 491.2 233.9 493.2 233.9 495.2 233.7 497.2 233.4 499.2 233 501.2 232.6 503.3 232.2 505.3 232 507.3 231.8 509.3 231.8 511.3 232 513.3 232.2 515.3 232.5 517.3 232.8 519.3 233.1 521.3 233.3 523.3 233.5 525.3 233.5 527.3 233.4 529.3 233.2 531.3 233.1 533.3 232.9 535.3 232.7 537.4 232.6 539.4 232.5 541.4 232.5 543.4 232.6 545.4 232.6 547.4 232.7 549.4 232.7 551.4 232.7 553.4 232.7 553.4 297.3 551.4 297.1 549.4 296.9 547.4 296.7 545.4 296.6 543.4 296.6 541.4 296.6 539.4 296.7 537.4 296.8 535.3 297 533.3 297.3 531.3 297.5 529.3 297.7 527.3 297.9 525.3 298.1 523.3 298.2 521.3 298.2 519.3 298.2 517.3 298.2 515.3 298.1 513.3 297.9 511.3 297.8 509.3 297.6 507.3 297.5 505.3 297.4 503.3 297.3 501.2 297.2 499.2 297.2 497.2 297.2 495.2 297.1 493.2 297.2 491.2 297.2 489.2 297.2 487.2 297.2 485.2 297.2 483.2 297.2 481.2 297.2 479.2 297.2 477.2 297.2 475.2 297.3 473.2 297.4 471.2 297.5 469.2 297.6 467.2 297.7 465.1 297.9 463.1 298 461.1 298.1 459.1 298.2 457.1 298.3 455.1 298.3 453.1 298.3 451.1 298.2 449.1 298 447.1 297.8 445.1 297.6 443.1 297.3 441.1 297 439.1 296.8 437.1 296.6 435.1 296.5 433.1 296.4 431 296.5 429 296.6 427 296.7 425 297 423 297.3 421 297.6 419 297.9 417 298.1 415 298.4 413 298.5 411 298.6 409 298.6 407 298.6 405 298.4 403 298.2 401 298 399 297.8 396.9 297.5 394.9 297.3 392.9 297.1 390.9 296.9 388.9 296.8 386.9 296.8 384.9 296.8 382.9 296.9 380.9 297 378.9 297.1 376.9 297.2 374.9 297.4 372.9 297.5 370.9 297.6 368.9 297.7 366.9 297.7 364.9 297.8 362.8 297.8 360.8 297.9 358.8 297.9 356.8 297.9 354.8 297.9 352.8 297.9 350.8 298 348.8 298 346.8 298 344.8 298 342.8 298 340.8 297.9 338.8 297.8 336.8 297.7 334.8 297.6 332.8 297.4 330.8 297.2 328.8 297.1 326.7 297 324.7 296.9 322.7 296.8 320.7 296.8 318.7 296.9 316.7 297 314.7 297.2 312.7 297.4 310.7 297.6 308.7 297.9 306.7 298.1 304.7 298.3 302.7 298.5 300.7 298.5 298.7 298.6 296.7 298.5 294.7 298.4 292.6 298.2 290.6 298 288.6 297.8 286.6 297.5 284.6 297.3 282.6 297.1 280.6 296.9 278.6 296.9 276.6 296.8Z" fill="#615f2d" stroke="none"/>
<path d="M276.6 265.3L277.1 228.6 279.9 299.5 283.4 229 286.6 299.2 289.9 229.7 292.7 300.7 295.6 228.9 299.2 301.6 302.3 228.6 305.7 301.7 308.8 229.1 312.2 300.4 315.3 229.3 318.3 299.6 321.9 229.9 324.9 299.9 328.4 229.7 331.5 300.7 335.1 229 338.2 301.7 341.2 230.1 344.1 299.7 347.1 231.7 350 301.5 353.1 228.9 356.6 301.9 360.3 228.6 363.4 300.3 366.4 228.9 369.9 300.3 373.1 229.6 376.3 300.3 379.7 230.6 382.7 298.7 386.4 228.8 389.7 299.7 392.6 228.1 395.7 299.4 398.5 229.4 401.9 301.2 405.1 229.8 408.3 302 411.8 230 415.2 301.3 418.2 230.4 421.7 300.8 425.4 228.8 429.1 299.6 432 231.1 435.4 299.5 438.6 228.9 442 300 445.3 230.4 448.8 300.6 452 231 455.1 300.3 458 230.4 461.3 303.4 464.1 229.3 467.3 300.9 470.2 229.7 473.8 299.2 477 228.7 480.4 299.6 483.7 230.5 487.3 298.9 490.6 231.6 493.6 299.8 496.9 231.2 500.1 300.7 503.1 228.2 506.2 299.6 509.4 228.5 513 300.2 516.2 230.1 519.5 301.2 523.1 228.7 525.9 299.8 529 231.6 532.2 301.3 535 231 538.2 300.6 541.8 229.5 545.2 298.7 548.5 230.8 551.7 299.1 553.4 265.3" fill="none" stroke="#6c6a33" stroke-width="1.8" stroke-linejoin="round" stroke-opacity="1.0"/>
<path d="M245.8 245.6L247.9 245.5 249.9 245.1 252 244.8 254 244.6 256.1 244.8 258.1 245.1 260.2 245.5 262.2 245.8 264.3 245.7 266.3 245.4 268.4 245 270.4 244.7 272.5 244.7 274.5 245 276.6 245.5 276.6 270.3 274.5 270.3 272.5 270.3 270.4 270.3 268.4 270.3 266.3 270.3 264.3 270.3 262.2 270.3 260.2 270.3 258.1 270.3 256.1 270.3 254 270.3 252 270.3 249.9 270.3 247.9 270.3 245.8 270.3Z" fill="#ce1720" stroke="none"/>
<path d="M245.8 265.3L246.6 243.7 249.3 271 252 243 255.1 271 258.3 243.2 261.5 271.3 264.4 243.3 267.3 271.1 270.1 243.6 273.2 271 275.8 244.2 276.6 265.3" fill="none" stroke="#e51a24" stroke-width="1.8" stroke-linejoin="round" stroke-opacity="1.0"/>
<path d="M276.6 244.8L278.6 244.9 280.6 245 282.6 245.2 284.6 245.3 286.6 245.5 288.6 245.6 290.6 245.7 292.6 245.8 294.7 245.8 296.7 245.7 298.7 245.7 300.7 245.7 302.7 245.7 304.7 245.7 306.7 245.8 308.7 245.9 310.7 246 312.7 246 314.7 246 316.7 246 318.7 245.9 320.7 245.8 322.7 245.6 324.7 245.4 326.7 245.2 328.8 245 330.8 244.9 332.8 244.9 334.8 245 336.8 245 338.8 245.1 340.8 245.3 342.8 245.4 344.8 245.4 346.8 245.4 348.8 245.4 350.8 245.4 352.8 245.4 354.8 245.4 356.8 245.5 358.8 245.5 360.8 245.7 362.8 245.8 364.9 246 366.9 246.1 368.9 246.2 370.9 246.2 372.9 246.2 374.9 246.1 376.9 245.9 378.9 245.7 380.9 245.6 382.9 245.4 384.9 245.3 386.9 245.2 388.9 245.2 390.9 245.2 392.9 245.2 394.9 245.3 396.9 245.3 399 245.3 401 245.3 403 245.3 405 245.2 407 245.1 409 245.1 411 245.1 413 245.2 415 245.3 417 245.5 419 245.7 421 245.9 423 246 425 246.1 427 246.2 429 246.2 431 246.1 433.1 246 435.1 245.8 437.1 245.7 439.1 245.6 441.1 245.5 443.1 245.5 445.1 245.5 447.1 245.5 449.1 245.6 451.1 245.5 453.1 245.5 455.1 245.4 457.1 245.3 459.1 245.2 461.1 245.1 463.1 245 465.1 244.9 467.2 245 469.2 245 471.2 245.2 473.2 245.4 475.2 245.5 477.2 245.7 479.2 245.9 481.2 245.9 483.2 246 485.2 246 487.2 245.9 489.2 245.8 491.2 245.8 493.2 245.7 495.2 245.7 497.2 245.7 499.2 245.8 501.2 245.8 503.3 245.9 505.3 245.9 507.3 245.8 509.3 245.7 511.3 245.6 513.3 245.4 515.3 245.3 517.3 245.1 519.3 245 521.3 245 523.3 245 525.3 245 527.3 245.2 529.3 245.3 531.3 245.4 533.3 245.6 535.3 245.7 537.4 245.7 539.4 245.7 541.4 245.7 543.4 245.6 545.4 245.6 547.4 245.6 549.4 245.6 551.4 245.7 553.4 245.8 553.4 284.6 551.4 284.5 549.4 284.4 547.4 284.4 545.4 284.4 543.4 284.5 541.4 284.6 539.4 284.7 537.4 284.9 535.3 285 533.3 285.2 531.3 285.3 529.3 285.4 527.3 285.5 525.3 285.5 523.3 285.4 521.3 285.3 519.3 285.1 517.3 284.9 515.3 284.7 513.3 284.5 511.3 284.4 509.3 284.3 507.3 284.2 505.3 284.2 503.3 284.3 501.2 284.4 499.2 284.6 497.2 284.7 495.2 284.9 493.2 285.1 491.2 285.2 489.2 285.2 487.2 285.3 485.2 285.2 483.2 285.2 481.2 285.1 479.2 284.9 477.2 284.8 475.2 284.7 473.2 284.6 471.2 284.6 469.2 284.6 467.2 284.6 465.1 284.7 463.1 284.8 461.1 284.9 459.1 285.1 457.1 285.2 455.1 285.2 453.1 285.3 451.1 285.3 449.1 285.2 447.1 285.1 445.1 285 443.1 284.8 441.1 284.7 439.1 284.5 437.1 284.4 435.1 284.3 433.1 284.3 431 284.3 429 284.4 427 284.5 425 284.6 423 284.8 421 285 419 285.1 417 285.2 415 285.3 413 285.3 411 285.3 409 285.3 407 285.2 405 285.1 403 285 401 284.9 399 284.8 396.9 284.7 394.9 284.7 392.9 284.7 390.9 284.7 388.9 284.7 386.9 284.7 384.9 284.8 382.9 284.8 380.9 284.8 378.9 284.8 376.9 284.8 374.9 284.8 372.9 284.8 370.9 284.8 368.9 284.8 366.9 284.8 364.9 284.8 362.8 284.8 360.8 284.8 358.8 284.8 356.8 284.8 354.8 284.9 352.8 284.9 350.8 285 348.8 285 346.8 285 344.8 285 342.8 285 340.8 285 338.8 285 336.8 285 334.8 285 332.8 285 330.8 284.9 328.8 284.9 326.7 284.9 324.7 284.9 322.7 284.9 320.7 284.9 318.7 284.8 316.7 284.8 314.7 284.8 312.7 284.7 310.7 284.7 308.7 284.6 306.7 284.6 304.7 284.6 302.7 284.6 300.7 284.6 298.7 284.7 296.7 284.7 294.7 284.8 292.6 285 290.6 285.1 288.6 285.2 286.6 285.3 284.6 285.3 282.6 285.3 280.6 285.3 278.6 285.3 276.6 285.2Z" fill="#ce1720" stroke="none"/>
<path d="M276.6 265.3L277.2 243.4 280.4 286.5 284.2 243.4 287.5 287.3 291 244.4 293.8 286 296.8 244 300.5 286.2 304.2 244.1 307.4 286.7 311.1 244 314.3 286.2 317.8 245 321.1 286 324.1 243.8 327.5 286.5 330.6 242.7 333.5 286.7 336.6 242.6 340 286.2 342.9 244 346.6 287.4 349.3 243.4 352.1 287.2 355.7 243.3 358.9 286.9 362.2 244.4 365.5 286.6 368.9 244.4 372 287 375.6 243.6 379.2 286.8 382.2 244.3 385.2 286.6 388.5 243.5 391.6 286.6 394.7 243.8 397.8 286.7 401.3 243.1 405.1 286.8 408.5 243.6 411.6 287.2 414.7 244.3 418 288.3 421.7 243.8 424.5 287.2 428.1 244.3 431.7 285.5 434.6 244.3 438.1 285.8 441 243.7 444.4 286.9 448 243.5 451.7 286.5 455 243.6 458.4 286.1 461.6 243.7 465 286.9 468 243.3 471.1 286.6 474 244.4 477.4 286.4 480.8 244 484.4 286.7 487.4 243.5 490.4 287.3 493.5 244.2 496.6 286 499.5 243.6 502.9 285.9 506.6 243.8 510.2 286.6 513.6 244.3 516.6 287.4 519.5 243.4 523.1 287.9 526 243.1 529.7 287.1 532.8 243.1 535.8 286.8 539.5 244.6 543 286.1 546.4 244.3 549.4 285.6 552.3 244.7 553.4 265.3" fill="none" stroke="#e51a24" stroke-width="1.8" stroke-linejoin="round" stroke-opacity="1.0"/>
<path d="M836.4 76.4H867.2V326.1H836.4Z" fill="#b4dfbb"/>
<path d="M836.4 74.7H839.4V326.1H836.4ZM840.8 71.7H844V326.1H840.8ZM845.5 75.2H848.7V326.1H845.5ZM850.1 72.4H853.3V326.1H850.1ZM854.8 73.4H858V326.1H854.8ZM859.4 75.3H862.6V326.1H859.4ZM864.1 72.6H867.2V326.1H864.1Z" fill="#5ab868"/>
<path d="M836.4 83.7H867.2V326.1H836.4Z" fill="#a6afe2"/>
<path d="M836.4 80.4H839.4V326.1H836.4ZM840.9 82.5H844.1V326.1H840.9ZM845.5 82.4H848.7V326.1H845.5ZM850.2 80.4H853.4V326.1H850.2ZM854.8 78.1H858V326.1H854.8ZM859.5 82.2H862.7V326.1H859.5ZM864.1 81.6H867.2V326.1H864.1Z" fill="#3a4ec0"/>
<path d="M836.4 95.5H867.2V326.1H836.4Z" fill="#bcbba3"/>
<path d="M836.4 89.5H839.3V326.1H836.4ZM840.7 91.6H843.9V326.1H840.7ZM845.4 92.6H848.6V326.1H845.4ZM850 89.4H853.2V326.1H850ZM854.7 94.5H857.9V326.1H854.7ZM859.3 90H862.5V326.1H859.3ZM864 93.2H867.2V326.1H864Z" fill="#6c6a33"/>
<path d="M836.4 103.4H867.2V326.1H836.4Z" fill="#9dcdca"/>
<path d="M836.4 102.1H839.4V326.1H836.4ZM840.9 101H844.1V326.1H840.9ZM845.5 98.3H848.7V326.1H845.5ZM850.2 101.7H853.4V326.1H850.2ZM854.8 99.6H858V326.1H854.8ZM859.5 99.3H862.7V326.1H859.5ZM864.1 100.7H867.2V326.1H864.1Z" fill="#26908a"/>
<path d="M836.4 116.2H867.2V326.1H836.4Z" fill="#bda0d2"/>
<path d="M836.4 115.2H839.3V326.1H836.4ZM840.7 115.2H843.9V326.1H840.7ZM845.4 114.5H848.6V326.1H845.4ZM850 112.1H853.2V326.1H850ZM854.7 113.4H857.9V326.1H854.7ZM859.3 113.9H862.5V326.1H859.3ZM864 112.6H867.2V326.1H864Z" fill="#6e2c9c"/>
<path d="M836.4 129.9H867.2V326.1H836.4Z" fill="#e29aa8"/>
<path d="M836.4 127.9H839.3V326.1H836.4ZM840.8 125.6H844V326.1H840.8ZM845.4 126.1H848.6V326.1H845.4ZM850.1 128.2H853.3V326.1H850.1ZM854.7 126.6H857.9V326.1H854.7ZM859.4 126.9H862.6V326.1H859.4ZM864 125.2H867.2V326.1H864Z" fill="#c0203e"/>
<path d="M836.4 143.3H867.2V326.1H836.4Z" fill="#a09fc4"/>
<path d="M836.4 141.5H839.2V326.1H836.4ZM840.7 138.5H843.9V326.1H840.7ZM845.3 142.3H848.5V326.1H845.3ZM850 141H853.2V326.1H850ZM854.6 139.5H857.8V326.1H854.6ZM859.3 142.1H862.5V326.1H859.3ZM863.9 140.6H867.1V326.1H863.9Z" fill="#2c2a7c"/>
<path d="M836.4 153.6H867.2V326.1H836.4Z" fill="#eb9aa0"/>
<path d="M836.4 150.3H839.4V326.1H836.4ZM840.9 149.9H844.1V326.1H840.9ZM845.5 150.7H848.7V326.1H845.5ZM850.2 149.4H853.4V326.1H850.2ZM854.8 151.8H858V326.1H854.8ZM859.5 150.2H862.7V326.1H859.5ZM864.1 150.6H867.2V326.1H864.1Z" fill="#d4202e"/>
<path d="M836.4 168.4H867.2V326.1H836.4Z" fill="#bcbba3"/>
<path d="M836.4 166.2H839.3V326.1H836.4ZM840.7 164.7H843.9V326.1H840.7ZM845.4 164.3H848.6V326.1H845.4ZM850 166.1H853.2V326.1H850ZM854.7 165.4H857.9V326.1H854.7ZM859.3 167.7H862.5V326.1H859.3ZM864 165.2H867.2V326.1H864Z" fill="#6c6a33"/>
<path d="M836.4 186.1H867.2V326.1H836.4Z" fill="#a6afe2"/>
<path d="M836.4 182.3H839.3V326.1H836.4ZM840.7 182.9H843.9V326.1H840.7ZM845.4 184.7H848.6V326.1H845.4ZM850 184.4H853.2V326.1H850ZM854.7 183.4H857.9V326.1H854.7ZM859.3 185.6H862.5V326.1H859.3ZM864 184.1H867.2V326.1H864Z" fill="#3a4ec0"/>
<path d="M836.4 201.9H867.2V326.1H836.4Z" fill="#9dcdca"/>
<path d="M836.4 201.1H839.4V326.1H836.4ZM840.8 201.3H844V326.1H840.8ZM845.5 199.2H848.7V326.1H845.5ZM850.1 201.1H853.3V326.1H850.1ZM854.8 200.7H858V326.1H854.8ZM859.4 200.3H862.6V326.1H859.4ZM864.1 198.9H867.2V326.1H864.1Z" fill="#26908a"/>
<path d="M836.4 216.6H867.2V326.1H836.4Z" fill="#bda0d2"/>
<path d="M836.4 215.1H839.4V326.1H836.4ZM840.9 214.9H844.1V326.1H840.9ZM845.5 214H848.7V326.1H845.5ZM850.2 214.2H853.4V326.1H850.2ZM854.8 214.1H858V326.1H854.8ZM859.5 215.6H862.7V326.1H859.5ZM864.1 215.2H867.2V326.1H864.1Z" fill="#6e2c9c"/>
<path d="M836.4 233.4H867.2V326.1H836.4Z" fill="#cf97a6"/>
<path d="M836.4 231.2H839.3V326.1H836.4ZM840.8 231H844V326.1H840.8ZM845.4 232.8H848.6V326.1H845.4ZM850.1 232.7H853.3V326.1H850.1ZM854.7 232.6H857.9V326.1H854.7ZM859.4 232.6H862.6V326.1H859.4ZM864 232H867.2V326.1H864Z" fill="#951a3a"/>
<path d="M836.4 246.2H867.2V326.1H836.4Z" fill="#a09fc4"/>
<path d="M836.4 245.4H839.3V326.1H836.4ZM840.7 245.9H843.9V326.1H840.7ZM845.4 245.2H848.6V326.1H845.4ZM850 245.2H853.2V326.1H850ZM854.7 244.9H857.9V326.1H854.7ZM859.3 244.1H862.5V326.1H859.3ZM864 244.6H867.2V326.1H864Z" fill="#2c2a7c"/>
<path d="M836.4 259H867.2V326.1H836.4Z" fill="#eb9aa0"/>
<path d="M836.4 257.8H839.3V326.1H836.4ZM840.7 257.7H843.9V326.1H840.7ZM845.4 258.7H848.6V326.1H845.4ZM850 257.4H853.2V326.1H850ZM854.7 257.6H857.9V326.1H854.7ZM859.3 257.4H862.5V326.1H859.3ZM864 257.5H867.2V326.1H864Z" fill="#d4202e"/>
<path d="M836.4 270.8H867.2V326.1H836.4Z" fill="#a6c3a7"/>
<path d="M836.4 270.1H839.3V326.1H836.4ZM840.8 270.5H844V326.1H840.8ZM845.4 269.8H848.6V326.1H845.4ZM850.1 270.6H853.3V326.1H850.1ZM854.7 270.6H857.9V326.1H854.7ZM859.4 270.4H862.6V326.1H859.4ZM864 270.4H867.2V326.1H864Z" fill="#3b7a3c"/>
<path d="M836.4 285.6H867.2V326.1H836.4Z" fill="#a3a5da"/>
<path d="M836.4 285.4H839.3V326.1H836.4ZM840.8 285.5H844V326.1H840.8ZM845.4 285.3H848.6V326.1H845.4ZM850.1 285.4H853.3V326.1H850.1ZM854.7 285.1H857.9V326.1H854.7ZM859.4 285.4H862.6V326.1H859.4ZM864 284.7H867.2V326.1H864Z" fill="#3438ae"/>
<path d="M836.4 298.4H867.2V326.1H836.4Z" fill="#bcbba3"/>
<path d="M836.4 298.2H839.3V326.1H836.4ZM840.7 298.2H843.9V326.1H840.7ZM845.4 298.1H848.6V326.1H845.4ZM850 298.1H853.2V326.1H850ZM854.7 298.2H857.9V326.1H854.7ZM859.3 297.8H862.5V326.1H859.3ZM864 297.7H867.2V326.1H864Z" fill="#6c6a33"/>
<path d="M836.4 310.2H867.2V326.1H836.4Z" fill="#f3979c"/>
<path d="M836.4 310H839.3V326.1H836.4ZM840.8 310.1H844V326.1H840.8ZM845.4 310.1H848.6V326.1H845.4ZM850.1 310.1H853.3V326.1H850.1ZM854.7 310.1H857.9V326.1H854.7ZM859.4 309.9H862.6V326.1H859.4ZM864 310.1H867.2V326.1H864Z" fill="#e51a24"/>
<path d="M836.4 323.6H838.8V329.7H836.4ZM840.8 323.6H843.4V332.5H840.8ZM845.4 323.6H848V331.2H845.4ZM850 323.6H852.7V330H850ZM854.7 323.6H857.3V331.2H854.7ZM859.3 323.6H862V329.7H859.3ZM864 323.6H866.6V331.2H864Z" fill="#6a64b0"/>
<rect x="835.2" y="70" width="4.2" height="262" fill="#2c3a92" fill-opacity="0.85"/>
<line x1="836.4" y1="127.1" x2="867.2" y2="127.1" stroke="#3a0a14" stroke-width="1.6" stroke-opacity="0.55"/>
<line x1="836.4" y1="192.2" x2="867.2" y2="192.2" stroke="#3a0a14" stroke-width="1.6" stroke-opacity="0.55"/>
<line x1="836.4" y1="257.2" x2="867.2" y2="257.2" stroke="#3a0a14" stroke-width="1.6" stroke-opacity="0.55"/>
<path d="M866.9 233.4L869.9 233.4 872.9 233.4 875.9 233.5 878.9 233.5 881.9 233.4 884.9 233.2 887.9 232.9 890.9 232.4 893.9 231.7 896.9 231 899.9 230.1 902.9 229.2 905.9 228.3 908.9 227.3 911.9 226.4 914.9 225.5 917.9 224.7 920.9 224 923.9 223.4 926.9 222.9 929.9 222.6 932.9 222.3 935.9 222.2 938.9 222.2 941.9 222.4 944.9 222.7 947.9 223.2 950.9 223.7 953.9 224.2 956.9 224.7 959.9 225.2 962.9 225.6 965.9 225.8 968.9 225.7 971.9 225.5 974.9 225.1 977.9 224.4 980.9 223.6 983.9 222.6 986.9 221.6 989.9 220.7 992.9 219.8 995.9 219 998.9 218.4 1001.9 218 1004.9 217.7 1007.9 217.6 1010.9 217.6 1013.9 217.7 1016.9 217.8 1019.9 217.9 1022.9 217.9 1025.9 217.8 1028.9 217.6 1031.9 217.3 1034.9 217.1 1037.9 216.8 1040.9 216.5 1043.9 216.4 1046.9 216.4 1049.9 216.5 1052.9 216.7 1055.9 217.2 1058.9 217.7 1061.9 218.3 1064.9 218.9 1067.9 219.5 1070.9 220 1073.9 220.5 1076.9 220.8 1079.9 221 1082.9 221.1 1085.9 221 1088.9 220.9 1091.9 220.7 1094.9 220.4 1097.9 220 1100.9 219.7 1103.9 219.3 1106.9 219 1109.9 218.6 1112.9 218.3 1115.9 217.9 1118.9 217.6 1121.9 217.3 1124.9 217.1 1127.9 216.9 1130.9 216.9 1133.9 217 1136.9 217.1 1139.9 217.4 1142.9 217.8 1143.8 217.9 1143.8 426.5 1142.9 426.5 1139.9 426.9 1136.9 427.3 1133.9 427.7 1130.9 428.3 1127.9 428.8 1124.9 429.3 1121.9 429.8 1118.9 430.1 1115.9 430.4 1112.9 430.6 1109.9 430.6 1106.9 430.6 1103.9 430.5 1100.9 430.4 1097.9 430.4 1094.9 430.3 1091.9 430.4 1088.9 430.5 1085.9 430.7 1082.9 430.9 1079.9 431.2 1076.9 431.4 1073.9 431.5 1070.9 431.5 1067.9 431.3 1064.9 431 1061.9 430.5 1058.9 429.9 1055.9 429.2 1052.9 428.5 1049.9 427.8 1046.9 427.1 1043.9 426.6 1040.9 426.3 1037.9 426.1 1034.9 426.1 1031.9 426.3 1028.9 426.6 1025.9 426.9 1022.9 427.2 1019.9 427.5 1016.9 427.8 1013.9 427.9 1010.9 427.8 1007.9 427.7 1004.9 427.5 1001.9 427.2 998.9 426.9 995.9 426.6 992.9 426.3 989.9 426.2 986.9 426.2 983.9 426.2 980.9 426.4 977.9 426.6 974.9 426.9 971.9 427.1 968.9 427.3 965.9 427.5 962.9 427.5 959.9 427.5 956.9 427.4 953.9 427.1 950.9 426.8 947.9 426.5 944.9 426.1 941.9 425.6 938.9 425.2 935.9 424.7 932.9 424.2 929.9 423.8 926.9 423.3 923.9 422.8 920.9 422.4 917.9 421.9 914.9 421.6 911.9 421.2 908.9 420.9 905.9 420.7 902.9 420.6 899.9 420.5 896.9 420.4 893.9 420.4 890.9 420.3 887.9 420.1 884.9 419.7 881.9 419.3 878.9 418.7 875.9 417.9 872.9 416.9 869.9 415.8 866.9 414.7Z" fill="#a0aae0"/>
<path d="M878.8 229.4H880.9V421H878.8ZM886.6 230.7H888.7V423.5H886.6ZM906.1 227H908.2V425H906.1ZM910 227.2H912.1V425.6H910ZM925.6 223.5H927.7V425.1H925.6ZM929.5 223.9H931.6V428.3H929.5ZM976.3 225H978.4V428.1H976.3ZM980.2 224.2H982.3V425.2H980.2ZM988 217.6H990.1V430.1H988ZM995.8 219.7H997.9V427.9H995.8ZM1023.1 214H1025.2V426.4H1023.1ZM1027 216.7H1029.1V427.1H1027ZM1030.9 217.4H1033V425.2H1030.9ZM1038.7 217.2H1040.8V429.1H1038.7ZM1046.5 211.7H1048.6V427.1H1046.5ZM1050.4 215.6H1052.5V429.7H1050.4ZM1062.1 218.9H1064.2V431.2H1062.1ZM1073.8 218.9H1075.9V431.7H1073.8ZM1101.1 217.5H1103.2V433.4H1101.1ZM1108.9 217.5H1111V429.5H1108.9ZM1112.8 215.7H1114.9V434.1H1112.8ZM1128.4 214.5H1130.5V427.2H1128.4Z" fill="#3a4ec0"/>
<path d="M882.7 232H884.8V422H882.7ZM890.5 228.6H892.6V423.4H890.5ZM898.3 227.2H900.4V421H898.3ZM913.9 226.1H916V425.5H913.9ZM933.4 223.1H935.5V427.6H933.4ZM937.3 221.1H939.4V428.9H937.3ZM941.2 218.6H943.3V424.3H941.2ZM949 223.1H951.1V428.6H949ZM956.8 221H958.9V430H956.8ZM968.5 227.1H970.6V428.5H968.5ZM972.4 223.1H974.5V430.3H972.4ZM984.1 220.5H986.2V428.1H984.1ZM991.9 219.7H994V426.5H991.9ZM1019.2 213.5H1021.3V431.6H1019.2ZM1034.8 216.6H1036.9V425.3H1034.8ZM1042.6 215.6H1044.7V426.6H1042.6ZM1077.7 221.8H1079.8V435.6H1077.7ZM1085.5 220.9H1087.6V434.9H1085.5ZM1105 218.9H1107.1V434.2H1105ZM1132.3 217H1134.4V426.9H1132.3ZM1140.1 215.1H1142.2V428.5H1140.1Z" fill="#26908a"/>
<path d="M867.1 229.4H869.2V419.1H867.1ZM921.7 219.2H923.8V425.1H921.7ZM952.9 224.9H955V431.3H952.9ZM1015.3 213.3H1017.4V430.6H1015.3ZM1069.9 218.9H1072V429.9H1069.9ZM1081.6 216.6H1083.7V430H1081.6ZM1093.3 216.7H1095.4V433.1H1093.3ZM1116.7 215.4H1118.8V430.1H1116.7ZM1120.6 213.4H1122.7V431.1H1120.6ZM1124.5 212.2H1126.6V430.3H1124.5ZM1136.2 217.1H1138.3V426.8H1136.2Z" fill="#6e2c9c"/>
<path d="M871 234.4H873.1V415.8H871ZM894.4 231.6H896.5V424.2H894.4ZM902.2 225.1H904.3V423.4H902.2ZM999.7 214.8H1001.8V431.2H999.7ZM1007.5 215.9H1009.6V430.6H1007.5ZM1054.3 213.3H1056.4V428.5H1054.3ZM1058.2 212.9H1060.3V431H1058.2ZM1066 218.6H1068.1V431.8H1066ZM1089.4 220.6H1091.5V429.7H1089.4Z" fill="#2c2a7c"/>
<path d="M874.9 233.8H877V417.6H874.9ZM917.8 222H919.9V424.3H917.8ZM945.1 222.6H947.2V426.2H945.1ZM960.7 221.5H962.8V428.6H960.7ZM964.6 226.5H966.7V426.9H964.6ZM1003.6 217.2H1005.7V432H1003.6ZM1011.4 216H1013.5V431.4H1011.4ZM1097.2 219H1099.3V432.2H1097.2Z" fill="#c0203e"/>
<path d="M866.9 240.2L869.9 239.7 872.9 239.3 875.9 238.9 878.9 238.6 881.9 238.3 884.9 238.2 887.9 238.1 890.9 238.1 893.9 238.2 896.9 238.4 899.9 238.6 902.9 238.9 905.9 239.3 908.9 239.6 911.9 239.9 914.9 240 917.9 240 920.9 239.8 923.9 239.3 926.9 238.7 929.9 237.9 932.9 236.9 935.9 235.8 938.9 234.7 941.9 233.7 944.9 232.7 947.9 232 950.9 231.5 953.9 231.2 956.9 231.2 959.9 231.4 962.9 231.7 965.9 232.2 968.9 232.7 971.9 233.2 974.9 233.7 977.9 234 980.9 234.2 983.9 234.3 986.9 234.2 989.9 234.1 992.9 233.9 995.9 233.7 998.9 233.5 1001.9 233.4 1004.9 233.3 1007.9 233.4 1010.9 233.5 1013.9 233.6 1016.9 233.8 1019.9 233.9 1022.9 234 1025.9 234 1028.9 233.9 1031.9 233.6 1034.9 233.3 1037.9 232.9 1040.9 232.3 1043.9 231.8 1046.9 231.2 1049.9 230.6 1052.9 230.1 1055.9 229.6 1058.9 229.3 1061.9 229.1 1064.9 229 1067.9 229.1 1070.9 229.3 1073.9 229.7 1076.9 230.2 1079.9 230.8 1082.9 231.5 1085.9 232.3 1088.9 233.1 1091.9 233.9 1094.9 234.6 1097.9 235.2 1100.9 235.6 1103.9 235.8 1106.9 235.7 1109.9 235.4 1112.9 234.8 1115.9 234 1118.9 233 1121.9 231.8 1124.9 230.7 1127.9 229.6 1130.9 228.6 1133.9 227.9 1136.9 227.4 1139.9 227.3 1142.9 227.5 1143.8 227.6 1143.8 416.2 1142.9 415.9 1139.9 414.8 1136.9 413.9 1133.9 413.2 1130.9 412.7 1127.9 412.4 1124.9 412.5 1121.9 412.8 1118.9 413.3 1115.9 413.9 1112.9 414.6 1109.9 415.4 1106.9 416.1 1103.9 416.7 1100.9 417.2 1097.9 417.6 1094.9 417.8 1091.9 417.8 1088.9 417.7 1085.9 417.4 1082.9 416.9 1079.9 416.4 1076.9 415.7 1073.9 415 1070.9 414.3 1067.9 413.7 1064.9 413 1061.9 412.5 1058.9 412.2 1055.9 412 1052.9 412.1 1049.9 412.4 1046.9 412.9 1043.9 413.6 1040.9 414.5 1037.9 415.5 1034.9 416.5 1031.9 417.5 1028.9 418.3 1025.9 419 1022.9 419.4 1019.9 419.5 1016.9 419.4 1013.9 418.9 1010.9 418.1 1007.9 417.1 1004.9 416 1001.9 414.8 998.9 413.7 995.9 412.6 992.9 411.8 989.9 411.1 986.9 410.7 983.9 410.5 980.9 410.6 977.9 410.8 974.9 411.2 971.9 411.7 968.9 412.2 965.9 412.7 962.9 413.1 959.9 413.5 956.9 413.8 953.9 414 950.9 414.2 947.9 414.3 944.9 414.3 941.9 414.3 938.9 414.3 935.9 414.2 932.9 414.2 929.9 414 926.9 413.8 923.9 413.6 920.9 413.2 917.9 412.8 914.9 412.4 911.9 411.9 908.9 411.4 905.9 410.9 902.9 410.4 899.9 409.9 896.9 409.5 893.9 409.1 890.9 408.8 887.9 408.5 884.9 408.2 881.9 407.9 878.9 407.6 875.9 407.2 872.9 406.9 869.9 406.5 866.9 406.1Z" fill="#96c9c6"/>
<path d="M868.8 239.9H871V409.7H868.8ZM876.6 234.9H878.8V410.5H876.6ZM884.4 237.2H886.6V407.2H884.4ZM888.3 235H890.5V411.9H888.3ZM892.2 234.4H894.4V410.9H892.2ZM923.4 240.5H925.6V413.7H923.4ZM939 231.6H941.2V416.6H939ZM974.1 230.2H976.3V413.5H974.1ZM978 231.9H980.2V409.9H978ZM981.9 234.9H984.1V411.1H981.9ZM985.8 233.5H988V411.8H985.8ZM989.7 232H991.9V413.3H989.7ZM1013.1 231H1015.3V418.7H1013.1ZM1020.9 233.2H1023.1V420.8H1020.9ZM1024.8 233.8H1027V417.8H1024.8ZM1032.6 233H1034.8V419.2H1032.6ZM1036.5 232.6H1038.7V417.4H1036.5ZM1040.4 230.9H1042.6V415.6H1040.4ZM1071.6 230.5H1073.8V413.9H1071.6ZM1095 232.5H1097.2V418.6H1095ZM1106.7 233H1108.9V419.2H1106.7ZM1110.6 231.3H1112.8V414.6H1110.6ZM1141.8 226.8H1143.8V419.8H1141.8Z" fill="#3a4ec0"/>
<path d="M896.1 238.2H898.3V410.6H896.1ZM919.5 237.7H921.7V413.2H919.5ZM931.2 238.3H933.4V414.4H931.2ZM935.1 236.6H937.3V418.2H935.1ZM942.9 230.1H945.1V416.2H942.9ZM946.8 231.6H949V418.3H946.8ZM950.7 231.2H952.9V416.2H950.7ZM958.5 229.2H960.7V416.2H958.5ZM962.4 230.4H964.6V416.6H962.4ZM966.3 231H968.5V415.6H966.3ZM970.2 234.4H972.4V414.1H970.2ZM1009.2 230.4H1011.4V421.3H1009.2ZM1017 231.6H1019.2V420.7H1017ZM1028.7 231.7H1030.9V417.1H1028.7ZM1059.9 230.5H1062.1V413.6H1059.9ZM1067.7 228.3H1069.9V417.5H1067.7ZM1075.5 228.6H1077.7V419.6H1075.5ZM1083.3 228.3H1085.5V419.7H1083.3ZM1118.4 233.8H1120.6V413.9H1118.4ZM1137.9 226.2H1140.1V414.9H1137.9Z" fill="#26908a"/>
<path d="M866.9 237.9H867.1V409.8H866.9ZM872.7 237.1H874.9V407.8H872.7ZM880.5 239.3H882.7V410.4H880.5ZM900 238.6H902.2V408.8H900ZM907.8 239.2H910V410.3H907.8ZM911.7 240.1H913.9V411.7H911.7ZM1005.3 234.4H1007.5V419.3H1005.3ZM1063.8 227.5H1066V417.1H1063.8ZM1079.4 228.9H1081.6V418.6H1079.4ZM1098.9 236.1H1101.1V417.9H1098.9ZM1102.8 236.5H1105V417.2H1102.8ZM1114.5 230.5H1116.7V414.2H1114.5ZM1126.2 226.9H1128.4V415.7H1126.2ZM1130.1 229.4H1132.3V415.9H1130.1ZM1134 225.4H1136.2V412.9H1134Z" fill="#6e2c9c"/>
<path d="M927.3 238.9H929.5V415.8H927.3ZM993.6 233.8H995.8V412.3H993.6ZM1044.3 232.3H1046.5V413.1H1044.3ZM1048.2 230.5H1050.4V413.9H1048.2ZM1056 229.8H1058.2V416H1056ZM1087.2 231.6H1089.4V421.2H1087.2ZM1091.1 235.2H1093.3V416.4H1091.1ZM1122.3 229.3H1124.5V413.2H1122.3Z" fill="#2c2a7c"/>
<path d="M903.9 235.5H906.1V414.6H903.9ZM915.6 239.4H917.8V413.9H915.6ZM954.6 232.3H956.8V417.1H954.6ZM997.5 230.5H999.7V416.3H997.5ZM1001.4 229.8H1003.6V414.2H1001.4ZM1052.1 228.8H1054.3V414.9H1052.1Z" fill="#c0203e"/>
<path d="M866.9 248.2L869.9 247.9 872.9 247.7 875.9 247.7 878.9 247.7 881.9 247.8 884.9 247.9 887.9 247.9 890.9 248 893.9 248 896.9 248 899.9 247.9 902.9 247.8 905.9 247.6 908.9 247.3 911.9 247 914.9 246.6 917.9 246.2 920.9 245.7 923.9 245.3 926.9 244.9 929.9 244.5 932.9 244.3 935.9 244.1 938.9 244.1 941.9 244.2 944.9 244.5 947.9 244.9 950.9 245.5 953.9 246.1 956.9 246.8 959.9 247.5 962.9 248 965.9 248.5 968.9 248.7 971.9 248.8 974.9 248.7 977.9 248.3 980.9 247.8 983.9 247.1 986.9 246.4 989.9 245.7 992.9 245.1 995.9 244.6 998.9 244.2 1001.9 244.1 1004.9 244.1 1007.9 244.3 1010.9 244.6 1013.9 245 1016.9 245.4 1019.9 245.8 1022.9 246.1 1025.9 246.3 1028.9 246.3 1031.9 246.2 1034.9 245.9 1037.9 245.5 1040.9 244.9 1043.9 244.4 1046.9 243.8 1049.9 243.2 1052.9 242.7 1055.9 242.3 1058.9 242 1061.9 241.9 1064.9 241.9 1067.9 242 1070.9 242.2 1073.9 242.6 1076.9 243 1079.9 243.5 1082.9 244 1085.9 244.6 1088.9 245.2 1091.9 245.7 1094.9 246.2 1097.9 246.7 1100.9 247.1 1103.9 247.3 1106.9 247.5 1109.9 247.5 1112.9 247.4 1115.9 247.2 1118.9 246.8 1121.9 246.5 1124.9 246.1 1127.9 245.7 1130.9 245.4 1133.9 245.2 1136.9 245.1 1139.9 245.2 1142.9 245.4 1143.8 245.5 1143.8 402.2 1142.9 402.1 1139.9 401.8 1136.9 401.6 1133.9 401.4 1130.9 401.3 1127.9 401.2 1124.9 401.2 1121.9 401.1 1118.9 401.1 1115.9 401 1112.9 400.8 1109.9 400.6 1106.9 400.4 1103.9 400.2 1100.9 400 1097.9 399.8 1094.9 399.7 1091.9 399.8 1088.9 400 1085.9 400.3 1082.9 400.7 1079.9 401.2 1076.9 401.8 1073.9 402.4 1070.9 403 1067.9 403.5 1064.9 403.9 1061.9 404.3 1058.9 404.5 1055.9 404.5 1052.9 404.5 1049.9 404.4 1046.9 404.2 1043.9 404 1040.9 403.7 1037.9 403.5 1034.9 403.3 1031.9 403.1 1028.9 402.9 1025.9 402.7 1022.9 402.5 1019.9 402.3 1016.9 402 1013.9 401.8 1010.9 401.6 1007.9 401.3 1004.9 401.1 1001.9 401 998.9 400.9 995.9 400.8 992.9 400.9 989.9 401 986.9 401.1 983.9 401.3 980.9 401.5 977.9 401.7 974.9 401.9 971.9 402 968.9 402 965.9 401.9 962.9 401.8 959.9 401.6 956.9 401.5 953.9 401.3 950.9 401.1 947.9 401 944.9 400.9 941.9 400.9 938.9 401 935.9 401.1 932.9 401.2 929.9 401.3 926.9 401.4 923.9 401.4 920.9 401.4 917.9 401.3 914.9 401.1 911.9 400.8 908.9 400.6 905.9 400.3 902.9 400.1 899.9 399.9 896.9 399.8 893.9 399.7 890.9 399.8 887.9 399.9 884.9 400 881.9 400.1 878.9 400.2 875.9 400.3 872.9 400.3 869.9 400.2 866.9 400Z" fill="#b999cf"/>
<path d="M867.9 244.6H870.4V400.2H867.9ZM871.8 247.8H874.3V401.4H871.8ZM910.8 246.4H913.3V401.3H910.8ZM918.6 246.5H921.1V402.6H918.6ZM922.5 242.7H925V404.3H922.5ZM934.2 241.2H936.7V404.1H934.2ZM957.6 247.7H960.1V405H957.6ZM961.5 244.8H964V404.1H961.5ZM965.4 245.8H967.9V405H965.4ZM973.2 249.3H975.7V403.4H973.2ZM984.9 244.5H987.4V400.5H984.9ZM1012.2 242.8H1014.7V402.1H1012.2ZM1016.1 245.8H1018.6V405.1H1016.1ZM1020 245.2H1022.5V402.4H1020ZM1031.7 245.6H1034.2V403.8H1031.7ZM1086.3 242.5H1088.8V399.1H1086.3ZM1094.1 245.4H1096.6V399.1H1094.1ZM1098 246.7H1100.5V400.3H1098ZM1109.7 244.9H1112.2V399.9H1109.7ZM1129.2 246.5H1131.7V400.4H1129.2ZM1140.9 246.3H1143.4V404.4H1140.9Z" fill="#3a4ec0"/>
<path d="M875.7 247H878.2V399.9H875.7ZM879.6 248.5H882.1V401.3H879.6ZM887.4 244.5H889.9V400.8H887.4ZM891.3 246.6H893.8V399.7H891.3ZM895.2 247.6H897.7V399H895.2ZM899.1 247.3H901.6V402.5H899.1ZM906.9 246.7H909.4V402.8H906.9ZM938.1 244.7H940.6V401.8H938.1ZM945.9 243.7H948.4V400.1H945.9ZM953.7 246.4H956.2V400.7H953.7ZM969.3 247.4H971.8V401H969.3ZM977.1 246.4H979.6V402H977.1ZM988.8 245.4H991.3V404.2H988.8ZM1000.5 243.9H1003V401.3H1000.5ZM1004.4 241H1006.9V402.3H1004.4ZM1039.5 245.8H1042V404.9H1039.5ZM1043.4 243.9H1045.9V406.8H1043.4ZM1062.9 242.4H1065.4V404.7H1062.9ZM1078.5 241.1H1081V404.8H1078.5ZM1105.8 247H1108.3V403.1H1105.8ZM1121.4 247.4H1123.9V401.9H1121.4Z" fill="#26908a"/>
<path d="M883.5 246.7H886V399.8H883.5ZM914.7 245.3H917.2V402.7H914.7ZM930.3 242.5H932.8V402.1H930.3ZM1047.3 242.4H1049.8V404.4H1047.3ZM1074.6 241.9H1077.1V404.2H1074.6ZM1090.2 243.4H1092.7V402.6H1090.2Z" fill="#6e2c9c"/>
<path d="M903 244.7H905.5V402.5H903ZM926.4 244.7H928.9V401.4H926.4ZM949.8 244.2H952.3V402.1H949.8ZM981 245.7H983.5V402.8H981ZM996.6 245.5H999.1V402.2H996.6ZM1008.3 243H1010.8V400.4H1008.3ZM1023.9 245.5H1026.4V403.2H1023.9ZM1027.8 247.4H1030.3V403.3H1027.8ZM1055.1 242.6H1057.6V404.4H1055.1ZM1066.8 243.1H1069.3V405.2H1066.8ZM1070.7 243.3H1073.2V401.9H1070.7ZM1101.9 245.8H1104.4V402.5H1101.9ZM1113.6 246.2H1116.1V401.5H1113.6ZM1117.5 247.1H1120V401.6H1117.5ZM1125.3 244.1H1127.8V401.9H1125.3Z" fill="#2c2a7c"/>
<path d="M942 241.2H944.5V402H942ZM992.7 244.2H995.2V400.7H992.7ZM1035.6 243H1038.1V405.8H1035.6ZM1051.2 243.5H1053.7V406.3H1051.2ZM1059 238.7H1061.5V403.4H1059ZM1082.4 243.8H1084.9V400.3H1082.4ZM1133.1 245.2H1135.6V403.8H1133.1ZM1137 244.7H1139.5V401.8H1137Z" fill="#c0203e"/>
<path d="M866.9 256.4L869.9 256.9 872.9 257.5 875.9 258 878.9 258.5 881.9 258.8 884.9 259.1 887.9 259.2 890.9 259.3 893.9 259.2 896.9 259.1 899.9 258.9 902.9 258.7 905.9 258.4 908.9 258.2 911.9 258 914.9 257.9 917.9 257.7 920.9 257.6 923.9 257.6 926.9 257.5 929.9 257.5 932.9 257.5 935.9 257.6 938.9 257.6 941.9 257.7 944.9 257.8 947.9 257.8 950.9 257.9 953.9 257.9 956.9 257.9 959.9 257.8 962.9 257.6 965.9 257.3 968.9 256.9 971.9 256.4 974.9 255.8 977.9 255.2 980.9 254.5 983.9 253.8 986.9 253.3 989.9 252.9 992.9 252.6 995.9 252.5 998.9 252.7 1001.9 253.1 1004.9 253.7 1007.9 254.4 1010.9 255.3 1013.9 256.3 1016.9 257.3 1019.9 258.3 1022.9 259.2 1025.9 260 1028.9 260.7 1031.9 261.2 1034.9 261.6 1037.9 261.9 1040.9 262.1 1043.9 262.2 1046.9 262.2 1049.9 262.2 1052.9 262.2 1055.9 262.1 1058.9 261.9 1061.9 261.8 1064.9 261.5 1067.9 261.2 1070.9 260.8 1073.9 260.4 1076.9 259.8 1079.9 259.3 1082.9 258.6 1085.9 258 1088.9 257.3 1091.9 256.7 1094.9 256.2 1097.9 255.7 1100.9 255.2 1103.9 254.9 1106.9 254.6 1109.9 254.5 1112.9 254.3 1115.9 254.3 1118.9 254.3 1121.9 254.4 1124.9 254.6 1127.9 254.8 1130.9 255.1 1133.9 255.5 1136.9 255.9 1139.9 256.4 1142.9 257 1143.8 257.2 1143.8 386.4 1142.9 386.4 1139.9 386.6 1136.9 386.9 1133.9 387.4 1130.9 387.9 1127.9 388.5 1124.9 389.2 1121.9 390 1118.9 390.7 1115.9 391.3 1112.9 391.8 1109.9 392.2 1106.9 392.5 1103.9 392.6 1100.9 392.6 1097.9 392.3 1094.9 392 1091.9 391.5 1088.9 391 1085.9 390.4 1082.9 389.7 1079.9 389.1 1076.9 388.4 1073.9 387.7 1070.9 387.1 1067.9 386.6 1064.9 386.1 1061.9 385.6 1058.9 385.3 1055.9 385.1 1052.9 385.1 1049.9 385.2 1046.9 385.4 1043.9 385.8 1040.9 386.4 1037.9 387 1034.9 387.8 1031.9 388.6 1028.9 389.4 1025.9 390.2 1022.9 390.9 1019.9 391.5 1016.9 391.9 1013.9 392.3 1010.9 392.5 1007.9 392.7 1004.9 392.7 1001.9 392.7 998.9 392.6 995.9 392.5 992.9 392.3 989.9 392.2 986.9 392.1 983.9 391.9 980.9 391.7 977.9 391.3 974.9 391 971.9 390.5 968.9 389.9 965.9 389.2 962.9 388.4 959.9 387.6 956.9 386.8 953.9 386 950.9 385.4 947.9 384.9 944.9 384.7 941.9 384.6 938.9 384.8 935.9 385.2 932.9 385.9 929.9 386.7 926.9 387.7 923.9 388.8 920.9 389.9 917.9 391 914.9 392.1 911.9 393 908.9 393.9 905.9 394.6 902.9 395.2 899.9 395.6 896.9 395.8 893.9 395.8 890.9 395.6 887.9 395.3 884.9 394.8 881.9 394.1 878.9 393.3 875.9 392.3 872.9 391.3 869.9 390.3 866.9 389.3Z" fill="#6b69a3"/>
<path d="M867.7 255.5H870.8V391.5H867.7ZM871.6 256.2H874.7V392.6H871.6ZM875.5 257.4H878.6V393.5H875.5ZM879.4 257.9H882.5V395.3H879.4ZM883.3 258.6H886.4V395.4H883.3ZM887.2 257.9H890.3V396.1H887.2ZM891.1 258.8H894.2V396.1H891.1ZM895 258H898.1V396.6H895ZM898.9 257.2H902V397.2H898.9ZM902.8 256.9H905.9V395.7H902.8ZM906.7 257.8H909.8V394.6H906.7ZM910.6 257H913.7V394.3H910.6ZM914.5 256.9H917.6V392.3H914.5ZM918.4 256.8H921.5V391.4H918.4ZM922.3 256.3H925.4V390.1H922.3ZM926.2 256H929.3V388.6H926.2ZM930.1 257H933.2V387.6H930.1ZM934 256.8H937.1V386.3H934ZM937.9 256.8H941V386H937.9ZM941.8 257.1H944.9V385.2H941.8ZM945.7 257.2H948.8V385.4H945.7ZM949.6 256.4H952.7V386.5H949.6ZM953.5 257.2H956.6V387.1H953.5ZM957.4 256.2H960.5V388.3H957.4ZM961.3 257H964.4V389.8H961.3ZM965.2 256H968.3V391H965.2ZM969.1 256.2H972.2V391.2H969.1ZM973 254.4H976.1V392.4H973ZM976.9 253.4H980V391.8H976.9ZM980.8 253.4H983.9V392.3H980.8ZM984.7 252.8H987.8V393.7H984.7ZM988.6 251.6H991.7V393.9H988.6ZM992.5 251.6H995.6V394H992.5ZM996.4 251.6H999.5V393.3H996.4ZM1000.3 251.6H1003.4V394.3H1000.3ZM1004.2 253.4H1007.3V393.9H1004.2ZM1008.1 253.7H1011.2V393.3H1008.1ZM1012 255.4H1015.1V392.9H1012ZM1015.9 256.9H1019V392.6H1015.9ZM1019.8 257.6H1022.9V392.4H1019.8ZM1023.7 259.3H1026.8V390.7H1023.7ZM1027.6 260H1030.7V390.6H1027.6ZM1031.5 260.9H1034.6V389H1031.5ZM1035.4 261.3H1038.5V388.6H1035.4ZM1039.3 261.1H1042.4V386.8H1039.3ZM1043.2 261.8H1046.3V386.5H1043.2ZM1047.1 261.2H1050.2V386.4H1047.1ZM1051 261.7H1054.1V385.6H1051ZM1054.9 260.9H1058V386H1054.9ZM1058.8 261.2H1061.9V386.2H1058.8ZM1062.7 260.1H1065.8V386.7H1062.7ZM1066.6 260.1H1069.7V387.4H1066.6ZM1070.5 259.8H1073.6V388.8H1070.5ZM1074.4 258.4H1077.5V389H1074.4ZM1078.3 258.7H1081.4V390.4H1078.3ZM1082.2 257.8H1085.3V390.3H1082.2ZM1086.1 256.1H1089.2V391.7H1086.1ZM1090 255.3H1093.1V392.4H1090ZM1093.9 254.5H1097V393.1H1093.9ZM1097.8 254.9H1100.9V392.8H1097.8ZM1101.7 253.8H1104.8V393.9H1101.7ZM1105.6 253H1108.7V393H1105.6ZM1109.5 253.2H1112.6V393H1109.5ZM1113.4 253.2H1116.5V392H1113.4ZM1117.3 253.6H1120.4V391.7H1117.3ZM1121.2 252.8H1124.3V390.2H1121.2ZM1125.1 253.7H1128.2V390.2H1125.1ZM1129 253.4H1132.1V388.6H1129ZM1132.9 255H1136V388.8H1132.9ZM1136.8 254.5H1139.9V387.7H1136.8ZM1140.7 256.5H1143.8V387.9H1140.7Z" fill="#2c2a7c"/>
<path d="M866.9 262.1L869.9 262 872.9 262 875.9 262 878.9 261.9 881.9 261.9 884.9 261.8 887.9 261.7 890.9 261.6 893.9 261.6 896.9 261.6 899.9 261.6 902.9 261.7 905.9 261.8 908.9 262 911.9 262.3 914.9 262.6 917.9 263 920.9 263.4 923.9 263.7 926.9 264.1 929.9 264.4 932.9 264.7 935.9 264.9 938.9 265.1 941.9 265.2 944.9 265.3 947.9 265.4 950.9 265.5 953.9 265.4 956.9 265.4 959.9 265.3 962.9 265.1 965.9 264.8 968.9 264.5 971.9 264.1 974.9 263.7 977.9 263.2 980.9 262.7 983.9 262.3 986.9 261.9 989.9 261.6 992.9 261.4 995.9 261.3 998.9 261.3 1001.9 261.5 1004.9 261.7 1007.9 262 1010.9 262.3 1013.9 262.6 1016.9 262.9 1019.9 263.1 1022.9 263.1 1025.9 263.1 1028.9 263 1031.9 262.8 1034.9 262.6 1037.9 262.4 1040.9 262.2 1043.9 262.1 1046.9 262.1 1049.9 262.2 1052.9 262.5 1055.9 262.9 1058.9 263.5 1061.9 264.1 1064.9 264.8 1067.9 265.5 1070.9 266.2 1073.9 266.8 1076.9 267.4 1079.9 267.8 1082.9 268.1 1085.9 268.2 1088.9 268.2 1091.9 268.1 1094.9 267.8 1097.9 267.4 1100.9 266.8 1103.9 266.2 1106.9 265.5 1109.9 264.7 1112.9 263.9 1115.9 263.1 1118.9 262.3 1121.9 261.5 1124.9 260.9 1127.9 260.4 1130.9 260.1 1133.9 259.9 1136.9 259.9 1139.9 260.2 1142.9 260.6 1143.8 260.8 1143.8 384.1 1142.9 383.8 1139.9 382.7 1136.9 381.7 1133.9 380.8 1130.9 380.1 1127.9 379.6 1124.9 379.3 1121.9 379.2 1118.9 379.3 1115.9 379.6 1112.9 380.1 1109.9 380.6 1106.9 381.3 1103.9 382 1100.9 382.6 1097.9 383.2 1094.9 383.8 1091.9 384.2 1088.9 384.6 1085.9 384.8 1082.9 384.8 1079.9 384.8 1076.9 384.6 1073.9 384.3 1070.9 383.8 1067.9 383.3 1064.9 382.8 1061.9 382.3 1058.9 381.8 1055.9 381.4 1052.9 381.1 1049.9 380.9 1046.9 380.9 1043.9 381.1 1040.9 381.5 1037.9 382 1034.9 382.6 1031.9 383.2 1028.9 383.9 1025.9 384.5 1022.9 385 1019.9 385.4 1016.9 385.7 1013.9 385.8 1010.9 385.7 1007.9 385.5 1004.9 385.2 1001.9 384.9 998.9 384.5 995.9 384.2 992.9 383.9 989.9 383.7 986.9 383.6 983.9 383.6 980.9 383.7 977.9 383.9 974.9 384.1 971.9 384.3 968.9 384.5 965.9 384.7 962.9 384.7 959.9 384.7 956.9 384.6 953.9 384.4 950.9 384.2 947.9 383.9 944.9 383.5 941.9 383.1 938.9 382.8 935.9 382.4 932.9 382 929.9 381.7 926.9 381.5 923.9 381.2 920.9 381.1 917.9 381 914.9 381 911.9 381.2 908.9 381.4 905.9 381.8 902.9 382.3 899.9 382.9 896.9 383.7 893.9 384.5 890.9 385.3 887.9 386.2 884.9 387 881.9 387.7 878.9 388.3 875.9 388.7 872.9 388.9 869.9 389 866.9 388.8Z" fill="#b45e75"/>
<path d="M867.3 261.7H870.5V390H867.3ZM871.2 260.8H874.4V389.3H871.2ZM875.1 260.6H878.3V389.1H875.1ZM879 260.8H882.2V389H879ZM882.9 260.7H886.1V387.8H882.9ZM886.8 260.9H890V387.1H886.8ZM890.7 260.8H893.9V386.1H890.7ZM894.6 260.7H897.8V384.7H894.6ZM898.5 261.2H901.7V383.9H898.5ZM902.4 260.8H905.6V382.7H902.4ZM906.3 260.7H909.5V382.7H906.3ZM910.2 261.4H913.4V381.7H910.2ZM914.1 261.8H917.3V381.4H914.1ZM918 262.7H921.2V381.8H918ZM921.9 263.3H925.1V382H921.9ZM925.8 263.2H929V381.8H925.8ZM929.7 263.5H932.9V382.3H929.7ZM933.6 263.7H936.8V383.5H933.6ZM937.5 264.2H940.7V383.1H937.5ZM941.4 264.4H944.6V384H941.4ZM945.3 264H948.5V384.2H945.3ZM949.2 264.1H952.4V385.7H949.2ZM953.1 264.3H956.3V385.8H953.1ZM957 264.8H960.2V386.2H957ZM960.9 264.2H964.1V386.2H960.9ZM964.8 263.4H968V385.2H964.8ZM968.7 263.1H971.9V385.9H968.7ZM972.6 263.4H975.8V384.9H972.6ZM976.5 262H979.7V384.4H976.5ZM980.4 261.2H983.6V384.3H980.4ZM984.3 260.7H987.5V384.1H984.3ZM988.2 260.6H991.4V385.1H988.2ZM992.1 260.8H995.3V384.6H992.1ZM996 260.3H999.2V385H996ZM999.9 261.1H1003.1V385.4H999.9ZM1003.8 261.2H1007V386.8H1003.8ZM1007.7 261H1010.9V387.1H1007.7ZM1011.6 262H1014.8V387.1H1011.6ZM1015.5 262.4H1018.7V386.7H1015.5ZM1019.4 262H1022.6V386.1H1019.4ZM1023.3 261.8H1026.5V385.7H1023.3ZM1027.2 262H1030.4V385.3H1027.2ZM1031.1 262.3H1034.3V384.6H1031.1ZM1035 261.4H1038.2V383H1035ZM1038.9 260.9H1042.1V382.2H1038.9ZM1042.8 260.5H1046V382.1H1042.8ZM1046.7 261.4H1049.9V382.1H1046.7ZM1050.6 261.6H1053.8V381.5H1050.6ZM1054.5 261.7H1057.7V381.7H1054.5ZM1058.4 262.4H1061.6V382.6H1058.4ZM1062.3 263.5H1065.5V384.1H1062.3ZM1066.2 264.5H1069.4V384.4H1066.2ZM1070.1 265.7H1073.3V384.3H1070.1ZM1074 266.8H1077.2V384.9H1074ZM1077.9 266.8H1081.1V385.6H1077.9ZM1081.8 267.3H1085V386.3H1081.8ZM1085.7 267.8H1088.9V385.3H1085.7ZM1089.6 267.1H1092.8V384.7H1089.6ZM1093.5 267.5H1096.7V384.5H1093.5ZM1097.4 266.8H1100.6V383.7H1097.4ZM1101.3 265.9H1104.5V383.2H1101.3ZM1105.2 264.5H1108.4V381.8H1105.2ZM1109.1 263.4H1112.3V381.3H1109.1ZM1113 263H1116.2V381.2H1113ZM1116.9 261.8H1120.1V379.8H1116.9ZM1120.8 261H1124V380.2H1120.8ZM1124.7 259.2H1127.9V380.6H1124.7ZM1128.6 259.3H1131.8V380.6H1128.6ZM1132.5 259.6H1135.7V381.9H1132.5ZM1136.4 259H1139.6V382.8H1136.4ZM1140.3 259.3H1143.5V384.2H1140.3Z" fill="#951a3a"/>
<path d="M866.9 269.6L869.9 269.7 872.9 269.8 875.9 269.9 878.9 269.9 881.9 269.9 884.9 269.8 887.9 269.7 890.9 269.5 893.9 269.2 896.9 268.9 899.9 268.7 902.9 268.4 905.9 268.1 908.9 267.9 911.9 267.8 914.9 267.7 917.9 267.7 920.9 267.7 923.9 267.7 926.9 267.8 929.9 268 932.9 268.2 935.9 268.4 938.9 268.6 941.9 268.9 944.9 269.2 947.9 269.5 950.9 269.9 953.9 270.1 956.9 270.4 959.9 270.6 962.9 270.7 965.9 270.7 968.9 270.6 971.9 270.4 974.9 270 977.9 269.7 980.9 269.2 983.9 268.8 986.9 268.4 989.9 268 992.9 267.7 995.9 267.6 998.9 267.6 1001.9 267.7 1004.9 267.9 1007.9 268.3 1010.9 268.7 1013.9 269.1 1016.9 269.6 1019.9 270 1022.9 270.4 1025.9 270.6 1028.9 270.8 1031.9 270.9 1034.9 270.9 1037.9 270.9 1040.9 270.8 1043.9 270.7 1046.9 270.6 1049.9 270.5 1052.9 270.5 1055.9 270.5 1058.9 270.5 1061.9 270.5 1064.9 270.5 1067.9 270.5 1070.9 270.4 1073.9 270.3 1076.9 270.2 1079.9 270.1 1082.9 269.9 1085.9 269.7 1088.9 269.4 1091.9 269.2 1094.9 269 1097.9 268.9 1100.9 268.8 1103.9 268.7 1106.9 268.6 1109.9 268.6 1112.9 268.6 1115.9 268.7 1118.9 268.8 1121.9 268.9 1124.9 269 1127.9 269.2 1130.9 269.5 1133.9 269.8 1136.9 270.1 1139.9 270.5 1142.9 270.9 1143.8 271 1143.8 377.3 1142.9 377.2 1139.9 377 1136.9 376.9 1133.9 376.7 1130.9 376.7 1127.9 376.7 1124.9 376.8 1121.9 376.9 1118.9 377.1 1115.9 377.2 1112.9 377.4 1109.9 377.5 1106.9 377.6 1103.9 377.6 1100.9 377.6 1097.9 377.6 1094.9 377.5 1091.9 377.4 1088.9 377.4 1085.9 377.3 1082.9 377.3 1079.9 377.3 1076.9 377.3 1073.9 377.3 1070.9 377.3 1067.9 377.3 1064.9 377.3 1061.9 377.3 1058.9 377.2 1055.9 377.2 1052.9 377.2 1049.9 377.2 1046.9 377.3 1043.9 377.3 1040.9 377.4 1037.9 377.4 1034.9 377.5 1031.9 377.5 1028.9 377.5 1025.9 377.5 1022.9 377.4 1019.9 377.2 1016.9 377 1013.9 376.7 1010.9 376.5 1007.9 376.2 1004.9 376 1001.9 375.8 998.9 375.8 995.9 375.8 992.9 376 989.9 376.3 986.9 376.7 983.9 377.2 980.9 377.7 977.9 378.2 974.9 378.7 971.9 379.1 968.9 379.5 965.9 379.7 962.9 379.8 959.9 379.8 956.9 379.8 953.9 379.6 950.9 379.4 947.9 379.2 944.9 379 941.9 378.8 938.9 378.7 935.9 378.6 932.9 378.5 929.9 378.5 926.9 378.6 923.9 378.6 920.9 378.6 917.9 378.6 914.9 378.5 911.9 378.4 908.9 378.3 905.9 378.2 902.9 378 899.9 377.8 896.9 377.6 893.9 377.4 890.9 377.2 887.9 377 884.9 376.9 881.9 376.7 878.9 376.6 875.9 376.5 872.9 376.5 869.9 376.5 866.9 376.5Z" fill="#e0626c"/>
<path d="M867.6 269.2H870.8V377.1H867.6ZM871.5 269.2H874.7V376.8H871.5ZM875.4 268.7H878.6V377.7H875.4ZM879.3 268.9H882.5V377H879.3ZM883.2 268.6H886.4V377.9H883.2ZM887.1 268.8H890.3V378.1H887.1ZM891 268.6H894.2V377.8H891ZM894.9 268.6H898.1V378.1H894.9ZM898.8 268.3H902V378.5H898.8ZM902.7 267.1H905.9V379.1H902.7ZM906.6 266.8H909.8V379.3H906.6ZM910.5 267.2H913.7V379.3H910.5ZM914.4 266.9H917.6V379.7H914.4ZM918.3 266.8H921.5V379.2H918.3ZM922.2 266.7H925.4V379.9H922.2ZM926.1 267.3H929.3V379.8H926.1ZM930 267.8H933.2V379.1H930ZM933.9 267.8H937.1V379.7H933.9ZM937.8 267.4H941V379.8H937.8ZM941.7 268.4H944.9V380.1H941.7ZM945.6 268.8H948.8V379.7H945.6ZM949.5 268.6H952.7V380.4H949.5ZM953.4 269.2H956.6V380.7H953.4ZM957.3 269.2H960.5V380.6H957.3ZM961.2 269.5H964.4V380.9H961.2ZM965.1 269.5H968.3V380.4H965.1ZM969 269.4H972.2V380.2H969ZM972.9 269.5H976.1V379.3H972.9ZM976.8 268.6H980V378.5H976.8ZM980.7 267.7H983.9V377.9H980.7ZM984.6 268.1H987.8V377.2H984.6ZM988.5 266.6H991.7V376.9H988.5ZM992.4 267.2H995.6V376.2H992.4ZM996.3 267.2H999.5V376.8H996.3ZM1000.2 266.7H1003.4V376.8H1000.2ZM1004.1 266.9H1007.3V376.4H1004.1ZM1008 267.5H1011.2V377H1008ZM1011.9 267.9H1015.1V377.9H1011.9ZM1015.8 268.4H1019V377.4H1015.8ZM1019.7 269H1022.9V378.6H1019.7ZM1023.6 269.3H1026.8V377.9H1023.6ZM1027.5 270.3H1030.7V377.9H1027.5ZM1031.4 270.6H1034.6V378.7H1031.4ZM1035.3 269.8H1038.5V378.4H1035.3ZM1039.2 269.7H1042.4V378.3H1039.2ZM1043.1 270.1H1046.3V377.7H1043.1ZM1047 270.2H1050.2V378.4H1047ZM1050.9 270H1054.1V377.9H1050.9ZM1054.8 269.7H1058V377.5H1054.8ZM1058.7 269.9H1061.9V377.8H1058.7ZM1062.6 269.4H1065.8V377.9H1062.6ZM1066.5 269.8H1069.7V378.6H1066.5ZM1070.4 269.6H1073.6V378.5H1070.4ZM1074.3 269.3H1077.5V377.6H1074.3ZM1078.2 269.3H1081.4V378H1078.2ZM1082.1 268.7H1085.3V378H1082.1ZM1086 268.5H1089.2V378.2H1086ZM1089.9 268.7H1093.1V378.7H1089.9ZM1093.8 268.6H1097V378.7H1093.8ZM1097.7 268.4H1100.9V377.9H1097.7ZM1101.6 268.2H1104.8V378.7H1101.6ZM1105.5 267.3H1108.7V377.8H1105.5ZM1109.4 267.8H1112.6V378.3H1109.4ZM1113.3 267.5H1116.5V377.7H1113.3ZM1117.2 267.9H1120.4V377.7H1117.2ZM1121.1 267.7H1124.3V377.4H1121.1ZM1125 267.8H1128.2V377.3H1125ZM1128.9 268.9H1132.1V377.7H1128.9ZM1132.8 269H1136V377.1H1132.8ZM1136.7 269.3H1139.9V377.3H1136.7ZM1140.6 269.7H1143.8V378.2H1140.6Z" fill="#d4202e"/>
<path d="M866.9 279.2L869.9 279.2 872.9 279.3 875.9 279.3 878.9 279.3 881.9 279.2 884.9 279.1 887.9 279 890.9 278.8 893.9 278.5 896.9 278.3 899.9 278 902.9 277.8 905.9 277.7 908.9 277.6 911.9 277.6 914.9 277.7 917.9 277.9 920.9 278.2 923.9 278.6 926.9 279 929.9 279.4 932.9 279.8 935.9 280.3 938.9 280.7 941.9 281 944.9 281.3 947.9 281.6 950.9 281.7 953.9 281.8 956.9 281.7 959.9 281.6 962.9 281.3 965.9 281 968.9 280.6 971.9 280.1 974.9 279.6 977.9 279.1 980.9 278.7 983.9 278.4 986.9 278.2 989.9 278.1 992.9 278.1 995.9 278.4 998.9 278.8 1001.9 279.3 1004.9 279.9 1007.9 280.5 1010.9 281.1 1013.9 281.7 1016.9 282.2 1019.9 282.6 1022.9 282.8 1025.9 282.8 1028.9 282.6 1031.9 282.3 1034.9 281.8 1037.9 281.3 1040.9 280.7 1043.9 280 1046.9 279.5 1049.9 279 1052.9 278.6 1055.9 278.3 1058.9 278.1 1061.9 278 1064.9 278.1 1067.9 278.2 1070.9 278.4 1073.9 278.6 1076.9 278.9 1079.9 279.1 1082.9 279.4 1085.9 279.6 1088.9 279.8 1091.9 280 1094.9 280.2 1097.9 280.4 1100.9 280.5 1103.9 280.7 1106.9 280.8 1109.9 281 1112.9 281.1 1115.9 281.3 1118.9 281.4 1121.9 281.6 1124.9 281.8 1127.9 282 1130.9 282.2 1133.9 282.4 1136.9 282.7 1139.9 282.9 1142.9 283.1 1143.8 283.1 1143.8 366.3 1142.9 366.3 1139.9 366.3 1136.9 366.3 1133.9 366.3 1130.9 366.4 1127.9 366.4 1124.9 366.4 1121.9 366.5 1118.9 366.5 1115.9 366.5 1112.9 366.5 1109.9 366.5 1106.9 366.5 1103.9 366.4 1100.9 366.4 1097.9 366.4 1094.9 366.4 1091.9 366.5 1088.9 366.6 1085.9 366.8 1082.9 367 1079.9 367.2 1076.9 367.5 1073.9 367.7 1070.9 367.9 1067.9 368.1 1064.9 368.2 1061.9 368.2 1058.9 368.2 1055.9 368.1 1052.9 367.9 1049.9 367.7 1046.9 367.4 1043.9 367.1 1040.9 366.7 1037.9 366.4 1034.9 366.1 1031.9 365.7 1028.9 365.4 1025.9 365.2 1022.9 365 1019.9 364.8 1016.9 364.7 1013.9 364.7 1010.9 364.7 1007.9 364.9 1004.9 365.2 1001.9 365.5 998.9 366 995.9 366.6 992.9 367.3 989.9 368 986.9 368.8 983.9 369.5 980.9 370.1 977.9 370.6 974.9 371 971.9 371.1 968.9 371.1 965.9 370.8 962.9 370.3 959.9 369.7 956.9 368.9 953.9 368 950.9 367.1 947.9 366.3 944.9 365.4 941.9 364.8 938.9 364.2 935.9 363.9 932.9 363.7 929.9 363.7 926.9 363.9 923.9 364.3 920.9 364.8 917.9 365.4 914.9 366 911.9 366.7 908.9 367.4 905.9 368.1 902.9 368.7 899.9 369.3 896.9 369.7 893.9 370.1 890.9 370.3 887.9 370.4 884.9 370.3 881.9 370.1 878.9 369.8 875.9 369.4 872.9 368.9 869.9 368.4 866.9 367.9Z" fill="#75a176"/>
<path d="M866.9 278.3H867.1V368.7H866.9ZM867.9 278.7H871V368.9H867.9ZM871.8 278.9H874.9V370H871.8ZM875.7 278.5H878.8V370.5H875.7ZM879.6 278.9H882.7V370.7H879.6ZM883.5 278.2H886.6V371.1H883.5ZM887.4 278.6H890.5V371H887.4ZM891.3 277.6H894.4V370.6H891.3ZM895.2 277.9H898.3V370.3H895.2ZM899.1 277.1H902.2V370.2H899.1ZM903 277.4H906.1V368.8H903ZM906.9 277.2H910V368H906.9ZM910.8 276.9H913.9V367H910.8ZM914.7 277.3H917.8V366.1H914.7ZM918.6 277H921.7V365.7H918.6ZM922.5 278.3H925.6V365.3H922.5ZM926.4 278.8H929.5V364.3H926.4ZM930.3 278.6H933.4V364.5H930.3ZM934.2 279.4H937.3V364.4H934.2ZM938.1 280.4H941.2V365.1H938.1ZM942 280.9H945.1V365.5H942ZM945.9 281H949V366.4H945.9ZM949.8 281.2H952.9V368.2H949.8ZM953.7 280.9H956.8V369.1H953.7ZM957.6 280.9H960.7V370.2H957.6ZM961.5 281H964.6V371.2H961.5ZM965.4 280.3H968.5V371.9H965.4ZM969.3 279.2H972.4V371.8H969.3ZM973.2 278.9H976.3V372H973.2ZM977.1 278.4H980.2V371H977.1ZM981 277.6H984.1V370.9H981ZM984.9 277.2H988V369.8H984.9ZM988.8 277.1H991.9V368.8H988.8ZM992.7 277.4H995.8V367.6H992.7ZM996.6 278.1H999.7V366.9H996.6ZM1000.5 279H1003.6V366.1H1000.5ZM1004.4 279.2H1007.5V365.9H1004.4ZM1008.3 280.2H1011.4V365.2H1008.3ZM1012.2 281.1H1015.3V365.3H1012.2ZM1016.1 281.6H1019.2V365.3H1016.1ZM1020 281.9H1023.1V365.9H1020ZM1023.9 282.4H1027V365.9H1023.9ZM1027.8 281.7H1030.9V366H1027.8ZM1031.7 281.5H1034.8V366.9H1031.7ZM1035.6 281.2H1038.7V367H1035.6ZM1039.5 280.3H1042.6V367.6H1039.5ZM1043.4 278.8H1046.5V367.8H1043.4ZM1047.3 278.8H1050.4V368.3H1047.3ZM1051.2 277.9H1054.3V368.7H1051.2ZM1055.1 277.5H1058.2V368.9H1055.1ZM1059 277.1H1062.1V368.9H1059ZM1062.9 277.5H1066V369.3H1062.9ZM1066.8 277.8H1069.9V368.9H1066.8ZM1070.7 277.9H1073.8V368.7H1070.7ZM1074.6 278.5H1077.7V368.6H1074.6ZM1078.5 278.6H1081.6V367.5H1078.5ZM1082.4 279H1085.5V367.5H1082.4ZM1086.3 279.5H1089.4V367.3H1086.3ZM1090.2 279.4H1093.3V367.3H1090.2ZM1094.1 279.7H1097.2V366.9H1094.1ZM1098 280H1101.1V367.3H1098ZM1101.9 279.6H1105V367.1H1101.9ZM1105.8 280.4H1108.9V367.4H1105.8ZM1109.7 280.5H1112.8V366.9H1109.7ZM1113.6 280.9H1116.7V367.4H1113.6ZM1117.5 280.5H1120.6V367.3H1117.5ZM1121.4 281.1H1124.5V367.2H1121.4ZM1125.3 281.5H1128.4V367.5H1125.3ZM1129.2 281.7H1132.3V367.1H1129.2ZM1133.1 281.6H1136.2V367.3H1133.1ZM1137 282.2H1140.1V366.8H1137ZM1140.9 282.4H1143.8V366.6H1140.9Z" fill="#3b7a3c"/>
<path d="M866.9 284.6L869.9 285.2 872.9 285.8 875.9 286.4 878.9 287 881.9 287.5 884.9 288 887.9 288.4 890.9 288.6 893.9 288.8 896.9 288.8 899.9 288.8 902.9 288.7 905.9 288.5 908.9 288.2 911.9 287.9 914.9 287.6 917.9 287.2 920.9 286.8 923.9 286.5 926.9 286.1 929.9 285.8 932.9 285.6 935.9 285.4 938.9 285.3 941.9 285.3 944.9 285.3 947.9 285.4 950.9 285.6 953.9 285.8 956.9 286.1 959.9 286.3 962.9 286.6 965.9 286.8 968.9 287 971.9 287.1 974.9 287.1 977.9 287 980.9 286.9 983.9 286.7 986.9 286.5 989.9 286.2 992.9 286 995.9 285.8 998.9 285.6 1001.9 285.5 1004.9 285.5 1007.9 285.5 1010.9 285.5 1013.9 285.5 1016.9 285.6 1019.9 285.7 1022.9 285.8 1025.9 285.9 1028.9 286 1031.9 286 1034.9 286.1 1037.9 286.3 1040.9 286.4 1043.9 286.6 1046.9 286.9 1049.9 287.2 1052.9 287.5 1055.9 287.9 1058.9 288.3 1061.9 288.7 1064.9 289 1067.9 289.3 1070.9 289.5 1073.9 289.7 1076.9 289.7 1079.9 289.6 1082.9 289.4 1085.9 289.1 1088.9 288.8 1091.9 288.4 1094.9 287.9 1097.9 287.4 1100.9 286.9 1103.9 286.4 1106.9 286 1109.9 285.5 1112.9 285.1 1115.9 284.8 1118.9 284.5 1121.9 284.3 1124.9 284.2 1127.9 284.1 1130.9 284.2 1133.9 284.3 1136.9 284.6 1139.9 285 1142.9 285.4 1143.8 285.5 1143.8 359.7 1142.9 359.6 1139.9 359.1 1136.9 358.6 1133.9 358.2 1130.9 357.9 1127.9 357.6 1124.9 357.4 1121.9 357.3 1118.9 357.3 1115.9 357.4 1112.9 357.5 1109.9 357.7 1106.9 357.9 1103.9 358.2 1100.9 358.5 1097.9 358.8 1094.9 359.2 1091.9 359.6 1088.9 360 1085.9 360.5 1082.9 360.9 1079.9 361.4 1076.9 361.8 1073.9 362.2 1070.9 362.5 1067.9 362.8 1064.9 363 1061.9 363.1 1058.9 363.1 1055.9 363 1052.9 362.9 1049.9 362.7 1046.9 362.5 1043.9 362.2 1040.9 361.9 1037.9 361.5 1034.9 361.1 1031.9 360.8 1028.9 360.4 1025.9 360 1022.9 359.6 1019.9 359.1 1016.9 358.7 1013.9 358.4 1010.9 358.1 1007.9 357.8 1004.9 357.6 1001.9 357.6 998.9 357.6 995.9 357.8 992.9 358.1 989.9 358.5 986.9 358.9 983.9 359.5 980.9 360 977.9 360.6 974.9 361.1 971.9 361.5 968.9 361.9 965.9 362.1 962.9 362.2 959.9 362.3 956.9 362.2 953.9 362.1 950.9 361.9 947.9 361.7 944.9 361.5 941.9 361.3 938.9 361.2 935.9 361.1 932.9 361.1 929.9 361.1 926.9 361.1 923.9 361.2 920.9 361.3 917.9 361.4 914.9 361.5 911.9 361.6 908.9 361.7 905.9 361.7 902.9 361.7 899.9 361.7 896.9 361.6 893.9 361.5 890.9 361.4 887.9 361.2 884.9 361.1 881.9 360.8 878.9 360.6 875.9 360.3 872.9 360 869.9 359.7 866.9 359.5Z" fill="#7073c6"/>
<path d="M867.2 284.1H870.3V359.9H867.2ZM871.1 284.9H874.2V360.9H871.1ZM875 285.8H878.1V360.7H875ZM878.9 286.5H882V361.4H878.9ZM882.8 287.7H885.9V361.2H882.8ZM886.7 287.5H889.8V362H886.7ZM890.6 288.4H893.7V361.7H890.6ZM894.5 288.6H897.6V362H894.5ZM898.4 288.1H901.5V362.1H898.4ZM902.3 288.3H905.4V362.6H902.3ZM906.2 287.6H909.3V362H906.2ZM910.1 287.1H913.2V362.3H910.1ZM914 286.7H917.1V362.2H914ZM917.9 286.2H921V362.2H917.9ZM921.8 285.7H924.9V361.6H921.8ZM925.7 285.4H928.8V361.7H925.7ZM929.6 285H932.7V361.6H929.6ZM933.5 284.6H936.6V361.7H933.5ZM937.4 284.9H940.5V361.6H937.4ZM941.3 285H944.4V361.9H941.3ZM945.2 285.1H948.3V362.2H945.2ZM949.1 285.3H952.2V362.5H949.1ZM953 285.3H956.1V362.7H953ZM956.9 285.4H960V362.5H956.9ZM960.8 285.7H963.9V362.8H960.8ZM964.7 286.2H967.8V362.8H964.7ZM968.6 286.2H971.7V362.2H968.6ZM972.5 286.6H975.6V362.1H972.5ZM976.4 286.8H979.5V361.2H976.4ZM980.3 286.2H983.4V360H980.3ZM984.2 285.9H987.3V359.8H984.2ZM988.1 285.3H991.2V358.9H988.1ZM992 285H995.1V358.5H992ZM995.9 285.1H999V358.5H995.9ZM999.8 285.3H1002.9V358.2H999.8ZM1003.7 284.8H1006.8V358.1H1003.7ZM1007.6 284.6H1010.7V358.3H1007.6ZM1011.5 285H1014.6V358.8H1011.5ZM1015.4 284.8H1018.5V359.1H1015.4ZM1019.3 285.2H1022.4V359.8H1019.3ZM1023.2 285.2H1026.3V360.6H1023.2ZM1027.1 285.5H1030.2V361.1H1027.1ZM1031 285.6H1034.1V361.4H1031ZM1034.9 285.8H1038V361.9H1034.9ZM1038.8 285.5H1041.9V362.5H1038.8ZM1042.7 285.9H1045.8V362.7H1042.7ZM1046.6 286.6H1049.7V363H1046.6ZM1050.5 286.8H1053.6V363.5H1050.5ZM1054.4 287.2H1057.5V363.3H1054.4ZM1058.3 287.7H1061.4V364H1058.3ZM1062.2 288.3H1065.3V363.2H1062.2ZM1066.1 288.9H1069.2V363H1066.1ZM1070 289.3H1073.1V363.4H1070ZM1073.9 289.1H1077V362.7H1073.9ZM1077.8 288.9H1080.9V362.3H1077.8ZM1081.7 288.8H1084.8V361.5H1081.7ZM1085.6 288.4H1088.7V361H1085.6ZM1089.5 287.9H1092.6V360.4H1089.5ZM1093.4 287.6H1096.5V359.8H1093.4ZM1097.3 286.8H1100.4V359.4H1097.3ZM1101.2 286.4H1104.3V358.6H1101.2ZM1105.1 285.8H1108.2V358.6H1105.1ZM1109 284.5H1112.1V358.3H1109ZM1112.9 284.5H1116V358.2H1112.9ZM1116.8 283.7H1119.9V357.9H1116.8ZM1120.7 283.9H1123.8V357.7H1120.7ZM1124.6 283.6H1127.7V357.9H1124.6ZM1128.5 283.6H1131.6V358.4H1128.5ZM1132.4 283.4H1135.5V358.4H1132.4ZM1136.3 284.1H1139.4V359H1136.3ZM1140.2 284.9H1143.3V360.2H1140.2Z" fill="#3438ae"/>
<path d="M866.9 297.6L869.9 298.1 872.9 298.5 875.9 298.9 878.9 299.3 881.9 299.5 884.9 299.7 887.9 299.7 890.9 299.7 893.9 299.6 896.9 299.4 899.9 299.2 902.9 299 905.9 298.8 908.9 298.6 911.9 298.5 914.9 298.4 917.9 298.4 920.9 298.4 923.9 298.5 926.9 298.6 929.9 298.7 932.9 298.8 935.9 298.8 938.9 298.8 941.9 298.8 944.9 298.7 947.9 298.5 950.9 298.3 953.9 298.1 956.9 297.9 959.9 297.6 962.9 297.3 965.9 297.1 968.9 296.9 971.9 296.7 974.9 296.6 977.9 296.6 980.9 296.7 983.9 296.8 986.9 297 989.9 297.2 992.9 297.5 995.9 297.9 998.9 298.2 1001.9 298.6 1004.9 298.9 1007.9 299.2 1010.9 299.4 1013.9 299.6 1016.9 299.7 1019.9 299.8 1022.9 299.8 1025.9 299.7 1028.9 299.7 1031.9 299.6 1034.9 299.5 1037.9 299.4 1040.9 299.4 1043.9 299.4 1046.9 299.4 1049.9 299.5 1052.9 299.6 1055.9 299.6 1058.9 299.7 1061.9 299.7 1064.9 299.7 1067.9 299.6 1070.9 299.4 1073.9 299.2 1076.9 298.9 1079.9 298.5 1082.9 298.2 1085.9 297.8 1088.9 297.5 1091.9 297.3 1094.9 297.1 1097.9 297 1100.9 297 1103.9 297.1 1106.9 297.3 1109.9 297.5 1112.9 297.8 1115.9 298 1118.9 298.3 1121.9 298.5 1124.9 298.7 1127.9 298.8 1130.9 298.9 1133.9 299 1136.9 299 1139.9 299 1142.9 298.9 1143.8 298.9 1143.8 348.9 1142.9 348.9 1139.9 349.1 1136.9 349.3 1133.9 349.5 1130.9 349.6 1127.9 349.6 1124.9 349.6 1121.9 349.5 1118.9 349.4 1115.9 349.1 1112.9 348.9 1109.9 348.5 1106.9 348.2 1103.9 347.8 1100.9 347.5 1097.9 347.3 1094.9 347.1 1091.9 347 1088.9 347 1085.9 347.1 1082.9 347.2 1079.9 347.5 1076.9 347.8 1073.9 348.1 1070.9 348.4 1067.9 348.6 1064.9 348.9 1061.9 349 1058.9 349.1 1055.9 349.1 1052.9 349.1 1049.9 349 1046.9 348.9 1043.9 348.8 1040.9 348.7 1037.9 348.7 1034.9 348.6 1031.9 348.6 1028.9 348.7 1025.9 348.8 1022.9 348.9 1019.9 349 1016.9 349 1013.9 349.1 1010.9 349.1 1007.9 349.1 1004.9 349 1001.9 348.9 998.9 348.8 995.9 348.7 992.9 348.5 989.9 348.4 986.9 348.2 983.9 348.1 980.9 348 977.9 348 974.9 348 971.9 348 968.9 348 965.9 348.1 962.9 348.2 959.9 348.3 956.9 348.5 953.9 348.6 950.9 348.7 947.9 348.8 944.9 348.9 941.9 349.1 938.9 349.1 935.9 349.2 932.9 349.3 929.9 349.3 926.9 349.4 923.9 349.4 920.9 349.4 917.9 349.4 914.9 349.4 911.9 349.4 908.9 349.4 905.9 349.4 902.9 349.4 899.9 349.4 896.9 349.4 893.9 349.4 890.9 349.3 887.9 349.2 884.9 349 881.9 348.8 878.9 348.6 875.9 348.3 872.9 348 869.9 347.7 866.9 347.5Z" fill="#989670"/>
<path d="M867 297.7H870.2V348.1H867ZM870.9 298.3H874.1V348.1H870.9ZM874.8 298.5H878V348.6H874.8ZM878.7 298.9H881.9V348.9H878.7ZM882.6 299.5H885.8V349.5H882.6ZM886.5 299.3H889.7V349.8H886.5ZM890.4 299.2H893.6V349.5H890.4ZM894.3 299.1H897.5V349.9H894.3ZM898.2 298.9H901.4V350.1H898.2ZM902.1 298.7H905.3V350.1H902.1ZM906 298.2H909.2V349.6H906ZM909.9 298.4H913.1V349.9H909.9ZM913.8 297.9H917V349.6H913.8ZM917.7 298.1H920.9V349.9H917.7ZM921.6 298.3H924.8V350H921.6ZM925.5 298.2H928.7V349.5H925.5ZM929.4 298.4H932.6V349.7H929.4ZM933.3 298.4H936.5V349.7H933.3ZM937.2 298.6H940.4V349.7H937.2ZM941.1 298.4H944.3V349.5H941.1ZM945 298.2H948.2V349.2H945ZM948.9 298H952.1V349.3H948.9ZM952.8 297.5H956V349.1H952.8ZM956.7 297.3H959.9V348.7H956.7ZM960.6 297.2H963.8V348.9H960.6ZM964.5 296.6H967.7V348.7H964.5ZM968.4 296.5H971.6V348.4H968.4ZM972.3 296H975.5V348.5H972.3ZM976.2 296.2H979.4V348.3H976.2ZM980.1 296.3H983.3V348.6H980.1ZM984 296.5H987.2V348.6H984ZM987.9 296.7H991.1V348.9H987.9ZM991.8 297H995V348.8H991.8ZM995.7 297.9H998.9V349H995.7ZM999.6 298.1H1002.8V349.3H999.6ZM1003.5 298.4H1006.7V349.6H1003.5ZM1007.4 299.2H1010.6V349.7H1007.4ZM1011.3 299.1H1014.5V349.7H1011.3ZM1015.2 299.3H1018.4V349.3H1015.2ZM1019.1 299.3H1022.3V349.5H1019.1ZM1023 299.3H1026.2V349.4H1023ZM1026.9 299.4H1030.1V348.9H1026.9ZM1030.8 299.2H1034V349.2H1030.8ZM1034.7 299.2H1037.9V349.1H1034.7ZM1038.6 298.8H1041.8V348.9H1038.6ZM1042.5 299H1045.7V349.3H1042.5ZM1046.4 299.1H1049.6V349.2H1046.4ZM1050.3 299.3H1053.5V349.6H1050.3ZM1054.2 299.1H1057.4V349.5H1054.2ZM1058.1 299.6H1061.3V349.6H1058.1ZM1062 299.2H1065.2V349.2H1062ZM1065.9 299.2H1069.1V349.3H1065.9ZM1069.8 298.8H1073V348.7H1069.8ZM1073.7 298.7H1076.9V348.3H1073.7ZM1077.6 298.4H1080.8V347.8H1077.6ZM1081.5 297.9H1084.7V347.7H1081.5ZM1085.4 297.4H1088.6V347.4H1085.4ZM1089.3 297H1092.5V347.3H1089.3ZM1093.2 296.9H1096.4V347.2H1093.2ZM1097.1 296.4H1100.3V347.6H1097.1ZM1101 296.9H1104.2V348.1H1101ZM1104.9 296.7H1108.1V348.3H1104.9ZM1108.8 297.1H1112V348.9H1108.8ZM1112.7 297.5H1115.9V349.1H1112.7ZM1116.6 298.1H1119.8V350H1116.6ZM1120.5 298H1123.7V349.9H1120.5ZM1124.4 298.3H1127.6V349.9H1124.4ZM1128.3 298.4H1131.5V350H1128.3ZM1132.2 298.4H1135.4V350H1132.2ZM1136.1 298.4H1139.3V349.9H1136.1ZM1140 298.7H1143.2V349.2H1140Z" fill="#6c6a33"/>
<path d="M866.9 310L869.9 309.8 872.9 309.7 875.9 309.6 878.9 309.5 881.9 309.4 884.9 309.4 887.9 309.4 890.9 309.4 893.9 309.5 896.9 309.6 899.9 309.8 902.9 310 905.9 310.2 908.9 310.5 911.9 310.7 914.9 310.9 917.9 311.1 920.9 311.2 923.9 311.3 926.9 311.3 929.9 311.2 932.9 311.1 935.9 311 938.9 310.8 941.9 310.6 944.9 310.4 947.9 310.2 950.9 310.1 953.9 310 956.9 309.9 959.9 309.8 962.9 309.8 965.9 309.8 968.9 309.9 971.9 309.9 974.9 310 977.9 310.1 980.9 310.1 983.9 310.2 986.9 310.2 989.9 310.3 992.9 310.3 995.9 310.3 998.9 310.3 1001.9 310.3 1004.9 310.4 1007.9 310.4 1010.9 310.4 1013.9 310.5 1016.9 310.5 1019.9 310.5 1022.9 310.6 1025.9 310.6 1028.9 310.7 1031.9 310.7 1034.9 310.8 1037.9 310.8 1040.9 310.8 1043.9 310.8 1046.9 310.8 1049.9 310.8 1052.9 310.8 1055.9 310.7 1058.9 310.7 1061.9 310.6 1064.9 310.5 1067.9 310.4 1070.9 310.3 1073.9 310.2 1076.9 310.2 1079.9 310.1 1082.9 310 1085.9 310 1088.9 310 1091.9 310 1094.9 310.1 1097.9 310.2 1100.9 310.3 1103.9 310.4 1106.9 310.5 1109.9 310.6 1112.9 310.7 1115.9 310.8 1118.9 310.8 1121.9 310.8 1124.9 310.8 1127.9 310.8 1130.9 310.7 1133.9 310.7 1136.9 310.6 1139.9 310.6 1142.9 310.6 1143.8 310.6 1143.8 336.1 1142.9 336.1 1139.9 336 1136.9 336.1 1133.9 336.2 1130.9 336.3 1127.9 336.5 1124.9 336.7 1121.9 337 1118.9 337.2 1115.9 337.4 1112.9 337.6 1109.9 337.7 1106.9 337.7 1103.9 337.7 1100.9 337.6 1097.9 337.5 1094.9 337.3 1091.9 337.1 1088.9 336.8 1085.9 336.5 1082.9 336.3 1079.9 336.1 1076.9 335.9 1073.9 335.7 1070.9 335.6 1067.9 335.6 1064.9 335.6 1061.9 335.7 1058.9 335.8 1055.9 336 1052.9 336.2 1049.9 336.4 1046.9 336.6 1043.9 336.8 1040.9 337 1037.9 337.2 1034.9 337.3 1031.9 337.4 1028.9 337.5 1025.9 337.5 1022.9 337.4 1019.9 337.3 1016.9 337.2 1013.9 337 1010.9 336.9 1007.9 336.7 1004.9 336.6 1001.9 336.5 998.9 336.5 995.9 336.5 992.9 336.6 989.9 336.7 986.9 336.8 983.9 337 980.9 337.1 977.9 337.2 974.9 337.4 971.9 337.4 968.9 337.4 965.9 337.4 962.9 337.3 959.9 337.1 956.9 336.9 953.9 336.7 950.9 336.5 947.9 336.3 944.9 336.1 941.9 336 938.9 335.9 935.9 335.8 932.9 335.9 929.9 336 926.9 336.1 923.9 336.3 920.9 336.5 917.9 336.7 914.9 336.9 911.9 337.2 908.9 337.4 905.9 337.5 902.9 337.7 899.9 337.8 896.9 337.8 893.9 337.8 890.9 337.8 887.9 337.7 884.9 337.6 881.9 337.5 878.9 337.4 875.9 337.2 872.9 337.1 869.9 336.9 866.9 336.8Z" fill="#ec5e65"/>
<path d="M866.9 309.8H867.4V337H866.9ZM868.2 309.7H871.3V337.2H868.2ZM872.1 309.3H875.2V337.2H872.1ZM876 309.4H879.1V337.4H876ZM879.9 309.2H883V337.8H879.9ZM883.8 309H886.9V337.9H883.8ZM887.7 309.3H890.8V338.1H887.7ZM891.6 309.2H894.7V338.1H891.6ZM895.5 309.3H898.6V337.9H895.5ZM899.4 309.8H902.5V338H899.4ZM903.3 309.8H906.4V337.9H903.3ZM907.2 310.3H910.3V337.6H907.2ZM911.1 310.5H914.2V337.2H911.1ZM915 310.9H918.1V337H915ZM918.9 311.1H922V336.7H918.9ZM922.8 311.2H925.9V336.4H922.8ZM926.7 311.1H929.8V336.3H926.7ZM930.6 311.1H933.7V336.1H930.6ZM934.5 310.8H937.6V335.9H934.5ZM938.4 310.4H941.5V336H938.4ZM942.3 310.2H945.4V336.3H942.3ZM946.2 309.9H949.3V336.4H946.2ZM950.1 309.9H953.2V336.6H950.1ZM954 309.6H957.1V337.1H954ZM957.9 309.6H961V337.3H957.9ZM961.8 309.7H964.9V337.6H961.8ZM965.7 309.7H968.8V337.7H965.7ZM969.6 309.8H972.7V337.6H969.6ZM973.5 309.9H976.6V337.6H973.5ZM977.4 309.9H980.5V337.3H977.4ZM981.3 309.9H984.4V337.1H981.3ZM985.2 310H988.3V336.9H985.2ZM989.1 310.1H992.2V336.9H989.1ZM993 310.1H996.1V336.6H993ZM996.9 310.1H1000V336.6H996.9ZM1000.8 310H1003.9V336.6H1000.8ZM1004.7 310H1007.8V336.7H1004.7ZM1008.6 310.1H1011.7V337.1H1008.6ZM1012.5 310.3H1015.6V337.2H1012.5ZM1016.4 310.4H1019.5V337.4H1016.4ZM1020.3 310.5H1023.4V337.5H1020.3ZM1024.2 310.3H1027.3V337.8H1024.2ZM1028.1 310.4H1031.2V337.6H1028.1ZM1032 310.6H1035.1V337.7H1032ZM1035.9 310.7H1039V337.5H1035.9ZM1039.8 310.7H1042.9V337.3H1039.8ZM1043.7 310.7H1046.8V337H1043.7ZM1047.6 310.6H1050.7V336.5H1047.6ZM1051.5 310.7H1054.6V336.4H1051.5ZM1055.4 310.5H1058.5V336H1055.4ZM1059.3 310.5H1062.4V336H1059.3ZM1063.2 310.4H1066.3V335.8H1063.2ZM1067.1 310.3H1070.2V335.7H1067.1ZM1071 310H1074.1V335.9H1071ZM1074.9 310H1078V335.9H1074.9ZM1078.8 310H1081.9V336.3H1078.8ZM1082.7 309.8H1085.8V336.5H1082.7ZM1086.6 309.9H1089.7V337H1086.6ZM1090.5 309.8H1093.6V337.4H1090.5ZM1094.4 309.9H1097.5V337.5H1094.4ZM1098.3 310.2H1101.4V337.9H1098.3ZM1102.2 310.2H1105.3V338H1102.2ZM1106.1 310.5H1109.2V338H1106.1ZM1110 310.5H1113.1V337.9H1110ZM1113.9 310.5H1117V337.6H1113.9ZM1117.8 310.7H1120.9V337.5H1117.8ZM1121.7 310.6H1124.8V337.2H1121.7ZM1125.6 310.6H1128.7V336.7H1125.6ZM1129.5 310.4H1132.6V336.5H1129.5ZM1133.4 310.6H1136.5V336.3H1133.4ZM1137.3 310.4H1140.4V336.1H1137.3ZM1141.2 310.4H1143.8V336.2H1141.2Z" fill="#e51a24"/>
</g>
<line x1="91.3" y1="265.6" x2="246" y2="265.6" stroke="#d61c28" stroke-width="3.2" />
<line x1="91.3" y1="265.3" x2="553.8" y2="265.3" stroke="#111" stroke-width="3" stroke-dasharray="10.4 3.4"/>
<line x1="236.3" y1="69.5" x2="236.3" y2="433.5" stroke="#1a1a1a" stroke-width="2.2" stroke-dasharray="14.8 5.4"/>
<line x1="236.3" y1="470.5" x2="236.3" y2="833.5" stroke="#1a1a1a" stroke-width="2.2" stroke-dasharray="12 5.5 14.5 5.5 14.5 5.5"/>
<line x1="253.3" y1="470.3" x2="253.3" y2="833.5" stroke="#6c7cc2" stroke-width="2.2" stroke-dasharray="15 4.2 5 4.5"/>
<path d="M91.3 834.2L246 834.2M275.6 834.2L553.8 834.2" fill="none" stroke="#c8262f" stroke-opacity="0.92" stroke-width="2.6"/>
<path d="M245 470.7L276.6 470.7L276.6 834.2L276.6 834.2" fill="none" stroke="#e8525c" stroke-width="2.3" stroke-linejoin="round"/>
<path d="M245 835.2V469.5" fill="none" stroke="#96282e" stroke-width="2.6"/>
<line x1="90.5" y1="69.5" x2="553.8" y2="69.5" stroke="#4757b2" stroke-width="2.6" stroke-dasharray="9.8 3.8 3.1 3.6"/>
<line x1="866.8" y1="257.2" x2="1144.2" y2="257.2" stroke="#3a0a14" stroke-width="1.6" stroke-opacity="0.55"/>
<line x1="866.8" y1="388.7" x2="1144.2" y2="388.7" stroke="#3a0a14" stroke-width="1.6" stroke-opacity="0.55"/>
<line x1="681.6" y1="324.3" x2="836.3" y2="324.3" stroke="#d61c28" stroke-width="3.2" />
<line x1="681.6" y1="324" x2="1144.2" y2="324" stroke="#111" stroke-width="3" stroke-dasharray="10.4 3.4"/>
<line x1="826.8" y1="68.4" x2="826.8" y2="434" stroke="#444" stroke-width="2.2" stroke-dasharray="15.8 5.8"/>
<line x1="826.8" y1="470.2" x2="826.8" y2="833" stroke="#1a1a1a" stroke-width="2.2" stroke-dasharray="12 5.5 14.5 5.5 14.5 5.5"/>
<line x1="837" y1="470" x2="837" y2="833" stroke="#6c7cc2" stroke-width="2.2" stroke-dasharray="15 4.2 5 4.5"/>
<path d="M681.6 833.7L836.3 833.7M865.4 833.7L1144.2 833.7" fill="none" stroke="#d42a36" stroke-opacity="0.92" stroke-width="2.6"/>
<path d="M835.3 469.7L866.4 469.7L866.4 833.7L866.4 833.7" fill="none" stroke="#e8525c" stroke-width="2.3" stroke-linejoin="round"/>
<path d="M835.3 834.7V468.5" fill="none" stroke="#96282e" stroke-width="2.6"/>
<line x1="680.8" y1="68.4" x2="1144.2" y2="68.4" stroke="#4757b2" stroke-width="2.6" stroke-dasharray="9.8 3.8 3.1 3.6"/>
<path d="M242.7 69H264.1M253.4 54V84" stroke="#3a4fb2" stroke-width="5.6" fill="none"/>
<path d="M225.8 265.2H246.6M236.2 249.9V280.5" stroke="#050505" stroke-width="5.6" fill="none"/>
<path d="M827.1 67.9H848.5M837.8 52.9V82.9" stroke="#3a4fb2" stroke-width="5.6" fill="none"/>
<path d="M816.7 324H837.1M826.9 309V339" stroke="#050505" stroke-width="5.6" fill="none"/>
<text x="82.4" y="108.3" font-size="15" font-weight="bold" fill="#1e1e1e" text-anchor="end" textLength="25.8" lengthAdjust="spacingAndGlyphs" stroke="#1e1e1e" stroke-width="0.3">200</text>
<text x="82.4" y="147.4" font-size="15" font-weight="bold" fill="#1e1e1e" text-anchor="end" textLength="21.8" lengthAdjust="spacingAndGlyphs" stroke="#1e1e1e" stroke-width="0.3">150</text>
<text x="82.4" y="188.9" font-size="15" font-weight="bold" fill="#1e1e1e" text-anchor="end" textLength="22.1" lengthAdjust="spacingAndGlyphs" stroke="#1e1e1e" stroke-width="0.3">100</text>
<text x="82.4" y="229.1" font-size="15" font-weight="bold" fill="#1e1e1e" text-anchor="end" textLength="16.8" lengthAdjust="spacingAndGlyphs" stroke="#1e1e1e" stroke-width="0.3">50</text>
<text x="82.4" y="272.1" font-size="15" font-weight="bold" fill="#1e1e1e" text-anchor="end" textLength="8.2" lengthAdjust="spacingAndGlyphs" stroke="#1e1e1e" stroke-width="0.3">0</text>
<text x="82.4" y="311.7" font-size="15" font-weight="bold" fill="#1e1e1e" text-anchor="end" textLength="24.8" lengthAdjust="spacingAndGlyphs" stroke="#1e1e1e" stroke-width="0.3">&#8211;50</text>
<text x="82.4" y="352.8" font-size="15" font-weight="bold" fill="#1e1e1e" text-anchor="end" textLength="30.2" lengthAdjust="spacingAndGlyphs" stroke="#1e1e1e" stroke-width="0.3">&#8211;100</text>
<text x="82.4" y="394.3" font-size="15" font-weight="bold" fill="#1e1e1e" text-anchor="end" textLength="30" lengthAdjust="spacingAndGlyphs" stroke="#1e1e1e" stroke-width="0.3">&#8211;150</text>
<text x="82.4" y="437.4" font-size="15" font-weight="bold" fill="#1e1e1e" text-anchor="end" textLength="33.5" lengthAdjust="spacingAndGlyphs" stroke="#1e1e1e" stroke-width="0.3">&#8211;200</text>
<text x="82.4" y="843" font-size="15" font-weight="bold" fill="#1e1e1e" text-anchor="end" textLength="8.2" lengthAdjust="spacingAndGlyphs" stroke="#1e1e1e" stroke-width="0.3">0</text>
<text x="82.4" y="770.3" font-size="15" font-weight="bold" fill="#1e1e1e" text-anchor="end" textLength="8.6" lengthAdjust="spacingAndGlyphs" stroke="#1e1e1e" stroke-width="0.3">2</text>
<text x="82.4" y="697.7" font-size="15" font-weight="bold" fill="#1e1e1e" text-anchor="end" textLength="9" lengthAdjust="spacingAndGlyphs" stroke="#1e1e1e" stroke-width="0.3">4</text>
<text x="82.4" y="625" font-size="15" font-weight="bold" fill="#1e1e1e" text-anchor="end" textLength="8.8" lengthAdjust="spacingAndGlyphs" stroke="#1e1e1e" stroke-width="0.3">6</text>
<text x="82.4" y="552.4" font-size="15" font-weight="bold" fill="#1e1e1e" text-anchor="end" textLength="8.3" lengthAdjust="spacingAndGlyphs" stroke="#1e1e1e" stroke-width="0.3">8</text>
<text x="82.4" y="479.7" font-size="15" font-weight="bold" fill="#1e1e1e" text-anchor="end" textLength="13.9" lengthAdjust="spacingAndGlyphs" stroke="#1e1e1e" stroke-width="0.3">10</text>
<text x="123.6" y="861" font-size="15" font-weight="bold" fill="#1e1e1e" text-anchor="middle" textLength="28.9" lengthAdjust="spacingAndGlyphs" stroke="#1e1e1e" stroke-width="0.3">99.6</text>
<text x="185" y="861" font-size="15" font-weight="bold" fill="#1e1e1e" text-anchor="middle" textLength="28.9" lengthAdjust="spacingAndGlyphs" stroke="#1e1e1e" stroke-width="0.3">99.8</text>
<text x="246.5" y="861" font-size="15" font-weight="bold" fill="#1e1e1e" text-anchor="middle" textLength="35.8" lengthAdjust="spacingAndGlyphs" stroke="#1e1e1e" stroke-width="0.3">100.0</text>
<text x="308.7" y="861" font-size="15" font-weight="bold" fill="#1e1e1e" text-anchor="middle" textLength="35.8" lengthAdjust="spacingAndGlyphs" stroke="#1e1e1e" stroke-width="0.3">100.2</text>
<text x="370.1" y="861" font-size="15" font-weight="bold" fill="#1e1e1e" text-anchor="middle" textLength="35.8" lengthAdjust="spacingAndGlyphs" stroke="#1e1e1e" stroke-width="0.3">100.4</text>
<text x="431.9" y="861" font-size="15" font-weight="bold" fill="#1e1e1e" text-anchor="middle" textLength="35.8" lengthAdjust="spacingAndGlyphs" stroke="#1e1e1e" stroke-width="0.3">100.6</text>
<text x="493.8" y="861" font-size="15" font-weight="bold" fill="#1e1e1e" text-anchor="middle" textLength="35.8" lengthAdjust="spacingAndGlyphs" stroke="#1e1e1e" stroke-width="0.3">100.8</text>
<text x="555.3" y="861" font-size="15" font-weight="bold" fill="#1e1e1e" text-anchor="middle" textLength="33.2" lengthAdjust="spacingAndGlyphs" stroke="#1e1e1e" stroke-width="0.3">101.0</text>
<text x="0" y="0" transform="translate(34 255) rotate(-90)" font-size="15" font-weight="bold" fill="#1e1e1e" text-anchor="middle" dy="5.3" stroke="#1e1e1e" stroke-width="0.3">V</text>
<text x="0" y="0" transform="translate(34.6 652.6) rotate(-90)" font-size="14.5" font-weight="bold" fill="#1e1e1e" text-anchor="middle" textLength="58" lengthAdjust="spacingAndGlyphs" dy="5.2" stroke="#1e1e1e" stroke-width="0.3">VX_all/V</text>
<text x="242.5" y="885.3" font-size="14.5" font-weight="bold" fill="#1e1e1e" stroke="#1e1e1e" stroke-width="0.3" text-anchor="middle">REF<tspan fill="#1a78c2" stroke="#1a78c2">A</tspan></text>
<text x="90.3" y="904.2" font-size="15" font-weight="bold" fill="#1e1e1e" text-anchor="start" textLength="57" lengthAdjust="spacingAndGlyphs" stroke="#1e1e1e" stroke-width="0.3">Time/&#181;s</text>
<text x="562.1" y="904.2" font-size="15" font-weight="bold" fill="#1e1e1e" text-anchor="end" stroke="#1e1e1e" stroke-width="0.3">200 ns/Div</text>
<text x="322.8" y="924.9" font-size="14.5" font-weight="bold" fill="#1e1e1e" text-anchor="middle" textLength="19.5" lengthAdjust="spacingAndGlyphs" stroke="#1e1e1e" stroke-width="0.3">(a)</text>
<text x="672.6" y="132.9" font-size="15" font-weight="bold" fill="#1e1e1e" text-anchor="end" textLength="24.9" lengthAdjust="spacingAndGlyphs" stroke="#1e1e1e" stroke-width="0.3">300</text>
<text x="672.6" y="197.2" font-size="15" font-weight="bold" fill="#1e1e1e" text-anchor="end" textLength="24.9" lengthAdjust="spacingAndGlyphs" stroke="#1e1e1e" stroke-width="0.3">200</text>
<text x="672.6" y="263.7" font-size="15" font-weight="bold" fill="#1e1e1e" text-anchor="end" textLength="22.1" lengthAdjust="spacingAndGlyphs" stroke="#1e1e1e" stroke-width="0.3">100</text>
<text x="672.6" y="334.1" font-size="15" font-weight="bold" fill="#1e1e1e" text-anchor="end" textLength="8.2" lengthAdjust="spacingAndGlyphs" stroke="#1e1e1e" stroke-width="0.3">0</text>
<text x="672.6" y="396.1" font-size="15" font-weight="bold" fill="#1e1e1e" text-anchor="end" textLength="30.2" lengthAdjust="spacingAndGlyphs" stroke="#1e1e1e" stroke-width="0.3">&#8211;100</text>
<text x="672.6" y="842.5" font-size="15" font-weight="bold" fill="#1e1e1e" text-anchor="end" textLength="8.2" lengthAdjust="spacingAndGlyphs" stroke="#1e1e1e" stroke-width="0.3">0</text>
<text x="672.6" y="769.8" font-size="15" font-weight="bold" fill="#1e1e1e" text-anchor="end" textLength="8.6" lengthAdjust="spacingAndGlyphs" stroke="#1e1e1e" stroke-width="0.3">2</text>
<text x="672.6" y="697.2" font-size="15" font-weight="bold" fill="#1e1e1e" text-anchor="end" textLength="9" lengthAdjust="spacingAndGlyphs" stroke="#1e1e1e" stroke-width="0.3">4</text>
<text x="672.6" y="624.5" font-size="15" font-weight="bold" fill="#1e1e1e" text-anchor="end" textLength="8.8" lengthAdjust="spacingAndGlyphs" stroke="#1e1e1e" stroke-width="0.3">6</text>
<text x="672.6" y="551.9" font-size="15" font-weight="bold" fill="#1e1e1e" text-anchor="end" textLength="8.3" lengthAdjust="spacingAndGlyphs" stroke="#1e1e1e" stroke-width="0.3">8</text>
<text x="672.6" y="479.2" font-size="15" font-weight="bold" fill="#1e1e1e" text-anchor="end" textLength="13.9" lengthAdjust="spacingAndGlyphs" stroke="#1e1e1e" stroke-width="0.3">10</text>
<text x="713.6" y="861" font-size="15" font-weight="bold" fill="#1e1e1e" text-anchor="middle" textLength="28.9" lengthAdjust="spacingAndGlyphs" stroke="#1e1e1e" stroke-width="0.3">99.6</text>
<text x="774.9" y="861" font-size="15" font-weight="bold" fill="#1e1e1e" text-anchor="middle" textLength="28.9" lengthAdjust="spacingAndGlyphs" stroke="#1e1e1e" stroke-width="0.3">99.8</text>
<text x="836.5" y="861" font-size="15" font-weight="bold" fill="#1e1e1e" text-anchor="middle" textLength="35.8" lengthAdjust="spacingAndGlyphs" stroke="#1e1e1e" stroke-width="0.3">100.0</text>
<text x="898.7" y="861" font-size="15" font-weight="bold" fill="#1e1e1e" text-anchor="middle" textLength="35.8" lengthAdjust="spacingAndGlyphs" stroke="#1e1e1e" stroke-width="0.3">100.2</text>
<text x="959.9" y="861" font-size="15" font-weight="bold" fill="#1e1e1e" text-anchor="middle" textLength="35.8" lengthAdjust="spacingAndGlyphs" stroke="#1e1e1e" stroke-width="0.3">100.4</text>
<text x="1022.1" y="861" font-size="15" font-weight="bold" fill="#1e1e1e" text-anchor="middle" textLength="35.8" lengthAdjust="spacingAndGlyphs" stroke="#1e1e1e" stroke-width="0.3">100.6</text>
<text x="1083.8" y="861" font-size="15" font-weight="bold" fill="#1e1e1e" text-anchor="middle" textLength="35.8" lengthAdjust="spacingAndGlyphs" stroke="#1e1e1e" stroke-width="0.3">100.8</text>
<text x="1145.7" y="861" font-size="15" font-weight="bold" fill="#1e1e1e" text-anchor="middle" textLength="33.2" lengthAdjust="spacingAndGlyphs" stroke="#1e1e1e" stroke-width="0.3">101.0</text>
<text x="0" y="0" transform="translate(634.6 255) rotate(-90)" font-size="15" font-weight="bold" fill="#1e1e1e" text-anchor="middle" dy="5.3" stroke="#1e1e1e" stroke-width="0.3">V</text>
<text x="0" y="0" transform="translate(635.2 658.4) rotate(-90)" font-size="14.5" font-weight="bold" fill="#1e1e1e" text-anchor="middle" textLength="58" lengthAdjust="spacingAndGlyphs" dy="5.2" stroke="#1e1e1e" stroke-width="0.3">VX_all/V</text>
<text x="828" y="885.3" font-size="14.5" font-weight="bold" fill="#1e1e1e" stroke="#1e1e1e" stroke-width="0.3" text-anchor="middle">REF<tspan fill="#1a78c2" stroke="#1a78c2">A</tspan></text>
<text x="680.6" y="904.2" font-size="15" font-weight="bold" fill="#1e1e1e" text-anchor="start" textLength="57" lengthAdjust="spacingAndGlyphs" stroke="#1e1e1e" stroke-width="0.3">Time/&#181;s</text>
<text x="1152.4" y="904.2" font-size="15" font-weight="bold" fill="#1e1e1e" text-anchor="end" stroke="#1e1e1e" stroke-width="0.3">200 ns/Div</text>
<text x="913.2" y="924.9" font-size="14.5" font-weight="bold" fill="#1e1e1e" text-anchor="middle" textLength="19.5" lengthAdjust="spacingAndGlyphs" stroke="#1e1e1e" stroke-width="0.3">(b)</text>
<rect x="101.5" y="158.5" width="126.5" height="41.5" fill="#fff"/>
<text x="165.7" y="175.4" font-size="14.2" font-weight="bold" fill="#1a78c2" text-anchor="middle" textLength="112" lengthAdjust="spacingAndGlyphs" stroke="#1a78c2" stroke-width="0.3">TLVR Secondary</text>
<text x="166.1" y="192.8" font-size="14.2" font-weight="bold" fill="#1a78c2" text-anchor="middle" textLength="59.6" lengthAdjust="spacingAndGlyphs" stroke="#1a78c2" stroke-width="0.3">Voltages</text>
<rect x="697" y="203" width="125" height="41.4" fill="#fff"/>
<text x="760.2" y="219.8" font-size="14.2" font-weight="bold" fill="#1a78c2" text-anchor="middle" textLength="111.5" lengthAdjust="spacingAndGlyphs" stroke="#1a78c2" stroke-width="0.3">TLVR Secondary</text>
<text x="760.6" y="238" font-size="14.2" font-weight="bold" fill="#1a78c2" text-anchor="middle" textLength="59.2" lengthAdjust="spacingAndGlyphs" stroke="#1a78c2" stroke-width="0.3">Voltages</text>
<rect x="282" y="645.4" width="156" height="25.6" fill="#fff"/>
<text x="360" y="662" font-size="14.2" font-weight="bold" fill="#b0174a" text-anchor="middle" textLength="139.6" lengthAdjust="spacingAndGlyphs" stroke="#b0174a" stroke-width="0.3">All Primary Windings</text>
<rect x="872" y="644.7" width="154" height="26.3" fill="#fff"/>
<text x="946.8" y="662" font-size="14.2" font-weight="bold" fill="#b0174a" text-anchor="middle" textLength="139.7" lengthAdjust="spacingAndGlyphs" stroke="#b0174a" stroke-width="0.3">All Primary Windings</text>
<line x1="574.5" y1="69.5" x2="574.5" y2="264.8" stroke="#2e2e2e" stroke-width="2" />
<line x1="562.2" y1="69.5" x2="586.7" y2="69.5" stroke="#2e2e2e" stroke-width="2" />
<line x1="562.2" y1="264.8" x2="586.7" y2="264.8" stroke="#2e2e2e" stroke-width="2" />
<text x="0" y="0" transform="translate(596.2 69.5) rotate(-90)" font-size="14.5" font-weight="bold" fill="#1e1e1e" text-anchor="middle" textLength="79" lengthAdjust="spacingAndGlyphs" dy="5.2" stroke="#1e1e1e" stroke-width="0.3">239.282497</text>
<text x="0" y="0" transform="translate(587 167.4) rotate(-90)" font-size="14.5" font-weight="bold" fill="#1e1e1e" text-anchor="middle" textLength="79" lengthAdjust="spacingAndGlyphs" dy="5.2" stroke="#1e1e1e" stroke-width="0.3">239.282497</text>
<text x="0" y="0" transform="translate(597.2 264.8) rotate(-90)" font-size="14.5" font-weight="bold" fill="#1e1e1e" text-anchor="middle" dy="5.2" stroke="#1e1e1e" stroke-width="0.3">0</text>
<line x1="1170" y1="69.5" x2="1170" y2="322.7" stroke="#2e2e2e" stroke-width="2" />
<line x1="1157.9" y1="69.5" x2="1182" y2="69.5" stroke="#2e2e2e" stroke-width="2" />
<line x1="1157.9" y1="322.7" x2="1182" y2="322.7" stroke="#2e2e2e" stroke-width="2" />
<text x="0" y="0" transform="translate(1192.2 69.5) rotate(-90)" font-size="14.5" font-weight="bold" fill="#1e1e1e" text-anchor="middle" textLength="74.5" lengthAdjust="spacingAndGlyphs" dy="5.2" stroke="#1e1e1e" stroke-width="0.3">390.539718</text>
<text x="0" y="0" transform="translate(1182.8 196.1) rotate(-90)" font-size="14.5" font-weight="bold" fill="#1e1e1e" text-anchor="middle" textLength="74.5" lengthAdjust="spacingAndGlyphs" dy="5.2" stroke="#1e1e1e" stroke-width="0.3">390.539718</text>
<text x="0" y="0" transform="translate(1193 322.7) rotate(-90)" font-size="14.5" font-weight="bold" fill="#1e1e1e" text-anchor="middle" dy="5.2" stroke="#1e1e1e" stroke-width="0.3">0</text>
</svg></body></html>
